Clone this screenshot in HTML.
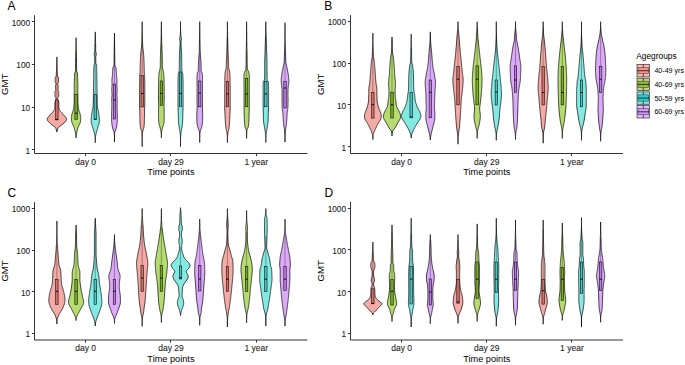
<!DOCTYPE html><html><head><meta charset="utf-8"><style>html,body{margin:0;padding:0;background:#fff;}svg{display:block;}</style></head><body>
<svg width="685" height="365" viewBox="0 0 685 365" font-family='"Liberation Sans", sans-serif'>
<rect width="685" height="365" fill="#fff"/>
<path d="M56.9,56.9 L56.9,57.9 L56.9,58.9 L56.9,59.9 L56.9,61.0 L56.9,62.0 L56.9,63.0 L57.0,64.0 L57.0,65.0 L57.0,66.0 L57.1,67.0 L57.1,68.1 L57.2,69.1 L57.2,70.1 L57.3,71.1 L57.3,72.1 L57.4,73.1 L57.4,74.2 L57.5,75.2 L57.7,76.2 L58.2,77.2 L58.5,78.2 L58.5,79.2 L58.5,80.2 L58.5,81.3 L58.5,82.3 L57.8,83.3 L57.9,84.3 L58.1,85.3 L58.2,86.3 L58.2,87.3 L58.2,88.4 L58.1,89.4 L58.1,90.4 L58.7,91.4 L58.7,92.4 L58.7,93.4 L58.7,94.4 L58.7,95.5 L58.6,96.5 L58.0,97.5 L57.7,98.5 L57.9,99.5 L58.3,100.5 L58.7,101.6 L58.9,102.6 L58.9,103.6 L58.9,104.6 L58.9,105.6 L58.9,106.6 L58.9,107.6 L59.0,108.7 L59.3,109.7 L60.0,110.7 L60.8,111.7 L61.7,112.7 L62.6,113.7 L63.5,114.7 L64.4,115.8 L65.3,116.8 L66.1,117.8 L66.6,118.8 L66.6,119.8 L66.0,120.8 L65.1,121.9 L64.1,122.9 L63.0,123.9 L61.7,124.9 L60.3,125.9 L58.9,126.9 L58.1,127.9 L57.7,129.0 L57.4,130.0 L57.1,131.0 L56.9,132.0 L56.9,132.0 L56.6,131.0 L56.3,130.0 L56.1,129.0 L55.7,127.9 L54.9,126.9 L53.4,125.9 L52.1,124.9 L50.8,123.9 L49.7,122.9 L48.7,121.9 L47.8,120.8 L47.2,119.8 L47.2,118.8 L47.7,117.8 L48.5,116.8 L49.4,115.8 L50.2,114.7 L51.1,113.7 L52.1,112.7 L53.0,111.7 L53.8,110.7 L54.5,109.7 L54.8,108.7 L54.8,107.6 L54.8,106.6 L54.8,105.6 L54.8,104.6 L54.8,103.6 L54.8,102.6 L55.1,101.6 L55.5,100.5 L55.9,99.5 L56.0,98.5 L55.7,97.5 L55.2,96.5 L55.0,95.5 L55.0,94.4 L55.0,93.4 L55.0,92.4 L55.0,91.4 L55.7,90.4 L55.7,89.4 L55.5,88.4 L55.5,87.3 L55.5,86.3 L55.6,85.3 L55.9,84.3 L56.0,83.3 L55.3,82.3 L55.2,81.3 L55.2,80.2 L55.2,79.2 L55.2,78.2 L55.5,77.2 L56.1,76.2 L56.2,75.2 L56.3,74.2 L56.4,73.1 L56.4,72.1 L56.5,71.1 L56.5,70.1 L56.6,69.1 L56.6,68.1 L56.7,67.0 L56.7,66.0 L56.8,65.0 L56.8,64.0 L56.9,63.0 L56.9,62.0 L56.9,61.0 L56.9,59.9 L56.9,58.9 L56.9,57.9 L56.9,56.9 Z" fill="#F5AAA6" stroke="#000" stroke-width="0.7"/>
<line x1="56.89" y1="74.00" x2="56.89" y2="100.00" stroke="#000" stroke-opacity="0.4" stroke-width="0.8"/>
<rect x="55.69" y="100.00" width="2.40" height="19.90" fill="#D2706A" stroke="#000" stroke-width="0.55"/>
<line x1="55.69" y1="119.30" x2="58.09" y2="119.30" stroke="#000" stroke-width="0.9"/>
<path d="M76.1,37.7 L76.1,38.7 L76.1,39.7 L76.1,40.7 L76.1,41.7 L76.1,42.8 L76.1,43.8 L76.2,44.8 L76.2,45.8 L76.2,46.8 L76.2,47.8 L76.3,48.8 L76.3,49.8 L76.3,50.9 L76.3,51.9 L76.4,52.9 L76.4,53.9 L76.4,54.9 L76.4,55.9 L76.5,56.9 L76.5,57.9 L76.5,59.0 L76.5,60.0 L76.5,61.0 L76.6,62.0 L76.6,63.0 L76.6,64.0 L76.6,65.0 L76.6,66.0 L76.6,67.1 L76.6,68.1 L76.6,69.1 L76.7,70.1 L76.7,71.1 L77.0,72.1 L77.4,73.1 L77.5,74.1 L77.6,75.1 L77.6,76.2 L77.6,77.2 L77.7,78.2 L77.7,79.2 L77.7,80.2 L77.8,81.2 L77.8,82.2 L77.9,83.2 L77.9,84.3 L77.9,85.3 L77.9,86.3 L77.9,87.3 L77.9,88.3 L77.9,89.3 L77.9,90.3 L77.9,91.3 L77.9,92.4 L77.9,93.4 L77.9,94.4 L77.9,95.4 L77.9,96.4 L77.9,97.4 L78.0,98.4 L78.0,99.4 L78.0,100.5 L78.0,101.5 L78.0,102.5 L78.1,103.5 L78.1,104.5 L78.2,105.5 L78.3,106.5 L78.4,107.5 L78.6,108.5 L78.8,109.6 L79.0,110.6 L79.3,111.6 L79.7,112.6 L80.0,113.6 L80.2,114.6 L80.4,115.6 L80.6,116.6 L80.7,117.7 L80.7,118.7 L80.7,119.7 L80.6,120.7 L80.4,121.7 L80.2,122.7 L79.8,123.7 L79.3,124.7 L78.8,125.8 L78.4,126.8 L78.0,127.8 L77.7,128.8 L77.4,129.8 L77.2,130.8 L76.9,131.8 L76.7,132.8 L76.4,133.9 L76.3,134.9 L76.1,135.9 L76.1,136.9 L76.1,137.9 L76.1,137.9 L76.1,136.9 L76.0,135.9 L75.9,134.9 L75.7,133.9 L75.5,132.8 L75.2,131.8 L75.0,130.8 L74.7,129.8 L74.5,128.8 L74.2,127.8 L73.8,126.8 L73.3,125.8 L72.9,124.7 L72.4,123.7 L72.0,122.7 L71.7,121.7 L71.6,120.7 L71.5,119.7 L71.4,118.7 L71.5,117.7 L71.6,116.6 L71.7,115.6 L71.9,114.6 L72.1,113.6 L72.4,112.6 L72.8,111.6 L73.1,110.6 L73.3,109.6 L73.5,108.5 L73.7,107.5 L73.9,106.5 L74.0,105.5 L74.0,104.5 L74.1,103.5 L74.1,102.5 L74.1,101.5 L74.2,100.5 L74.2,99.4 L74.2,98.4 L74.2,97.4 L74.2,96.4 L74.2,95.4 L74.2,94.4 L74.2,93.4 L74.2,92.4 L74.2,91.3 L74.2,90.3 L74.2,89.3 L74.2,88.3 L74.2,87.3 L74.2,86.3 L74.2,85.3 L74.2,84.3 L74.3,83.2 L74.3,82.2 L74.4,81.2 L74.4,80.2 L74.5,79.2 L74.5,78.2 L74.5,77.2 L74.5,76.2 L74.6,75.1 L74.6,74.1 L74.7,73.1 L75.1,72.1 L75.4,71.1 L75.5,70.1 L75.5,69.1 L75.5,68.1 L75.5,67.1 L75.6,66.0 L75.6,65.0 L75.6,64.0 L75.6,63.0 L75.6,62.0 L75.6,61.0 L75.6,60.0 L75.6,59.0 L75.7,57.9 L75.7,56.9 L75.7,55.9 L75.7,54.9 L75.8,53.9 L75.8,52.9 L75.8,51.9 L75.8,50.9 L75.9,49.8 L75.9,48.8 L75.9,47.8 L75.9,46.8 L76.0,45.8 L76.0,44.8 L76.0,43.8 L76.1,42.8 L76.1,41.7 L76.1,40.7 L76.1,39.7 L76.1,38.7 L76.1,37.7 Z" fill="#B6DC70" stroke="#000" stroke-width="0.7"/>
<line x1="76.07" y1="51.00" x2="76.07" y2="94.40" stroke="#000" stroke-opacity="0.4" stroke-width="0.8"/>
<rect x="74.87" y="94.40" width="2.40" height="25.00" fill="#7AAE28" stroke="#000" stroke-width="0.55"/>
<line x1="74.87" y1="113.20" x2="77.27" y2="113.20" stroke="#000" stroke-width="0.9"/>
<path d="M95.3,31.9 L95.3,32.9 L95.3,33.9 L95.3,34.9 L95.3,36.0 L95.4,37.0 L95.4,38.0 L95.4,39.0 L95.5,40.0 L95.5,41.0 L95.6,42.1 L95.6,43.1 L95.6,44.1 L95.6,45.1 L95.7,46.1 L95.7,47.1 L95.7,48.2 L95.7,49.2 L95.7,50.2 L95.8,51.2 L95.8,52.2 L96.3,53.2 L96.3,54.3 L96.2,55.3 L95.8,56.3 L95.8,57.3 L95.8,58.3 L95.8,59.3 L95.8,60.4 L95.9,61.4 L95.9,62.4 L95.9,63.4 L96.3,64.4 L96.5,65.4 L96.6,66.5 L96.6,67.5 L96.7,68.5 L96.7,69.5 L96.7,70.5 L96.8,71.5 L96.8,72.6 L96.8,73.6 L96.8,74.6 L96.8,75.6 L96.8,76.6 L96.9,77.6 L96.9,78.7 L96.9,79.7 L96.9,80.7 L96.9,81.7 L96.9,82.7 L97.0,83.7 L97.0,84.8 L97.0,85.8 L97.0,86.8 L97.0,87.8 L97.0,88.8 L97.0,89.8 L97.1,90.9 L97.1,91.9 L97.1,92.9 L97.1,93.9 L97.1,94.9 L97.1,95.9 L97.2,97.0 L97.2,98.0 L97.2,99.0 L97.2,100.0 L97.2,101.0 L97.2,102.0 L97.3,103.1 L97.3,104.1 L97.3,105.1 L97.4,106.1 L97.4,107.1 L97.6,108.1 L97.9,109.2 L98.1,110.2 L98.3,111.2 L98.5,112.2 L98.7,113.2 L98.8,114.2 L99.0,115.3 L99.1,116.3 L99.2,117.3 L99.3,118.3 L99.3,119.3 L99.3,120.3 L99.3,121.4 L99.3,122.4 L99.2,123.4 L98.9,124.4 L98.4,125.4 L98.1,126.4 L97.9,127.5 L97.6,128.5 L97.3,129.5 L97.0,130.5 L96.7,131.5 L96.4,132.5 L96.2,133.6 L95.9,134.6 L95.7,135.6 L95.5,136.6 L95.4,137.6 L95.3,138.6 L95.3,139.7 L95.3,140.7 L95.3,141.7 L95.3,142.7 L95.3,142.7 L95.3,141.7 L95.3,140.7 L95.3,139.7 L95.2,138.6 L95.1,137.6 L95.0,136.6 L94.9,135.6 L94.6,134.6 L94.4,133.6 L94.1,132.5 L93.9,131.5 L93.6,130.5 L93.3,129.5 L93.0,128.5 L92.7,127.5 L92.4,126.4 L92.1,125.4 L91.7,124.4 L91.3,123.4 L91.2,122.4 L91.2,121.4 L91.2,120.3 L91.2,119.3 L91.2,118.3 L91.3,117.3 L91.4,116.3 L91.6,115.3 L91.7,114.2 L91.9,113.2 L92.0,112.2 L92.2,111.2 L92.4,110.2 L92.6,109.2 L92.9,108.1 L93.1,107.1 L93.1,106.1 L93.2,105.1 L93.2,104.1 L93.3,103.1 L93.3,102.0 L93.3,101.0 L93.3,100.0 L93.3,99.0 L93.4,98.0 L93.4,97.0 L93.4,95.9 L93.4,94.9 L93.4,93.9 L93.4,92.9 L93.5,91.9 L93.5,90.9 L93.5,89.8 L93.5,88.8 L93.5,87.8 L93.5,86.8 L93.5,85.8 L93.6,84.8 L93.6,83.7 L93.6,82.7 L93.6,81.7 L93.6,80.7 L93.6,79.7 L93.6,78.7 L93.7,77.6 L93.7,76.6 L93.7,75.6 L93.7,74.6 L93.7,73.6 L93.7,72.6 L93.8,71.5 L93.8,70.5 L93.8,69.5 L93.8,68.5 L93.9,67.5 L93.9,66.5 L94.0,65.4 L94.2,64.4 L94.6,63.4 L94.6,62.4 L94.7,61.4 L94.7,60.4 L94.7,59.3 L94.7,58.3 L94.7,57.3 L94.7,56.3 L94.3,55.3 L94.2,54.3 L94.3,53.2 L94.7,52.2 L94.8,51.2 L94.8,50.2 L94.8,49.2 L94.8,48.2 L94.9,47.1 L94.9,46.1 L94.9,45.1 L94.9,44.1 L94.9,43.1 L95.0,42.1 L95.0,41.0 L95.0,40.0 L95.1,39.0 L95.1,38.0 L95.2,37.0 L95.2,36.0 L95.3,34.9 L95.3,33.9 L95.3,32.9 L95.3,31.9 Z" fill="#82EAE2" stroke="#000" stroke-width="0.7"/>
<line x1="95.26" y1="44.00" x2="95.26" y2="94.40" stroke="#000" stroke-opacity="0.4" stroke-width="0.8"/>
<rect x="94.06" y="94.40" width="2.40" height="25.20" fill="#4CC6C4" stroke="#000" stroke-width="0.55"/>
<line x1="94.06" y1="119.20" x2="96.46" y2="119.20" stroke="#000" stroke-width="0.9"/>
<path d="M114.5,33.0 L114.5,34.0 L114.5,35.0 L114.5,36.0 L114.5,37.0 L114.5,38.0 L114.5,39.1 L114.5,40.1 L114.5,41.1 L114.5,42.1 L114.5,43.1 L114.6,44.1 L114.6,45.1 L114.6,46.1 L114.6,47.1 L114.7,48.1 L114.7,49.1 L114.7,50.2 L114.7,51.2 L114.7,52.2 L114.7,53.2 L114.8,54.2 L114.8,55.2 L114.8,56.2 L114.8,57.2 L114.8,58.2 L114.8,59.2 L114.8,60.2 L114.8,61.3 L114.9,62.3 L114.9,63.3 L114.9,64.3 L115.0,65.3 L115.2,66.3 L116.0,67.3 L116.1,68.3 L116.2,69.3 L116.2,70.3 L116.3,71.4 L116.3,72.4 L116.4,73.4 L116.4,74.4 L116.5,75.4 L116.6,76.4 L116.8,77.4 L116.9,78.4 L116.9,79.4 L117.0,80.4 L117.0,81.4 L117.0,82.5 L116.9,83.5 L116.9,84.5 L116.9,85.5 L117.0,86.5 L117.1,87.5 L117.1,88.5 L117.2,89.5 L117.2,90.5 L117.1,91.5 L117.0,92.5 L117.0,93.6 L116.9,94.6 L116.9,95.6 L117.0,96.6 L117.1,97.6 L117.1,98.6 L117.2,99.6 L117.2,100.6 L117.2,101.6 L117.1,102.6 L117.1,103.6 L117.1,104.7 L117.1,105.7 L117.1,106.7 L117.1,107.7 L117.2,108.7 L117.2,109.7 L117.2,110.7 L117.3,111.7 L117.3,112.7 L117.3,113.7 L117.3,114.8 L117.3,115.8 L117.3,116.8 L117.3,117.8 L117.3,118.8 L117.3,119.8 L117.3,120.8 L117.2,121.8 L117.1,122.8 L117.0,123.8 L116.9,124.8 L116.7,125.9 L116.6,126.9 L116.3,127.9 L116.0,128.9 L115.7,129.9 L115.3,130.9 L114.8,131.9 L114.7,132.9 L114.6,133.9 L114.5,134.9 L114.5,135.9 L114.5,137.0 L114.5,138.0 L114.5,139.0 L114.5,140.0 L114.5,141.0 L114.5,142.0 L114.5,142.0 L114.5,141.0 L114.5,140.0 L114.5,139.0 L114.5,138.0 L114.5,137.0 L114.5,135.9 L114.4,134.9 L114.3,133.9 L114.2,132.9 L114.1,131.9 L113.6,130.9 L113.2,129.9 L112.9,128.9 L112.6,127.9 L112.3,126.9 L112.2,125.9 L112.0,124.8 L111.9,123.8 L111.8,122.8 L111.7,121.8 L111.6,120.8 L111.6,119.8 L111.6,118.8 L111.6,117.8 L111.6,116.8 L111.6,115.8 L111.6,114.8 L111.6,113.7 L111.6,112.7 L111.6,111.7 L111.7,110.7 L111.7,109.7 L111.7,108.7 L111.8,107.7 L111.8,106.7 L111.8,105.7 L111.8,104.7 L111.8,103.6 L111.8,102.6 L111.7,101.6 L111.7,100.6 L111.7,99.6 L111.8,98.6 L111.8,97.6 L111.9,96.6 L112.0,95.6 L112.0,94.6 L111.9,93.6 L111.9,92.5 L111.8,91.5 L111.7,90.5 L111.7,89.5 L111.8,88.5 L111.9,87.5 L111.9,86.5 L112.0,85.5 L112.0,84.5 L112.0,83.5 L111.9,82.5 L111.9,81.4 L111.9,80.4 L112.0,79.4 L112.0,78.4 L112.1,77.4 L112.3,76.4 L112.4,75.4 L112.5,74.4 L112.5,73.4 L112.6,72.4 L112.6,71.4 L112.7,70.3 L112.7,69.3 L112.8,68.3 L113.0,67.3 L113.7,66.3 L113.9,65.3 L114.0,64.3 L114.0,63.3 L114.0,62.3 L114.1,61.3 L114.1,60.2 L114.1,59.2 L114.1,58.2 L114.1,57.2 L114.1,56.2 L114.1,55.2 L114.1,54.2 L114.2,53.2 L114.2,52.2 L114.2,51.2 L114.2,50.2 L114.2,49.1 L114.2,48.1 L114.3,47.1 L114.3,46.1 L114.3,45.1 L114.3,44.1 L114.4,43.1 L114.4,42.1 L114.4,41.1 L114.4,40.1 L114.4,39.1 L114.5,38.0 L114.5,37.0 L114.5,36.0 L114.5,35.0 L114.5,34.0 L114.5,33.0 Z" fill="#DDAAFA" stroke="#000" stroke-width="0.7"/>
<line x1="114.45" y1="40.00" x2="114.45" y2="84.00" stroke="#000" stroke-opacity="0.4" stroke-width="0.8"/>
<rect x="113.25" y="84.00" width="2.40" height="35.00" fill="#BC78E4" stroke="#000" stroke-width="0.55"/>
<line x1="113.25" y1="100.00" x2="115.65" y2="100.00" stroke="#000" stroke-width="0.9"/>
<path d="M142.2,21.7 L142.2,22.7 L142.2,23.7 L142.2,24.7 L142.2,25.8 L142.2,26.8 L142.2,27.8 L142.2,28.8 L142.2,29.8 L142.3,30.8 L142.3,31.9 L142.3,32.9 L142.3,33.9 L142.4,34.9 L142.4,35.9 L142.4,36.9 L142.4,37.9 L142.5,39.0 L142.5,40.0 L142.5,41.0 L142.5,42.0 L142.6,43.0 L142.6,44.0 L142.7,45.1 L142.7,46.1 L142.8,47.1 L142.9,48.1 L143.0,49.1 L143.2,50.1 L143.3,51.1 L143.4,52.2 L143.5,53.2 L143.6,54.2 L143.7,55.2 L143.8,56.2 L143.8,57.2 L143.9,58.3 L143.9,59.3 L144.0,60.3 L144.0,61.3 L144.0,62.3 L144.1,63.3 L144.1,64.3 L144.1,65.4 L144.2,66.4 L144.2,67.4 L144.2,68.4 L144.2,69.4 L144.3,70.4 L144.3,71.5 L144.3,72.5 L144.4,73.5 L144.5,74.5 L144.6,75.5 L144.6,76.5 L144.7,77.5 L144.7,78.6 L144.7,79.6 L144.7,80.6 L144.7,81.6 L144.8,82.6 L144.8,83.6 L144.8,84.7 L144.8,85.7 L144.8,86.7 L144.8,87.7 L144.8,88.7 L144.8,89.7 L144.8,90.8 L144.8,91.8 L144.8,92.8 L144.8,93.8 L144.8,94.8 L144.8,95.8 L144.8,96.8 L144.8,97.9 L144.8,98.9 L144.8,99.9 L144.8,100.9 L144.8,101.9 L144.8,102.9 L144.8,104.0 L144.8,105.0 L144.7,106.0 L144.7,107.0 L144.7,108.0 L144.6,109.0 L144.6,110.0 L144.5,111.1 L144.5,112.1 L144.5,113.1 L144.5,114.1 L144.5,115.1 L144.5,116.1 L144.5,117.2 L144.4,118.2 L144.4,119.2 L144.4,120.2 L144.4,121.2 L144.4,122.2 L144.3,123.2 L144.2,124.3 L144.2,125.3 L144.1,126.3 L143.9,127.3 L143.7,128.3 L143.4,129.3 L143.1,130.4 L142.7,131.4 L142.5,132.4 L142.4,133.4 L142.3,134.4 L142.3,135.4 L142.2,136.4 L142.2,137.5 L142.2,138.5 L142.2,139.5 L142.2,140.5 L142.2,141.5 L142.2,142.5 L142.2,143.6 L142.2,144.6 L142.2,145.6 L142.2,146.6 L142.2,146.6 L142.2,145.6 L142.2,144.6 L142.2,143.6 L142.2,142.5 L142.2,141.5 L142.2,140.5 L142.2,139.5 L142.2,138.5 L142.1,137.5 L142.1,136.4 L142.0,135.4 L142.0,134.4 L141.9,133.4 L141.8,132.4 L141.7,131.4 L141.2,130.4 L140.9,129.3 L140.7,128.3 L140.4,127.3 L140.2,126.3 L140.2,125.3 L140.1,124.3 L140.0,123.2 L140.0,122.2 L139.9,121.2 L139.9,120.2 L139.9,119.2 L139.9,118.2 L139.9,117.2 L139.9,116.1 L139.9,115.1 L139.8,114.1 L139.8,113.1 L139.8,112.1 L139.8,111.1 L139.7,110.0 L139.7,109.0 L139.6,108.0 L139.6,107.0 L139.6,106.0 L139.6,105.0 L139.6,104.0 L139.5,102.9 L139.5,101.9 L139.5,100.9 L139.5,99.9 L139.5,98.9 L139.5,97.9 L139.5,96.8 L139.5,95.8 L139.5,94.8 L139.5,93.8 L139.5,92.8 L139.5,91.8 L139.5,90.8 L139.5,89.7 L139.5,88.7 L139.5,87.7 L139.5,86.7 L139.5,85.7 L139.6,84.7 L139.6,83.6 L139.6,82.6 L139.6,81.6 L139.6,80.6 L139.6,79.6 L139.6,78.6 L139.7,77.5 L139.7,76.5 L139.7,75.5 L139.8,74.5 L139.9,73.5 L140.0,72.5 L140.0,71.5 L140.1,70.4 L140.1,69.4 L140.1,68.4 L140.2,67.4 L140.2,66.4 L140.2,65.4 L140.2,64.3 L140.3,63.3 L140.3,62.3 L140.3,61.3 L140.4,60.3 L140.4,59.3 L140.5,58.3 L140.5,57.2 L140.6,56.2 L140.6,55.2 L140.7,54.2 L140.8,53.2 L140.9,52.2 L141.0,51.1 L141.2,50.1 L141.3,49.1 L141.4,48.1 L141.5,47.1 L141.6,46.1 L141.7,45.1 L141.7,44.0 L141.8,43.0 L141.8,42.0 L141.8,41.0 L141.8,40.0 L141.9,39.0 L141.9,37.9 L141.9,36.9 L141.9,35.9 L142.0,34.9 L142.0,33.9 L142.0,32.9 L142.1,31.9 L142.1,30.8 L142.1,29.8 L142.1,28.8 L142.2,27.8 L142.2,26.8 L142.2,25.8 L142.2,24.7 L142.2,23.7 L142.2,22.7 L142.2,21.7 Z" fill="#F5AAA6" stroke="#000" stroke-width="0.7"/>
<line x1="142.17" y1="43.70" x2="142.17" y2="75.50" stroke="#000" stroke-opacity="0.4" stroke-width="0.8"/>
<rect x="140.97" y="75.50" width="2.40" height="31.50" fill="#D2706A" stroke="#000" stroke-width="0.55"/>
<line x1="140.97" y1="93.50" x2="143.37" y2="93.50" stroke="#000" stroke-width="0.9"/>
<path d="M161.4,21.7 L161.4,22.7 L161.4,23.7 L161.4,24.8 L161.4,25.8 L161.4,26.8 L161.4,27.8 L161.4,28.8 L161.4,29.8 L161.4,30.9 L161.5,31.9 L161.5,32.9 L161.5,33.9 L161.6,34.9 L161.6,35.9 L161.6,37.0 L161.6,38.0 L161.7,39.0 L161.7,40.0 L161.7,41.0 L161.7,42.1 L161.8,43.1 L161.8,44.1 L161.8,45.1 L161.9,46.1 L161.9,47.1 L162.0,48.2 L162.0,49.2 L162.1,50.2 L162.1,51.2 L162.2,52.2 L162.2,53.2 L162.2,54.3 L162.3,55.3 L162.3,56.3 L162.3,57.3 L162.3,58.3 L162.4,59.3 L162.4,60.4 L162.4,61.4 L162.4,62.4 L162.4,63.4 L162.4,64.4 L162.4,65.5 L162.5,66.5 L162.5,67.5 L162.6,68.5 L162.9,69.5 L163.1,70.5 L163.4,71.6 L163.6,72.6 L163.7,73.6 L163.8,74.6 L163.9,75.6 L164.0,76.6 L164.0,77.7 L164.0,78.7 L164.1,79.7 L164.1,80.7 L164.1,81.7 L164.1,82.8 L164.1,83.8 L164.1,84.8 L164.2,85.8 L164.2,86.8 L164.2,87.8 L164.2,88.9 L164.2,89.9 L164.2,90.9 L164.2,91.9 L164.2,92.9 L164.2,93.9 L164.2,95.0 L164.2,96.0 L164.2,97.0 L164.2,98.0 L164.2,99.0 L164.2,100.1 L164.2,101.1 L164.1,102.1 L164.1,103.1 L164.0,104.1 L164.0,105.1 L164.0,106.2 L164.1,107.2 L164.1,108.2 L164.2,109.2 L164.2,110.2 L164.2,111.2 L164.2,112.3 L164.2,113.3 L164.2,114.3 L164.2,115.3 L164.2,116.3 L164.2,117.3 L164.2,118.4 L164.2,119.4 L164.1,120.4 L164.1,121.4 L164.0,122.4 L163.8,123.5 L163.5,124.5 L163.2,125.5 L162.9,126.5 L162.7,127.5 L162.4,128.5 L162.1,129.6 L161.9,130.6 L161.7,131.6 L161.6,132.6 L161.5,133.6 L161.4,134.6 L161.4,135.7 L161.4,136.7 L161.4,137.7 L161.4,137.7 L161.4,136.7 L161.4,135.7 L161.4,134.6 L161.2,133.6 L161.1,132.6 L161.0,131.6 L160.8,130.6 L160.6,129.6 L160.3,128.5 L160.0,127.5 L159.8,126.5 L159.5,125.5 L159.2,124.5 L158.9,123.5 L158.8,122.4 L158.7,121.4 L158.6,120.4 L158.5,119.4 L158.5,118.4 L158.5,117.3 L158.5,116.3 L158.5,115.3 L158.5,114.3 L158.5,113.3 L158.5,112.3 L158.5,111.2 L158.5,110.2 L158.5,109.2 L158.6,108.2 L158.6,107.2 L158.7,106.2 L158.7,105.1 L158.7,104.1 L158.6,103.1 L158.6,102.1 L158.5,101.1 L158.5,100.1 L158.5,99.0 L158.5,98.0 L158.5,97.0 L158.5,96.0 L158.5,95.0 L158.5,93.9 L158.5,92.9 L158.5,91.9 L158.5,90.9 L158.5,89.9 L158.5,88.9 L158.5,87.8 L158.5,86.8 L158.5,85.8 L158.6,84.8 L158.6,83.8 L158.6,82.8 L158.6,81.7 L158.6,80.7 L158.6,79.7 L158.7,78.7 L158.7,77.7 L158.7,76.6 L158.8,75.6 L158.9,74.6 L159.0,73.6 L159.1,72.6 L159.3,71.6 L159.6,70.5 L159.8,69.5 L160.1,68.5 L160.2,67.5 L160.2,66.5 L160.3,65.5 L160.3,64.4 L160.3,63.4 L160.3,62.4 L160.3,61.4 L160.3,60.4 L160.4,59.3 L160.4,58.3 L160.4,57.3 L160.4,56.3 L160.5,55.3 L160.5,54.3 L160.5,53.2 L160.6,52.2 L160.6,51.2 L160.6,50.2 L160.7,49.2 L160.7,48.2 L160.8,47.1 L160.8,46.1 L160.9,45.1 L160.9,44.1 L160.9,43.1 L161.0,42.1 L161.0,41.0 L161.0,40.0 L161.1,39.0 L161.1,38.0 L161.1,37.0 L161.1,35.9 L161.2,34.9 L161.2,33.9 L161.2,32.9 L161.2,31.9 L161.3,30.9 L161.3,29.8 L161.3,28.8 L161.3,27.8 L161.4,26.8 L161.4,25.8 L161.4,24.8 L161.4,23.7 L161.4,22.7 L161.4,21.7 Z" fill="#B6DC70" stroke="#000" stroke-width="0.7"/>
<line x1="161.36" y1="43.70" x2="161.36" y2="81.00" stroke="#000" stroke-opacity="0.4" stroke-width="0.8"/>
<rect x="160.16" y="81.00" width="2.40" height="24.50" fill="#7AAE28" stroke="#000" stroke-width="0.55"/>
<line x1="160.16" y1="93.40" x2="162.56" y2="93.40" stroke="#000" stroke-width="0.9"/>
<path d="M180.5,21.7 L180.5,22.7 L180.5,23.7 L180.5,24.7 L180.5,25.8 L180.5,26.8 L180.5,27.8 L180.5,28.8 L180.6,29.8 L180.6,30.8 L180.7,31.9 L180.7,32.9 L180.8,33.9 L180.8,34.9 L180.9,35.9 L181.0,36.9 L181.3,37.9 L181.4,39.0 L181.3,40.0 L181.1,41.0 L181.0,42.0 L181.0,43.0 L181.0,44.0 L181.1,45.1 L181.1,46.1 L181.2,47.1 L181.3,48.1 L181.3,49.1 L181.4,50.1 L181.5,51.1 L181.6,52.2 L181.6,53.2 L181.7,54.2 L181.7,55.2 L181.7,56.2 L181.7,57.2 L181.7,58.3 L181.7,59.3 L181.7,60.3 L181.8,61.3 L181.8,62.3 L181.8,63.3 L181.8,64.3 L181.8,65.4 L181.8,66.4 L181.8,67.4 L181.9,68.4 L181.9,69.4 L181.9,70.4 L182.0,71.5 L182.3,72.5 L182.7,73.5 L182.8,74.5 L182.9,75.5 L182.9,76.5 L183.0,77.5 L183.0,78.6 L183.0,79.6 L183.1,80.6 L183.1,81.6 L183.1,82.6 L183.1,83.6 L183.1,84.7 L183.1,85.7 L183.1,86.7 L183.1,87.7 L183.1,88.7 L183.1,89.7 L183.1,90.8 L183.1,91.8 L183.1,92.8 L183.1,93.8 L183.1,94.8 L183.1,95.8 L183.1,96.8 L183.1,97.9 L183.1,98.9 L183.1,99.9 L183.1,100.9 L183.1,101.9 L183.1,102.9 L183.1,104.0 L183.1,105.0 L183.1,106.0 L183.1,107.0 L183.0,108.0 L183.0,109.0 L183.0,110.0 L182.9,111.1 L182.9,112.1 L182.9,113.1 L182.8,114.1 L182.8,115.1 L182.8,116.1 L182.8,117.2 L182.8,118.2 L182.7,119.2 L182.7,120.2 L182.6,121.2 L182.6,122.2 L182.5,123.2 L182.4,124.3 L182.3,125.3 L182.1,126.3 L182.0,127.3 L181.8,128.3 L181.6,129.3 L181.4,130.4 L181.2,131.4 L181.0,132.4 L180.9,133.4 L180.8,134.4 L180.7,135.4 L180.7,136.4 L180.6,137.5 L180.6,138.5 L180.5,139.5 L180.5,140.5 L180.5,141.5 L180.5,142.5 L180.5,143.6 L180.5,144.6 L180.5,145.6 L180.5,146.6 L180.5,146.6 L180.5,145.6 L180.5,144.6 L180.5,143.6 L180.5,142.5 L180.5,141.5 L180.5,140.5 L180.5,139.5 L180.5,138.5 L180.5,137.5 L180.4,136.4 L180.4,135.4 L180.3,134.4 L180.2,133.4 L180.1,132.4 L179.9,131.4 L179.7,130.4 L179.4,129.3 L179.2,128.3 L179.1,127.3 L179.0,126.3 L178.8,125.3 L178.7,124.3 L178.6,123.2 L178.5,122.2 L178.5,121.2 L178.4,120.2 L178.4,119.2 L178.3,118.2 L178.3,117.2 L178.3,116.1 L178.3,115.1 L178.2,114.1 L178.2,113.1 L178.2,112.1 L178.2,111.1 L178.1,110.0 L178.1,109.0 L178.1,108.0 L178.0,107.0 L178.0,106.0 L178.0,105.0 L178.0,104.0 L178.0,102.9 L178.0,101.9 L178.0,100.9 L178.0,99.9 L178.0,98.9 L178.0,97.9 L178.0,96.8 L178.0,95.8 L178.0,94.8 L178.0,93.8 L178.0,92.8 L178.0,91.8 L178.0,90.8 L178.0,89.7 L178.0,88.7 L178.0,87.7 L178.0,86.7 L178.0,85.7 L178.0,84.7 L178.0,83.6 L178.0,82.6 L178.0,81.6 L178.0,80.6 L178.1,79.6 L178.1,78.6 L178.1,77.5 L178.2,76.5 L178.2,75.5 L178.3,74.5 L178.4,73.5 L178.8,72.5 L179.1,71.5 L179.1,70.4 L179.2,69.4 L179.2,68.4 L179.3,67.4 L179.3,66.4 L179.3,65.4 L179.3,64.3 L179.3,63.3 L179.3,62.3 L179.3,61.3 L179.3,60.3 L179.3,59.3 L179.4,58.3 L179.4,57.2 L179.4,56.2 L179.4,55.2 L179.4,54.2 L179.5,53.2 L179.5,52.2 L179.6,51.1 L179.7,50.1 L179.8,49.1 L179.8,48.1 L179.9,47.1 L179.9,46.1 L180.0,45.1 L180.0,44.0 L180.1,43.0 L180.1,42.0 L180.0,41.0 L179.8,40.0 L179.7,39.0 L179.8,37.9 L180.0,36.9 L180.2,35.9 L180.3,34.9 L180.3,33.9 L180.4,32.9 L180.4,31.9 L180.5,30.8 L180.5,29.8 L180.5,28.8 L180.5,27.8 L180.5,26.8 L180.5,25.8 L180.5,24.7 L180.5,23.7 L180.5,22.7 L180.5,21.7 Z" fill="#82EAE2" stroke="#000" stroke-width="0.7"/>
<line x1="180.54" y1="41.80" x2="180.54" y2="72.00" stroke="#000" stroke-opacity="0.4" stroke-width="0.8"/>
<rect x="179.34" y="72.00" width="2.40" height="34.50" fill="#4CC6C4" stroke="#000" stroke-width="0.55"/>
<line x1="179.34" y1="93.40" x2="181.74" y2="93.40" stroke="#000" stroke-width="0.9"/>
<path d="M199.7,21.7 L199.7,22.7 L199.7,23.7 L199.7,24.7 L199.7,25.8 L199.7,26.8 L199.7,27.8 L199.7,28.8 L199.8,29.8 L199.8,30.8 L199.8,31.9 L199.8,32.9 L199.8,33.9 L199.9,34.9 L199.9,35.9 L199.9,36.9 L199.9,37.9 L200.0,39.0 L200.0,40.0 L200.0,41.0 L200.0,42.0 L200.0,43.0 L200.1,44.0 L200.1,45.0 L200.1,46.1 L200.1,47.1 L200.1,48.1 L200.2,49.1 L200.2,50.1 L200.2,51.1 L200.3,52.2 L200.3,53.2 L200.4,54.2 L200.4,55.2 L200.5,56.2 L200.6,57.2 L200.7,58.2 L200.8,59.3 L200.9,60.3 L200.9,61.3 L201.0,62.3 L201.0,63.3 L201.1,64.3 L201.1,65.4 L201.1,66.4 L201.1,67.4 L201.2,68.4 L201.2,69.4 L201.2,70.4 L201.3,71.4 L201.9,72.5 L202.2,73.5 L202.3,74.5 L202.4,75.5 L202.5,76.5 L202.5,77.5 L202.5,78.5 L202.5,79.6 L202.5,80.6 L202.5,81.6 L202.5,82.6 L202.5,83.6 L202.5,84.6 L202.5,85.7 L202.5,86.7 L202.5,87.7 L202.5,88.7 L202.5,89.7 L202.5,90.7 L202.5,91.7 L202.5,92.8 L202.5,93.8 L202.5,94.8 L202.5,95.8 L202.5,96.8 L202.5,97.8 L202.5,98.8 L202.5,99.9 L202.5,100.9 L202.5,101.9 L202.4,102.9 L202.4,103.9 L202.4,104.9 L202.4,106.0 L202.4,107.0 L202.4,108.0 L202.4,109.0 L202.5,110.0 L202.5,111.0 L202.6,112.0 L202.6,113.1 L202.7,114.1 L202.7,115.1 L202.7,116.1 L202.7,117.1 L202.7,118.1 L202.6,119.2 L202.6,120.2 L202.6,121.2 L202.6,122.2 L202.5,123.2 L202.3,124.2 L202.1,125.2 L201.9,126.3 L201.6,127.3 L201.3,128.3 L200.9,129.3 L200.5,130.3 L200.2,131.3 L200.1,132.3 L200.0,133.4 L199.9,134.4 L199.8,135.4 L199.8,136.4 L199.7,137.4 L199.7,138.4 L199.7,139.5 L199.7,140.5 L199.7,141.5 L199.7,142.5 L199.7,142.5 L199.7,141.5 L199.7,140.5 L199.7,139.5 L199.7,138.4 L199.7,137.4 L199.7,136.4 L199.6,135.4 L199.6,134.4 L199.5,133.4 L199.4,132.3 L199.3,131.3 L199.0,130.3 L198.6,129.3 L198.2,128.3 L197.9,127.3 L197.6,126.3 L197.4,125.2 L197.1,124.2 L197.0,123.2 L196.9,122.2 L196.9,121.2 L196.8,120.2 L196.8,119.2 L196.8,118.1 L196.8,117.1 L196.8,116.1 L196.8,115.1 L196.8,114.1 L196.8,113.1 L196.9,112.0 L196.9,111.0 L197.0,110.0 L197.0,109.0 L197.1,108.0 L197.1,107.0 L197.1,106.0 L197.1,104.9 L197.0,103.9 L197.0,102.9 L197.0,101.9 L197.0,100.9 L197.0,99.9 L197.0,98.8 L197.0,97.8 L197.0,96.8 L197.0,95.8 L197.0,94.8 L197.0,93.8 L197.0,92.8 L197.0,91.7 L197.0,90.7 L197.0,89.7 L197.0,88.7 L197.0,87.7 L197.0,86.7 L197.0,85.7 L197.0,84.6 L197.0,83.6 L197.0,82.6 L197.0,81.6 L197.0,80.6 L197.0,79.6 L197.0,78.5 L197.0,77.5 L197.0,76.5 L197.1,75.5 L197.1,74.5 L197.2,73.5 L197.5,72.5 L198.2,71.4 L198.2,70.4 L198.3,69.4 L198.3,68.4 L198.3,67.4 L198.3,66.4 L198.4,65.4 L198.4,64.3 L198.5,63.3 L198.5,62.3 L198.6,61.3 L198.6,60.3 L198.7,59.3 L198.7,58.2 L198.8,57.2 L198.9,56.2 L199.0,55.2 L199.1,54.2 L199.2,53.2 L199.2,52.2 L199.2,51.1 L199.3,50.1 L199.3,49.1 L199.3,48.1 L199.3,47.1 L199.4,46.1 L199.4,45.0 L199.4,44.0 L199.4,43.0 L199.4,42.0 L199.5,41.0 L199.5,40.0 L199.5,39.0 L199.5,37.9 L199.6,36.9 L199.6,35.9 L199.6,34.9 L199.6,33.9 L199.6,32.9 L199.7,31.9 L199.7,30.8 L199.7,29.8 L199.7,28.8 L199.7,27.8 L199.7,26.8 L199.7,25.8 L199.7,24.7 L199.7,23.7 L199.7,22.7 L199.7,21.7 Z" fill="#DDAAFA" stroke="#000" stroke-width="0.7"/>
<line x1="199.73" y1="53.30" x2="199.73" y2="81.00" stroke="#000" stroke-opacity="0.4" stroke-width="0.8"/>
<rect x="198.53" y="81.00" width="2.40" height="25.80" fill="#BC78E4" stroke="#000" stroke-width="0.55"/>
<line x1="198.53" y1="93.00" x2="200.93" y2="93.00" stroke="#000" stroke-width="0.9"/>
<path d="M227.4,21.7 L227.4,22.7 L227.4,23.7 L227.4,24.7 L227.4,25.8 L227.4,26.8 L227.4,27.8 L227.5,28.8 L227.5,29.8 L227.5,30.8 L227.5,31.9 L227.6,32.9 L227.6,33.9 L227.6,34.9 L227.6,35.9 L227.7,36.9 L227.7,37.9 L227.7,39.0 L227.7,40.0 L227.8,41.0 L227.8,42.0 L227.8,43.0 L227.8,44.0 L227.9,45.0 L227.9,46.1 L227.9,47.1 L227.9,48.1 L228.0,49.1 L228.0,50.1 L228.0,51.1 L228.1,52.2 L228.1,53.2 L228.2,54.2 L228.2,55.2 L228.3,56.2 L228.3,57.2 L228.4,58.2 L228.4,59.3 L228.5,60.3 L228.5,61.3 L228.6,62.3 L228.6,63.3 L228.6,64.3 L228.6,65.4 L228.7,66.4 L228.7,67.4 L228.8,68.4 L229.1,69.4 L229.3,70.4 L229.6,71.4 L229.8,72.5 L229.8,73.5 L229.9,74.5 L230.0,75.5 L230.0,76.5 L230.0,77.5 L230.1,78.5 L230.1,79.6 L230.1,80.6 L230.1,81.6 L230.1,82.6 L230.1,83.6 L230.1,84.6 L230.2,85.7 L230.2,86.7 L230.2,87.7 L230.2,88.7 L230.2,89.7 L230.2,90.7 L230.2,91.7 L230.2,92.8 L230.2,93.8 L230.2,94.8 L230.2,95.8 L230.2,96.8 L230.2,97.8 L230.2,98.8 L230.2,99.9 L230.2,100.9 L230.2,101.9 L230.2,102.9 L230.2,103.9 L230.2,104.9 L230.2,106.0 L230.2,107.0 L230.2,108.0 L230.2,109.0 L230.1,110.0 L230.1,111.0 L230.0,112.0 L230.0,113.1 L229.9,114.1 L229.9,115.1 L229.9,116.1 L229.8,117.1 L229.8,118.1 L229.7,119.2 L229.7,120.2 L229.6,121.2 L229.6,122.2 L229.5,123.2 L229.4,124.2 L229.3,125.2 L229.2,126.3 L229.1,127.3 L229.0,128.3 L228.7,129.3 L228.5,130.3 L228.2,131.3 L228.0,132.3 L227.9,133.4 L227.8,134.4 L227.7,135.4 L227.6,136.4 L227.5,137.4 L227.4,138.4 L227.4,139.5 L227.4,140.5 L227.4,141.5 L227.4,142.5 L227.4,142.5 L227.4,141.5 L227.4,140.5 L227.4,139.5 L227.4,138.4 L227.4,137.4 L227.3,136.4 L227.2,135.4 L227.1,134.4 L227.0,133.4 L226.9,132.3 L226.7,131.3 L226.4,130.3 L226.2,129.3 L225.9,128.3 L225.8,127.3 L225.7,126.3 L225.6,125.2 L225.5,124.2 L225.4,123.2 L225.3,122.2 L225.3,121.2 L225.2,120.2 L225.2,119.2 L225.1,118.1 L225.1,117.1 L225.0,116.1 L225.0,115.1 L225.0,114.1 L224.9,113.1 L224.9,112.0 L224.8,111.0 L224.8,110.0 L224.7,109.0 L224.7,108.0 L224.7,107.0 L224.7,106.0 L224.7,104.9 L224.7,103.9 L224.7,102.9 L224.7,101.9 L224.7,100.9 L224.7,99.9 L224.7,98.8 L224.7,97.8 L224.7,96.8 L224.7,95.8 L224.7,94.8 L224.7,93.8 L224.7,92.8 L224.7,91.7 L224.7,90.7 L224.7,89.7 L224.7,88.7 L224.7,87.7 L224.7,86.7 L224.7,85.7 L224.7,84.6 L224.8,83.6 L224.8,82.6 L224.8,81.6 L224.8,80.6 L224.8,79.6 L224.8,78.5 L224.9,77.5 L224.9,76.5 L224.9,75.5 L225.0,74.5 L225.1,73.5 L225.1,72.5 L225.3,71.4 L225.6,70.4 L225.8,69.4 L226.1,68.4 L226.2,67.4 L226.2,66.4 L226.3,65.4 L226.3,64.3 L226.3,63.3 L226.3,62.3 L226.4,61.3 L226.4,60.3 L226.5,59.3 L226.5,58.2 L226.6,57.2 L226.6,56.2 L226.7,55.2 L226.7,54.2 L226.8,53.2 L226.8,52.2 L226.9,51.1 L226.9,50.1 L226.9,49.1 L227.0,48.1 L227.0,47.1 L227.0,46.1 L227.0,45.0 L227.1,44.0 L227.1,43.0 L227.1,42.0 L227.1,41.0 L227.2,40.0 L227.2,39.0 L227.2,37.9 L227.2,36.9 L227.3,35.9 L227.3,34.9 L227.3,33.9 L227.3,32.9 L227.4,31.9 L227.4,30.8 L227.4,29.8 L227.4,28.8 L227.4,27.8 L227.4,26.8 L227.4,25.8 L227.4,24.7 L227.4,23.7 L227.4,22.7 L227.4,21.7 Z" fill="#F5AAA6" stroke="#000" stroke-width="0.7"/>
<line x1="227.45" y1="38.00" x2="227.45" y2="81.40" stroke="#000" stroke-opacity="0.4" stroke-width="0.8"/>
<rect x="226.25" y="81.40" width="2.40" height="25.40" fill="#D2706A" stroke="#000" stroke-width="0.55"/>
<line x1="226.25" y1="93.90" x2="228.65" y2="93.90" stroke="#000" stroke-width="0.9"/>
<path d="M246.6,21.7 L246.6,22.7 L246.6,23.7 L246.6,24.7 L246.6,25.8 L246.6,26.8 L246.6,27.8 L246.6,28.8 L246.6,29.8 L246.6,30.8 L246.7,31.8 L246.7,32.9 L246.7,33.9 L246.7,34.9 L246.7,35.9 L246.7,36.9 L246.8,37.9 L246.8,39.0 L246.8,40.0 L246.8,41.0 L246.8,42.0 L246.9,43.0 L246.9,44.0 L246.9,45.0 L246.9,46.1 L246.9,47.1 L246.9,48.1 L247.0,49.1 L247.0,50.1 L247.0,51.1 L247.0,52.1 L247.0,53.2 L247.1,54.2 L247.1,55.2 L247.1,56.2 L247.1,57.2 L247.1,58.2 L247.2,59.2 L247.2,60.3 L247.2,61.3 L247.2,62.3 L247.2,63.3 L247.2,64.3 L247.3,65.3 L247.3,66.4 L247.3,67.4 L247.4,68.4 L247.5,69.4 L248.0,70.4 L248.5,71.4 L248.8,72.4 L249.1,73.5 L249.2,74.5 L249.3,75.5 L249.4,76.5 L249.4,77.5 L249.4,78.5 L249.4,79.5 L249.4,80.6 L249.3,81.6 L249.3,82.6 L249.3,83.6 L249.3,84.6 L249.3,85.6 L249.3,86.6 L249.3,87.7 L249.3,88.7 L249.3,89.7 L249.3,90.7 L249.3,91.7 L249.3,92.7 L249.3,93.7 L249.3,94.8 L249.3,95.8 L249.3,96.8 L249.3,97.8 L249.3,98.8 L249.3,99.8 L249.3,100.9 L249.3,101.9 L249.3,102.9 L249.3,103.9 L249.3,104.9 L249.3,105.9 L249.3,106.9 L249.2,108.0 L249.2,109.0 L249.2,110.0 L249.2,111.0 L249.1,112.0 L249.1,113.0 L249.1,114.0 L249.1,115.1 L249.1,116.1 L249.0,117.1 L249.0,118.1 L248.9,119.1 L248.9,120.1 L248.9,121.1 L248.8,122.2 L248.7,123.2 L248.6,124.2 L248.5,125.2 L248.4,126.2 L248.2,127.2 L247.6,128.3 L247.1,129.3 L247.0,130.3 L246.9,131.3 L246.8,132.3 L246.7,133.3 L246.6,134.3 L246.6,135.4 L246.6,136.4 L246.6,137.4 L246.6,138.4 L246.6,138.4 L246.6,137.4 L246.6,136.4 L246.6,135.4 L246.6,134.3 L246.6,133.3 L246.5,132.3 L246.4,131.3 L246.3,130.3 L246.1,129.3 L245.6,128.3 L245.1,127.2 L244.9,126.2 L244.8,125.2 L244.6,124.2 L244.6,123.2 L244.5,122.2 L244.4,121.1 L244.4,120.1 L244.3,119.1 L244.3,118.1 L244.3,117.1 L244.2,116.1 L244.2,115.1 L244.2,114.0 L244.2,113.0 L244.1,112.0 L244.1,111.0 L244.1,110.0 L244.1,109.0 L244.0,108.0 L244.0,106.9 L244.0,105.9 L244.0,104.9 L244.0,103.9 L244.0,102.9 L244.0,101.9 L244.0,100.9 L244.0,99.8 L244.0,98.8 L244.0,97.8 L244.0,96.8 L244.0,95.8 L244.0,94.8 L244.0,93.7 L244.0,92.7 L244.0,91.7 L244.0,90.7 L244.0,89.7 L244.0,88.7 L244.0,87.7 L244.0,86.6 L244.0,85.6 L244.0,84.6 L244.0,83.6 L243.9,82.6 L243.9,81.6 L243.9,80.6 L243.9,79.5 L243.9,78.5 L243.9,77.5 L243.9,76.5 L244.0,75.5 L244.0,74.5 L244.2,73.5 L244.5,72.4 L244.8,71.4 L245.3,70.4 L245.7,69.4 L245.9,68.4 L245.9,67.4 L246.0,66.4 L246.0,65.3 L246.0,64.3 L246.1,63.3 L246.1,62.3 L246.1,61.3 L246.1,60.3 L246.1,59.2 L246.1,58.2 L246.1,57.2 L246.2,56.2 L246.2,55.2 L246.2,54.2 L246.2,53.2 L246.2,52.1 L246.3,51.1 L246.3,50.1 L246.3,49.1 L246.3,48.1 L246.3,47.1 L246.4,46.1 L246.4,45.0 L246.4,44.0 L246.4,43.0 L246.4,42.0 L246.5,41.0 L246.5,40.0 L246.5,39.0 L246.5,37.9 L246.5,36.9 L246.6,35.9 L246.6,34.9 L246.6,33.9 L246.6,32.9 L246.6,31.8 L246.6,30.8 L246.6,29.8 L246.6,28.8 L246.6,27.8 L246.6,26.8 L246.6,25.8 L246.6,24.7 L246.6,23.7 L246.6,22.7 L246.6,21.7 Z" fill="#B6DC70" stroke="#000" stroke-width="0.7"/>
<line x1="246.64" y1="50.00" x2="246.64" y2="78.30" stroke="#000" stroke-opacity="0.4" stroke-width="0.8"/>
<rect x="245.44" y="78.30" width="2.40" height="28.50" fill="#7AAE28" stroke="#000" stroke-width="0.55"/>
<line x1="245.44" y1="93.90" x2="247.84" y2="93.90" stroke="#000" stroke-width="0.9"/>
<path d="M265.8,21.7 L265.8,22.7 L265.8,23.7 L265.8,24.7 L265.8,25.8 L265.8,26.8 L265.9,27.8 L265.9,28.8 L265.9,29.8 L266.0,30.8 L266.0,31.9 L266.0,32.9 L266.1,33.9 L266.1,34.9 L266.1,35.9 L266.2,36.9 L266.2,37.9 L266.2,39.0 L266.3,40.0 L266.3,41.0 L266.3,42.0 L266.3,43.0 L266.4,44.0 L266.4,45.0 L266.4,46.1 L266.5,47.1 L266.5,48.1 L266.5,49.1 L266.6,50.1 L266.6,51.1 L266.6,52.2 L266.7,53.2 L266.7,54.2 L266.8,55.2 L266.8,56.2 L266.9,57.2 L266.9,58.2 L267.0,59.3 L267.0,60.3 L267.0,61.3 L267.0,62.3 L267.0,63.3 L267.0,64.3 L267.0,65.4 L267.0,66.4 L267.0,67.4 L267.0,68.4 L267.1,69.4 L267.1,70.4 L267.1,71.4 L267.1,72.5 L267.1,73.5 L267.1,74.5 L267.1,75.5 L267.1,76.5 L267.1,77.5 L267.2,78.5 L267.2,79.6 L267.6,80.6 L268.3,81.6 L268.4,82.6 L268.5,83.6 L268.5,84.6 L268.5,85.7 L268.5,86.7 L268.6,87.7 L268.6,88.7 L268.6,89.7 L268.6,90.7 L268.6,91.7 L268.6,92.8 L268.6,93.8 L268.6,94.8 L268.6,95.8 L268.6,96.8 L268.6,97.8 L268.6,98.8 L268.6,99.9 L268.6,100.9 L268.6,101.9 L268.6,102.9 L268.6,103.9 L268.6,104.9 L268.6,106.0 L268.6,107.0 L268.6,108.0 L268.5,109.0 L268.5,110.0 L268.4,111.0 L268.4,112.0 L268.3,113.1 L268.3,114.1 L268.3,115.1 L268.3,116.1 L268.3,117.1 L268.2,118.1 L268.2,119.2 L268.2,120.2 L268.1,121.2 L268.0,122.2 L267.9,123.2 L267.7,124.2 L267.6,125.2 L267.4,126.3 L267.2,127.3 L267.1,128.3 L266.9,129.3 L266.7,130.3 L266.5,131.3 L266.3,132.3 L266.2,133.4 L266.1,134.4 L266.0,135.4 L266.0,136.4 L265.9,137.4 L265.8,138.4 L265.8,139.5 L265.8,140.5 L265.8,141.5 L265.8,142.5 L265.8,142.5 L265.8,141.5 L265.8,140.5 L265.8,139.5 L265.8,138.4 L265.8,137.4 L265.7,136.4 L265.6,135.4 L265.5,134.4 L265.4,133.4 L265.3,132.3 L265.2,131.3 L265.0,130.3 L264.8,129.3 L264.6,128.3 L264.4,127.3 L264.3,126.3 L264.1,125.2 L263.9,124.2 L263.8,123.2 L263.6,122.2 L263.5,121.2 L263.5,120.2 L263.4,119.2 L263.4,118.1 L263.4,117.1 L263.4,116.1 L263.3,115.1 L263.3,114.1 L263.3,113.1 L263.3,112.0 L263.2,111.0 L263.2,110.0 L263.1,109.0 L263.1,108.0 L263.1,107.0 L263.1,106.0 L263.1,104.9 L263.1,103.9 L263.1,102.9 L263.1,101.9 L263.1,100.9 L263.1,99.9 L263.1,98.8 L263.1,97.8 L263.1,96.8 L263.1,95.8 L263.1,94.8 L263.1,93.8 L263.1,92.8 L263.1,91.7 L263.1,90.7 L263.1,89.7 L263.1,88.7 L263.1,87.7 L263.1,86.7 L263.1,85.7 L263.2,84.6 L263.2,83.6 L263.2,82.6 L263.4,81.6 L264.0,80.6 L264.5,79.6 L264.5,78.5 L264.5,77.5 L264.5,76.5 L264.6,75.5 L264.6,74.5 L264.6,73.5 L264.6,72.5 L264.6,71.4 L264.6,70.4 L264.6,69.4 L264.6,68.4 L264.6,67.4 L264.6,66.4 L264.6,65.4 L264.6,64.3 L264.6,63.3 L264.6,62.3 L264.7,61.3 L264.7,60.3 L264.7,59.3 L264.7,58.2 L264.8,57.2 L264.8,56.2 L264.9,55.2 L264.9,54.2 L265.0,53.2 L265.0,52.2 L265.0,51.1 L265.1,50.1 L265.1,49.1 L265.1,48.1 L265.2,47.1 L265.2,46.1 L265.2,45.0 L265.3,44.0 L265.3,43.0 L265.3,42.0 L265.4,41.0 L265.4,40.0 L265.4,39.0 L265.5,37.9 L265.5,36.9 L265.5,35.9 L265.5,34.9 L265.6,33.9 L265.6,32.9 L265.6,31.9 L265.7,30.8 L265.7,29.8 L265.7,28.8 L265.8,27.8 L265.8,26.8 L265.8,25.8 L265.8,24.7 L265.8,23.7 L265.8,22.7 L265.8,21.7 Z" fill="#82EAE2" stroke="#000" stroke-width="0.7"/>
<line x1="265.83" y1="36.00" x2="265.83" y2="81.40" stroke="#000" stroke-opacity="0.4" stroke-width="0.8"/>
<rect x="264.63" y="81.40" width="2.40" height="25.40" fill="#4CC6C4" stroke="#000" stroke-width="0.55"/>
<line x1="264.63" y1="93.90" x2="267.03" y2="93.90" stroke="#000" stroke-width="0.9"/>
<path d="M285.0,22.7 L285.0,23.7 L285.0,24.7 L285.0,25.7 L285.0,26.7 L285.0,27.8 L285.0,28.8 L285.0,29.8 L285.0,30.8 L285.0,31.8 L285.0,32.8 L285.0,33.8 L285.0,34.8 L285.0,35.8 L285.1,36.9 L285.1,37.9 L285.1,38.9 L285.1,39.9 L285.2,40.9 L285.2,41.9 L285.2,42.9 L285.2,43.9 L285.3,44.9 L285.3,46.0 L285.3,47.0 L285.4,48.0 L285.4,49.0 L285.4,50.0 L285.5,51.0 L285.5,52.0 L285.6,53.0 L285.6,54.0 L285.6,55.1 L285.6,56.1 L285.7,57.1 L285.7,58.1 L285.7,59.1 L285.8,60.1 L285.8,61.1 L285.9,62.1 L286.0,63.1 L286.2,64.2 L286.5,65.2 L286.7,66.2 L286.9,67.2 L287.1,68.2 L287.3,69.2 L287.5,70.2 L287.7,71.2 L287.9,72.2 L288.1,73.3 L288.2,74.3 L288.4,75.3 L288.5,76.3 L288.6,77.3 L288.7,78.3 L288.8,79.3 L288.9,80.3 L288.9,81.3 L288.8,82.3 L288.7,83.4 L288.5,84.4 L288.4,85.4 L288.3,86.4 L288.2,87.4 L288.1,88.4 L288.1,89.4 L288.0,90.4 L288.0,91.4 L288.0,92.5 L288.0,93.5 L288.0,94.5 L288.0,95.5 L288.0,96.5 L288.0,97.5 L288.1,98.5 L288.1,99.5 L288.1,100.5 L288.1,101.6 L288.0,102.6 L288.0,103.6 L288.0,104.6 L288.0,105.6 L287.9,106.6 L287.9,107.6 L287.8,108.6 L287.7,109.6 L287.5,110.7 L287.3,111.7 L287.2,112.7 L287.1,113.7 L287.1,114.7 L287.0,115.7 L287.0,116.7 L286.9,117.7 L286.9,118.7 L286.8,119.8 L286.7,120.8 L286.6,121.8 L286.5,122.8 L286.4,123.8 L286.3,124.8 L286.2,125.8 L286.0,126.8 L285.9,127.8 L285.7,128.9 L285.6,129.9 L285.5,130.9 L285.4,131.9 L285.3,132.9 L285.2,133.9 L285.2,134.9 L285.1,135.9 L285.0,136.9 L285.0,138.0 L285.0,139.0 L285.0,140.0 L285.0,141.0 L285.0,142.0 L285.0,142.0 L285.0,141.0 L285.0,140.0 L285.0,139.0 L285.0,138.0 L285.0,136.9 L284.9,135.9 L284.9,134.9 L284.8,133.9 L284.7,132.9 L284.6,131.9 L284.5,130.9 L284.5,129.9 L284.3,128.9 L284.2,127.8 L284.0,126.8 L283.8,125.8 L283.7,124.8 L283.6,123.8 L283.5,122.8 L283.4,121.8 L283.3,120.8 L283.2,119.8 L283.2,118.7 L283.1,117.7 L283.1,116.7 L283.0,115.7 L283.0,114.7 L282.9,113.7 L282.8,112.7 L282.7,111.7 L282.6,110.7 L282.4,109.6 L282.2,108.6 L282.1,107.6 L282.1,106.6 L282.1,105.6 L282.0,104.6 L282.0,103.6 L282.0,102.6 L282.0,101.6 L282.0,100.5 L282.0,99.5 L282.0,98.5 L282.0,97.5 L282.0,96.5 L282.0,95.5 L282.0,94.5 L282.1,93.5 L282.1,92.5 L282.1,91.4 L282.0,90.4 L282.0,89.4 L281.9,88.4 L281.8,87.4 L281.7,86.4 L281.6,85.4 L281.5,84.4 L281.4,83.4 L281.2,82.3 L281.2,81.3 L281.2,80.3 L281.2,79.3 L281.3,78.3 L281.4,77.3 L281.5,76.3 L281.7,75.3 L281.8,74.3 L282.0,73.3 L282.1,72.2 L282.3,71.2 L282.5,70.2 L282.7,69.2 L282.9,68.2 L283.1,67.2 L283.3,66.2 L283.6,65.2 L283.8,64.2 L284.0,63.1 L284.2,62.1 L284.2,61.1 L284.3,60.1 L284.3,59.1 L284.3,58.1 L284.4,57.1 L284.4,56.1 L284.4,55.1 L284.4,54.0 L284.5,53.0 L284.5,52.0 L284.5,51.0 L284.6,50.0 L284.6,49.0 L284.7,48.0 L284.7,47.0 L284.7,46.0 L284.8,44.9 L284.8,43.9 L284.8,42.9 L284.8,41.9 L284.9,40.9 L284.9,39.9 L284.9,38.9 L284.9,37.9 L285.0,36.9 L285.0,35.8 L285.0,34.8 L285.0,33.8 L285.0,32.8 L285.0,31.8 L285.0,30.8 L285.0,29.8 L285.0,28.8 L285.0,27.8 L285.0,26.7 L285.0,25.7 L285.0,24.7 L285.0,23.7 L285.0,22.7 Z" fill="#DDAAFA" stroke="#000" stroke-width="0.7"/>
<line x1="285.01" y1="53.30" x2="285.01" y2="81.40" stroke="#000" stroke-opacity="0.4" stroke-width="0.8"/>
<rect x="283.81" y="81.40" width="2.40" height="26.60" fill="#BC78E4" stroke="#000" stroke-width="0.55"/>
<line x1="283.81" y1="88.00" x2="286.21" y2="88.00" stroke="#000" stroke-width="0.9"/>
<path d="M34.5,15.2 V153.5 H307.4" fill="none" stroke="#333333" stroke-width="1"/>
<line x1="31.9" y1="149.50" x2="34.5" y2="149.50" stroke="#333333" stroke-width="1"/>
<text transform="translate(30.10,153.60) scale(1,1.2)" font-size="8.3" fill="#1a1a1a" stroke="#1a1a1a" stroke-width="0.08" text-anchor="end">1</text>
<line x1="31.9" y1="107.50" x2="34.5" y2="107.50" stroke="#333333" stroke-width="1"/>
<text transform="translate(30.10,111.00) scale(1,1.2)" font-size="8.3" fill="#1a1a1a" stroke="#1a1a1a" stroke-width="0.08" text-anchor="end">10</text>
<line x1="31.9" y1="64.50" x2="34.5" y2="64.50" stroke="#333333" stroke-width="1"/>
<text transform="translate(30.10,68.40) scale(1,1.2)" font-size="8.3" fill="#1a1a1a" stroke="#1a1a1a" stroke-width="0.08" text-anchor="end">100</text>
<line x1="31.9" y1="21.50" x2="34.5" y2="21.50" stroke="#333333" stroke-width="1"/>
<text transform="translate(30.10,25.80) scale(1,1.2)" font-size="8.3" fill="#1a1a1a" stroke="#1a1a1a" stroke-width="0.08" text-anchor="end">1000</text>
<line x1="85.50" y1="153.5" x2="85.50" y2="156.1" stroke="#333333" stroke-width="1"/>
<text transform="translate(85.67,164.70) scale(1,1.1)" font-size="8.5" fill="#1a1a1a" stroke="#1a1a1a" stroke-width="0.08" text-anchor="middle">day 0</text>
<line x1="170.50" y1="153.5" x2="170.50" y2="156.1" stroke="#333333" stroke-width="1"/>
<text transform="translate(170.95,164.70) scale(1,1.1)" font-size="8.5" fill="#1a1a1a" stroke="#1a1a1a" stroke-width="0.08" text-anchor="middle">day 29</text>
<line x1="256.50" y1="153.5" x2="256.50" y2="156.1" stroke="#333333" stroke-width="1"/>
<text transform="translate(256.23,164.70) scale(1,1.1)" font-size="8.5" fill="#1a1a1a" stroke="#1a1a1a" stroke-width="0.08" text-anchor="middle">1 year</text>
<text x="170.95" y="175.00" font-size="9.2" fill="#000" text-anchor="middle">Time points</text>
<text transform="translate(7.90,84.35) rotate(-90)" font-size="9.6" fill="#000" text-anchor="middle">GMT</text>
<text x="7.6" y="10.0" font-size="12" fill="#000">A</text>
<path d="M372.9,33.2 L372.9,34.2 L372.9,35.2 L372.9,36.2 L372.9,37.2 L372.9,38.3 L372.9,39.3 L372.9,40.3 L372.9,41.3 L373.0,42.3 L373.0,43.3 L373.0,44.3 L373.1,45.3 L373.1,46.4 L373.1,47.4 L373.2,48.4 L373.2,49.4 L373.2,50.4 L373.3,51.4 L373.3,52.4 L373.3,53.4 L373.4,54.5 L373.5,55.5 L373.5,56.5 L373.6,57.5 L373.8,58.5 L374.0,59.5 L374.1,60.5 L374.3,61.5 L374.4,62.6 L374.5,63.6 L374.6,64.6 L374.7,65.6 L374.7,66.6 L374.8,67.6 L374.9,68.6 L375.0,69.6 L375.1,70.7 L375.1,71.7 L375.2,72.7 L375.3,73.7 L375.4,74.7 L375.4,75.7 L375.5,76.7 L375.6,77.7 L375.6,78.8 L375.7,79.8 L375.8,80.8 L375.9,81.8 L376.0,82.8 L376.1,83.8 L376.3,84.8 L376.5,85.8 L376.6,86.9 L376.8,87.9 L376.9,88.9 L376.9,89.9 L376.9,90.9 L376.9,91.9 L376.9,92.9 L376.9,93.9 L377.0,95.0 L377.0,96.0 L377.0,97.0 L377.0,98.0 L377.0,99.0 L377.1,100.0 L377.2,101.0 L377.3,102.0 L377.5,103.1 L377.7,104.1 L377.9,105.1 L378.2,106.1 L378.5,107.1 L378.8,108.1 L379.2,109.1 L379.6,110.1 L380.0,111.2 L380.4,112.2 L380.7,113.2 L381.0,114.2 L381.2,115.2 L381.3,116.2 L381.2,117.2 L381.0,118.2 L380.7,119.3 L380.2,120.3 L379.5,121.3 L378.8,122.3 L378.2,123.3 L377.7,124.3 L377.1,125.3 L376.7,126.3 L376.2,127.4 L375.7,128.4 L375.2,129.4 L374.7,130.4 L374.4,131.4 L374.0,132.4 L373.6,133.4 L373.2,134.4 L373.0,135.5 L372.9,136.5 L372.9,137.5 L372.9,138.5 L372.9,139.5 L372.9,139.5 L372.9,138.5 L372.9,137.5 L372.8,136.5 L372.7,135.5 L372.5,134.4 L372.2,133.4 L371.7,132.4 L371.4,131.4 L371.0,130.4 L370.5,129.4 L370.0,128.4 L369.5,127.4 L369.0,126.3 L368.6,125.3 L368.0,124.3 L367.5,123.3 L366.9,122.3 L366.2,121.3 L365.5,120.3 L365.0,119.3 L364.7,118.2 L364.5,117.2 L364.4,116.2 L364.5,115.2 L364.7,114.2 L365.0,113.2 L365.4,112.2 L365.7,111.2 L366.1,110.1 L366.6,109.1 L366.9,108.1 L367.2,107.1 L367.5,106.1 L367.8,105.1 L368.0,104.1 L368.2,103.1 L368.4,102.0 L368.5,101.0 L368.6,100.0 L368.7,99.0 L368.7,98.0 L368.7,97.0 L368.7,96.0 L368.8,95.0 L368.8,93.9 L368.8,92.9 L368.8,91.9 L368.8,90.9 L368.8,89.9 L368.8,88.9 L368.9,87.9 L369.1,86.9 L369.2,85.8 L369.4,84.8 L369.6,83.8 L369.7,82.8 L369.8,81.8 L369.9,80.8 L370.0,79.8 L370.1,78.8 L370.1,77.7 L370.2,76.7 L370.3,75.7 L370.3,74.7 L370.4,73.7 L370.5,72.7 L370.6,71.7 L370.6,70.7 L370.7,69.6 L370.8,68.6 L370.9,67.6 L371.0,66.6 L371.1,65.6 L371.1,64.6 L371.2,63.6 L371.3,62.6 L371.4,61.5 L371.6,60.5 L371.7,59.5 L371.9,58.5 L372.1,57.5 L372.2,56.5 L372.3,55.5 L372.3,54.5 L372.4,53.4 L372.4,52.4 L372.4,51.4 L372.5,50.4 L372.5,49.4 L372.5,48.4 L372.6,47.4 L372.6,46.4 L372.6,45.3 L372.7,44.3 L372.7,43.3 L372.7,42.3 L372.8,41.3 L372.8,40.3 L372.8,39.3 L372.9,38.3 L372.9,37.2 L372.9,36.2 L372.9,35.2 L372.9,34.2 L372.9,33.2 Z" fill="#F5AAA6" stroke="#000" stroke-width="0.7"/>
<line x1="372.85" y1="46.60" x2="372.85" y2="92.50" stroke="#000" stroke-opacity="0.4" stroke-width="0.8"/>
<rect x="371.65" y="92.50" width="2.40" height="25.60" fill="#D2706A" stroke="#000" stroke-width="0.55"/>
<line x1="371.65" y1="104.70" x2="374.05" y2="104.70" stroke="#000" stroke-width="0.9"/>
<path d="M392.0,37.0 L392.0,38.0 L392.0,39.0 L392.0,40.0 L392.0,41.0 L392.0,42.1 L392.0,43.1 L392.0,44.1 L392.1,45.1 L392.1,46.1 L392.2,47.1 L392.3,48.1 L392.3,49.1 L392.4,50.1 L392.5,51.1 L392.5,52.2 L392.7,53.2 L392.8,54.2 L393.0,55.2 L393.2,56.2 L393.4,57.2 L393.5,58.2 L393.6,59.2 L393.7,60.2 L393.8,61.2 L393.9,62.3 L394.0,63.3 L394.1,64.3 L394.1,65.3 L394.2,66.3 L394.3,67.3 L394.3,68.3 L394.4,69.3 L394.5,70.3 L394.5,71.3 L394.6,72.4 L394.6,73.4 L394.7,74.4 L394.7,75.4 L394.8,76.4 L394.9,77.4 L395.1,78.4 L395.2,79.4 L395.3,80.4 L395.4,81.4 L395.4,82.5 L395.5,83.5 L395.5,84.5 L395.4,85.5 L395.4,86.5 L395.3,87.5 L395.2,88.5 L395.1,89.5 L395.1,90.5 L395.1,91.6 L395.1,92.6 L395.1,93.6 L395.2,94.6 L395.3,95.6 L395.3,96.6 L395.4,97.6 L395.5,98.6 L395.7,99.6 L395.8,100.6 L396.0,101.7 L396.1,102.7 L396.2,103.7 L396.3,104.7 L396.4,105.7 L396.6,106.7 L397.1,107.7 L397.7,108.7 L398.2,109.7 L398.8,110.7 L399.3,111.8 L399.8,112.8 L400.1,113.8 L400.5,114.8 L400.7,115.8 L400.7,116.8 L400.5,117.8 L400.1,118.8 L399.7,119.8 L399.0,120.8 L398.4,121.9 L397.8,122.9 L397.2,123.9 L396.7,124.9 L396.2,125.9 L395.7,126.9 L395.0,127.9 L394.2,128.9 L393.4,129.9 L392.7,130.9 L392.3,132.0 L392.1,133.0 L392.0,134.0 L392.0,135.0 L392.0,136.0 L392.0,136.0 L392.0,135.0 L392.0,134.0 L391.9,133.0 L391.7,132.0 L391.3,130.9 L390.6,129.9 L389.8,128.9 L389.0,127.9 L388.4,126.9 L387.9,125.9 L387.4,124.9 L386.8,123.9 L386.2,122.9 L385.6,121.9 L385.0,120.8 L384.4,119.8 L383.9,118.8 L383.5,117.8 L383.3,116.8 L383.3,115.8 L383.5,114.8 L383.9,113.8 L384.3,112.8 L384.7,111.8 L385.3,110.7 L385.8,109.7 L386.4,108.7 L386.9,107.7 L387.4,106.7 L387.6,105.7 L387.7,104.7 L387.8,103.7 L387.9,102.7 L388.0,101.7 L388.2,100.6 L388.3,99.6 L388.5,98.6 L388.6,97.6 L388.7,96.6 L388.8,95.6 L388.8,94.6 L388.9,93.6 L388.9,92.6 L389.0,91.6 L388.9,90.5 L388.9,89.5 L388.8,88.5 L388.8,87.5 L388.7,86.5 L388.6,85.5 L388.6,84.5 L388.6,83.5 L388.6,82.5 L388.7,81.4 L388.7,80.4 L388.8,79.4 L388.9,78.4 L389.1,77.4 L389.2,76.4 L389.3,75.4 L389.4,74.4 L389.4,73.4 L389.5,72.4 L389.5,71.3 L389.6,70.3 L389.6,69.3 L389.7,68.3 L389.7,67.3 L389.8,66.3 L389.9,65.3 L390.0,64.3 L390.0,63.3 L390.1,62.3 L390.2,61.2 L390.3,60.2 L390.4,59.2 L390.5,58.2 L390.6,57.2 L390.8,56.2 L391.0,55.2 L391.2,54.2 L391.4,53.2 L391.5,52.2 L391.6,51.1 L391.6,50.1 L391.7,49.1 L391.8,48.1 L391.8,47.1 L391.9,46.1 L392.0,45.1 L392.0,44.1 L392.0,43.1 L392.0,42.1 L392.0,41.0 L392.0,40.0 L392.0,39.0 L392.0,38.0 L392.0,37.0 Z" fill="#B6DC70" stroke="#000" stroke-width="0.7"/>
<line x1="392.01" y1="40.00" x2="392.01" y2="92.50" stroke="#000" stroke-opacity="0.4" stroke-width="0.8"/>
<rect x="390.81" y="92.50" width="2.40" height="25.50" fill="#7AAE28" stroke="#000" stroke-width="0.55"/>
<line x1="390.81" y1="104.70" x2="393.21" y2="104.70" stroke="#000" stroke-width="0.9"/>
<path d="M411.2,34.2 L411.2,35.2 L411.2,36.2 L411.2,37.3 L411.2,38.3 L411.2,39.3 L411.2,40.3 L411.2,41.3 L411.3,42.3 L411.3,43.4 L411.3,44.4 L411.4,45.4 L411.4,46.4 L411.4,47.4 L411.4,48.4 L411.5,49.5 L411.5,50.5 L411.5,51.5 L411.5,52.5 L411.6,53.5 L411.6,54.6 L411.6,55.6 L411.6,56.6 L411.6,57.6 L411.7,58.6 L411.7,59.6 L411.8,60.7 L411.8,61.7 L411.9,62.7 L412.1,63.7 L412.5,64.7 L412.7,65.7 L412.8,66.8 L412.9,67.8 L413.1,68.8 L413.2,69.8 L413.3,70.8 L413.3,71.9 L413.4,72.9 L413.4,73.9 L413.5,74.9 L413.5,75.9 L413.5,76.9 L413.6,78.0 L413.6,79.0 L413.6,80.0 L413.6,81.0 L413.6,82.0 L413.6,83.0 L413.7,84.1 L413.7,85.1 L413.7,86.1 L413.7,87.1 L413.8,88.1 L413.8,89.2 L413.9,90.2 L414.0,91.2 L414.1,92.2 L414.3,93.2 L414.5,94.2 L414.7,95.3 L414.8,96.3 L414.9,97.3 L415.0,98.3 L415.1,99.3 L415.3,100.3 L415.5,101.4 L415.7,102.4 L416.0,103.4 L416.4,104.4 L416.7,105.4 L417.1,106.5 L417.5,107.5 L418.0,108.5 L418.6,109.5 L419.1,110.5 L419.6,111.5 L420.1,112.6 L420.4,113.6 L420.7,114.6 L420.9,115.6 L420.9,116.6 L420.6,117.6 L420.2,118.7 L419.7,119.7 L419.0,120.7 L418.3,121.7 L417.6,122.7 L417.0,123.8 L416.4,124.8 L415.7,125.8 L415.1,126.8 L414.6,127.8 L414.1,128.8 L413.6,129.9 L413.1,130.9 L412.6,131.9 L412.2,132.9 L411.9,133.9 L411.6,134.9 L411.3,136.0 L411.2,137.0 L411.2,138.0 L411.2,138.0 L411.2,137.0 L411.0,136.0 L410.8,134.9 L410.5,133.9 L410.2,132.9 L409.8,131.9 L409.3,130.9 L408.8,129.9 L408.3,128.8 L407.8,127.8 L407.2,126.8 L406.6,125.8 L406.0,124.8 L405.4,123.8 L404.7,122.7 L404.1,121.7 L403.3,120.7 L402.7,119.7 L402.2,118.7 L401.8,117.6 L401.5,116.6 L401.4,115.6 L401.6,114.6 L401.9,113.6 L402.3,112.6 L402.7,111.5 L403.3,110.5 L403.8,109.5 L404.3,108.5 L404.8,107.5 L405.3,106.5 L405.6,105.4 L406.0,104.4 L406.3,103.4 L406.6,102.4 L406.9,101.4 L407.1,100.3 L407.2,99.3 L407.3,98.3 L407.5,97.3 L407.6,96.3 L407.7,95.3 L407.8,94.2 L408.0,93.2 L408.2,92.2 L408.4,91.2 L408.5,90.2 L408.5,89.2 L408.6,88.1 L408.6,87.1 L408.6,86.1 L408.7,85.1 L408.7,84.1 L408.7,83.0 L408.7,82.0 L408.7,81.0 L408.8,80.0 L408.8,79.0 L408.8,78.0 L408.8,76.9 L408.8,75.9 L408.9,74.9 L408.9,73.9 L409.0,72.9 L409.0,71.9 L409.1,70.8 L409.2,69.8 L409.3,68.8 L409.4,67.8 L409.5,66.8 L409.7,65.7 L409.8,64.7 L410.2,63.7 L410.4,62.7 L410.5,61.7 L410.6,60.7 L410.6,59.6 L410.7,58.6 L410.7,57.6 L410.7,56.6 L410.8,55.6 L410.8,54.6 L410.8,53.5 L410.8,52.5 L410.8,51.5 L410.9,50.5 L410.9,49.5 L410.9,48.4 L410.9,47.4 L411.0,46.4 L411.0,45.4 L411.0,44.4 L411.1,43.4 L411.1,42.3 L411.1,41.3 L411.1,40.3 L411.2,39.3 L411.2,38.3 L411.2,37.3 L411.2,36.2 L411.2,35.2 L411.2,34.2 Z" fill="#82EAE2" stroke="#000" stroke-width="0.7"/>
<line x1="411.17" y1="47.60" x2="411.17" y2="92.50" stroke="#000" stroke-opacity="0.4" stroke-width="0.8"/>
<rect x="409.97" y="92.50" width="2.40" height="25.30" fill="#4CC6C4" stroke="#000" stroke-width="0.55"/>
<line x1="409.97" y1="117.00" x2="412.37" y2="117.00" stroke="#000" stroke-width="0.9"/>
<path d="M430.3,31.9 L430.3,32.9 L430.3,33.9 L430.3,34.9 L430.3,35.9 L430.4,37.0 L430.4,38.0 L430.5,39.0 L430.5,40.0 L430.6,41.0 L430.7,42.0 L430.7,43.0 L430.8,44.0 L430.9,45.0 L431.0,46.0 L431.1,47.1 L431.2,48.1 L431.3,49.1 L431.4,50.1 L431.5,51.1 L431.6,52.1 L431.7,53.1 L431.8,54.1 L431.8,55.1 L431.9,56.1 L432.0,57.2 L432.1,58.2 L432.1,59.2 L432.2,60.2 L432.3,61.2 L432.4,62.2 L432.5,63.2 L432.6,64.2 L432.7,65.2 L432.9,66.2 L433.0,67.3 L433.2,68.3 L433.4,69.3 L433.6,70.3 L433.8,71.3 L434.0,72.3 L434.2,73.3 L434.4,74.3 L434.6,75.3 L434.7,76.4 L434.9,77.4 L435.1,78.4 L435.3,79.4 L435.4,80.4 L435.5,81.4 L435.5,82.4 L435.5,83.4 L435.4,84.4 L435.4,85.4 L435.3,86.5 L435.3,87.5 L435.2,88.5 L435.1,89.5 L435.0,90.5 L435.0,91.5 L434.9,92.5 L434.9,93.5 L434.8,94.5 L434.8,95.5 L434.8,96.6 L434.7,97.6 L434.7,98.6 L434.7,99.6 L434.7,100.6 L434.7,101.6 L434.6,102.6 L434.5,103.6 L434.5,104.6 L434.4,105.7 L434.4,106.7 L434.4,107.7 L434.4,108.7 L434.5,109.7 L434.7,110.7 L434.8,111.7 L434.9,112.7 L434.9,113.7 L434.9,114.7 L434.9,115.8 L434.8,116.8 L434.8,117.8 L434.7,118.8 L434.7,119.8 L434.5,120.8 L434.3,121.8 L434.0,122.8 L433.7,123.8 L433.4,124.8 L433.2,125.9 L432.9,126.9 L432.7,127.9 L432.4,128.9 L432.2,129.9 L431.9,130.9 L431.7,131.9 L431.5,132.9 L431.2,133.9 L431.0,134.9 L430.8,136.0 L430.6,137.0 L430.4,138.0 L430.3,139.0 L430.3,140.0 L430.3,140.0 L430.3,139.0 L430.2,138.0 L430.1,137.0 L429.9,136.0 L429.7,134.9 L429.5,133.9 L429.2,132.9 L429.0,131.9 L428.7,130.9 L428.5,129.9 L428.2,128.9 L428.0,127.9 L427.7,126.9 L427.5,125.9 L427.2,124.8 L426.9,123.8 L426.6,122.8 L426.4,121.8 L426.1,120.8 L426.0,119.8 L425.9,118.8 L425.9,117.8 L425.8,116.8 L425.8,115.8 L425.8,114.7 L425.8,113.7 L425.8,112.7 L425.9,111.7 L426.0,110.7 L426.1,109.7 L426.2,108.7 L426.3,107.7 L426.3,106.7 L426.2,105.7 L426.2,104.6 L426.1,103.6 L426.1,102.6 L426.0,101.6 L426.0,100.6 L426.0,99.6 L425.9,98.6 L425.9,97.6 L425.9,96.6 L425.9,95.5 L425.9,94.5 L425.8,93.5 L425.7,92.5 L425.7,91.5 L425.6,90.5 L425.6,89.5 L425.5,88.5 L425.4,87.5 L425.3,86.5 L425.3,85.4 L425.2,84.4 L425.2,83.4 L425.2,82.4 L425.2,81.4 L425.3,80.4 L425.4,79.4 L425.6,78.4 L425.8,77.4 L425.9,76.4 L426.1,75.3 L426.3,74.3 L426.4,73.3 L426.6,72.3 L426.8,71.3 L427.1,70.3 L427.3,69.3 L427.4,68.3 L427.6,67.3 L427.8,66.2 L427.9,65.2 L428.0,64.2 L428.2,63.2 L428.3,62.2 L428.4,61.2 L428.4,60.2 L428.5,59.2 L428.6,58.2 L428.7,57.2 L428.8,56.1 L428.8,55.1 L428.9,54.1 L429.0,53.1 L429.1,52.1 L429.1,51.1 L429.2,50.1 L429.3,49.1 L429.4,48.1 L429.5,47.1 L429.7,46.0 L429.8,45.0 L429.9,44.0 L429.9,43.0 L430.0,42.0 L430.1,41.0 L430.1,40.0 L430.2,39.0 L430.3,38.0 L430.3,37.0 L430.3,35.9 L430.3,34.9 L430.3,33.9 L430.3,32.9 L430.3,31.9 Z" fill="#DDAAFA" stroke="#000" stroke-width="0.7"/>
<line x1="430.33" y1="35.00" x2="430.33" y2="80.00" stroke="#000" stroke-opacity="0.4" stroke-width="0.8"/>
<rect x="429.13" y="80.00" width="2.40" height="37.80" fill="#BC78E4" stroke="#000" stroke-width="0.55"/>
<line x1="429.13" y1="92.30" x2="431.53" y2="92.30" stroke="#000" stroke-width="0.9"/>
<path d="M458.0,21.7 L458.0,22.7 L458.0,23.7 L458.0,24.7 L458.0,25.7 L458.1,26.8 L458.2,27.8 L458.2,28.8 L458.3,29.8 L458.4,30.8 L458.5,31.8 L458.7,32.8 L458.8,33.8 L458.9,34.9 L459.0,35.9 L459.1,36.9 L459.2,37.9 L459.2,38.9 L459.3,39.9 L459.4,40.9 L459.5,41.9 L459.5,43.0 L459.6,44.0 L459.7,45.0 L459.7,46.0 L459.8,47.0 L459.9,48.0 L460.0,49.0 L460.1,50.0 L460.2,51.1 L460.3,52.1 L460.4,53.1 L460.5,54.1 L460.6,55.1 L460.7,56.1 L460.8,57.1 L460.9,58.1 L461.0,59.2 L461.1,60.2 L461.2,61.2 L461.3,62.2 L461.4,63.2 L461.5,64.2 L461.6,65.2 L461.7,66.2 L461.8,67.3 L461.9,68.3 L462.0,69.3 L462.1,70.3 L462.2,71.3 L462.3,72.3 L462.5,73.3 L462.6,74.3 L462.7,75.4 L462.9,76.4 L463.0,77.4 L463.1,78.4 L463.2,79.4 L463.2,80.4 L463.1,81.4 L463.1,82.4 L463.0,83.5 L462.9,84.5 L462.9,85.5 L462.8,86.5 L462.7,87.5 L462.6,88.5 L462.5,89.5 L462.4,90.5 L462.3,91.6 L462.1,92.6 L462.0,93.6 L461.9,94.6 L461.7,95.6 L461.6,96.6 L461.5,97.6 L461.4,98.6 L461.3,99.7 L461.2,100.7 L461.2,101.7 L461.1,102.7 L461.1,103.7 L461.0,104.7 L460.9,105.7 L460.9,106.7 L460.8,107.8 L460.8,108.8 L460.7,109.8 L460.6,110.8 L460.6,111.8 L460.5,112.8 L460.5,113.8 L460.4,114.8 L460.3,115.9 L460.3,116.9 L460.2,117.9 L460.1,118.9 L460.0,119.9 L460.0,120.9 L459.9,121.9 L459.8,122.9 L459.7,124.0 L459.7,125.0 L459.6,126.0 L459.5,127.0 L459.3,128.0 L459.2,129.0 L459.0,130.0 L458.9,131.0 L458.7,132.1 L458.6,133.1 L458.4,134.1 L458.3,135.1 L458.2,136.1 L458.2,137.1 L458.1,138.1 L458.0,139.1 L458.0,140.2 L458.0,141.2 L458.0,142.2 L458.0,143.2 L458.0,144.2 L458.0,144.2 L458.0,143.2 L458.0,142.2 L458.0,141.2 L458.0,140.2 L458.0,139.1 L457.9,138.1 L457.9,137.1 L457.8,136.1 L457.7,135.1 L457.6,134.1 L457.5,133.1 L457.3,132.1 L457.2,131.0 L457.0,130.0 L456.8,129.0 L456.7,128.0 L456.6,127.0 L456.5,126.0 L456.4,125.0 L456.3,124.0 L456.2,122.9 L456.1,121.9 L456.0,120.9 L456.0,119.9 L455.9,118.9 L455.8,117.9 L455.8,116.9 L455.7,115.9 L455.6,114.8 L455.6,113.8 L455.5,112.8 L455.4,111.8 L455.4,110.8 L455.3,109.8 L455.3,108.8 L455.2,107.8 L455.1,106.7 L455.1,105.7 L455.0,104.7 L455.0,103.7 L454.9,102.7 L454.8,101.7 L454.8,100.7 L454.7,99.7 L454.6,98.6 L454.5,97.6 L454.4,96.6 L454.3,95.6 L454.1,94.6 L454.0,93.6 L453.9,92.6 L453.8,91.6 L453.7,90.5 L453.6,89.5 L453.5,88.5 L453.4,87.5 L453.3,86.5 L453.2,85.5 L453.1,84.5 L453.0,83.5 L452.9,82.4 L452.9,81.4 L452.9,80.4 L452.9,79.4 L452.9,78.4 L453.0,77.4 L453.1,76.4 L453.3,75.4 L453.4,74.3 L453.6,73.3 L453.7,72.3 L453.8,71.3 L453.9,70.3 L454.0,69.3 L454.1,68.3 L454.2,67.3 L454.3,66.2 L454.4,65.2 L454.5,64.2 L454.6,63.2 L454.7,62.2 L454.8,61.2 L454.9,60.2 L455.0,59.2 L455.1,58.1 L455.3,57.1 L455.4,56.1 L455.5,55.1 L455.6,54.1 L455.7,53.1 L455.8,52.1 L455.9,51.1 L455.9,50.0 L456.0,49.0 L456.1,48.0 L456.2,47.0 L456.3,46.0 L456.4,45.0 L456.4,44.0 L456.5,43.0 L456.6,41.9 L456.6,40.9 L456.7,39.9 L456.8,38.9 L456.8,37.9 L456.9,36.9 L457.0,35.9 L457.1,34.9 L457.2,33.8 L457.3,32.8 L457.5,31.8 L457.6,30.8 L457.7,29.8 L457.8,28.8 L457.9,27.8 L457.9,26.8 L458.0,25.7 L458.0,24.7 L458.0,23.7 L458.0,22.7 L458.0,21.7 Z" fill="#F5AAA6" stroke="#000" stroke-width="0.7"/>
<line x1="458.01" y1="30.00" x2="458.01" y2="66.70" stroke="#000" stroke-opacity="0.4" stroke-width="0.8"/>
<rect x="456.81" y="66.70" width="2.40" height="38.20" fill="#D2706A" stroke="#000" stroke-width="0.55"/>
<line x1="456.81" y1="79.20" x2="459.21" y2="79.20" stroke="#000" stroke-width="0.9"/>
<path d="M477.2,21.7 L477.2,22.7 L477.2,23.7 L477.2,24.7 L477.2,25.8 L477.3,26.8 L477.3,27.8 L477.4,28.8 L477.4,29.8 L477.5,30.8 L477.6,31.8 L477.6,32.9 L477.7,33.9 L477.8,34.9 L477.8,35.9 L477.9,36.9 L478.0,37.9 L478.1,39.0 L478.2,40.0 L478.3,41.0 L478.4,42.0 L478.5,43.0 L478.6,44.0 L478.7,45.0 L478.8,46.1 L478.9,47.1 L479.0,48.1 L479.1,49.1 L479.2,50.1 L479.3,51.1 L479.4,52.1 L479.6,53.2 L479.7,54.2 L479.8,55.2 L479.9,56.2 L480.0,57.2 L480.1,58.2 L480.3,59.2 L480.4,60.3 L480.5,61.3 L480.6,62.3 L480.8,63.3 L480.9,64.3 L481.0,65.3 L481.1,66.4 L481.2,67.4 L481.3,68.4 L481.4,69.4 L481.5,70.4 L481.6,71.4 L481.7,72.4 L481.7,73.5 L481.8,74.5 L481.9,75.5 L481.9,76.5 L482.0,77.5 L482.0,78.5 L482.0,79.5 L482.0,80.6 L482.0,81.6 L482.0,82.6 L482.0,83.6 L481.9,84.6 L481.9,85.6 L481.8,86.6 L481.8,87.7 L481.7,88.7 L481.6,89.7 L481.6,90.7 L481.5,91.7 L481.4,92.7 L481.3,93.7 L481.3,94.8 L481.1,95.8 L481.0,96.8 L480.9,97.8 L480.8,98.8 L480.7,99.8 L480.6,100.9 L480.4,101.9 L480.3,102.9 L480.2,103.9 L480.1,104.9 L479.9,105.9 L479.8,106.9 L479.7,108.0 L479.7,109.0 L479.8,110.0 L479.8,111.0 L480.0,112.0 L480.1,113.0 L480.2,114.0 L480.3,115.1 L480.3,116.1 L480.3,117.1 L480.2,118.1 L480.1,119.1 L480.0,120.1 L479.8,121.1 L479.7,122.2 L479.5,123.2 L479.3,124.2 L479.1,125.2 L478.8,126.2 L478.5,127.2 L478.2,128.3 L478.0,129.3 L477.7,130.3 L477.5,131.3 L477.4,132.3 L477.3,133.3 L477.2,134.3 L477.2,135.4 L477.2,136.4 L477.2,137.4 L477.2,138.4 L477.2,138.4 L477.2,137.4 L477.2,136.4 L477.2,135.4 L477.2,134.3 L477.1,133.3 L477.0,132.3 L476.9,131.3 L476.6,130.3 L476.4,129.3 L476.1,128.3 L475.8,127.2 L475.6,126.2 L475.3,125.2 L475.1,124.2 L474.9,123.2 L474.7,122.2 L474.5,121.1 L474.3,120.1 L474.2,119.1 L474.1,118.1 L474.0,117.1 L474.0,116.1 L474.1,115.1 L474.2,114.0 L474.3,113.0 L474.4,112.0 L474.5,111.0 L474.6,110.0 L474.6,109.0 L474.6,108.0 L474.5,106.9 L474.4,105.9 L474.3,104.9 L474.1,103.9 L474.0,102.9 L473.9,101.9 L473.8,100.9 L473.7,99.8 L473.5,98.8 L473.4,97.8 L473.3,96.8 L473.2,95.8 L473.1,94.8 L473.0,93.7 L472.9,92.7 L472.8,91.7 L472.8,90.7 L472.7,89.7 L472.6,88.7 L472.6,87.7 L472.5,86.6 L472.5,85.6 L472.4,84.6 L472.4,83.6 L472.4,82.6 L472.3,81.6 L472.3,80.6 L472.3,79.5 L472.3,78.5 L472.4,77.5 L472.4,76.5 L472.5,75.5 L472.5,74.5 L472.6,73.5 L472.7,72.4 L472.8,71.4 L472.8,70.4 L472.9,69.4 L473.0,68.4 L473.1,67.4 L473.2,66.4 L473.3,65.3 L473.4,64.3 L473.6,63.3 L473.7,62.3 L473.8,61.3 L473.9,60.3 L474.1,59.2 L474.2,58.2 L474.3,57.2 L474.4,56.2 L474.5,55.2 L474.7,54.2 L474.8,53.2 L474.9,52.1 L475.0,51.1 L475.1,50.1 L475.2,49.1 L475.4,48.1 L475.5,47.1 L475.6,46.1 L475.7,45.0 L475.8,44.0 L475.9,43.0 L476.0,42.0 L476.1,41.0 L476.2,40.0 L476.3,39.0 L476.3,37.9 L476.4,36.9 L476.5,35.9 L476.6,34.9 L476.6,33.9 L476.7,32.9 L476.8,31.8 L476.8,30.8 L476.9,29.8 L477.0,28.8 L477.0,27.8 L477.1,26.8 L477.1,25.8 L477.2,24.7 L477.2,23.7 L477.2,22.7 L477.2,21.7 Z" fill="#B6DC70" stroke="#000" stroke-width="0.7"/>
<line x1="477.17" y1="28.00" x2="477.17" y2="65.80" stroke="#000" stroke-opacity="0.4" stroke-width="0.8"/>
<rect x="475.97" y="65.80" width="2.40" height="39.10" fill="#7AAE28" stroke="#000" stroke-width="0.55"/>
<line x1="475.97" y1="79.20" x2="478.37" y2="79.20" stroke="#000" stroke-width="0.9"/>
<path d="M496.3,21.7 L496.3,22.7 L496.3,23.7 L496.3,24.7 L496.3,25.8 L496.3,26.8 L496.3,27.8 L496.3,28.8 L496.3,29.8 L496.3,30.8 L496.3,31.8 L496.4,32.9 L496.4,33.9 L496.4,34.9 L496.5,35.9 L496.5,36.9 L496.5,37.9 L496.6,38.9 L496.6,39.9 L496.7,41.0 L496.7,42.0 L496.8,43.0 L496.8,44.0 L496.8,45.0 L496.9,46.0 L497.0,47.0 L497.0,48.1 L497.1,49.1 L497.2,50.1 L497.3,51.1 L497.4,52.1 L497.5,53.1 L497.6,54.1 L497.7,55.2 L497.8,56.2 L498.0,57.2 L498.1,58.2 L498.2,59.2 L498.3,60.2 L498.4,61.2 L498.5,62.2 L498.7,63.3 L498.8,64.3 L498.9,65.3 L499.0,66.3 L499.1,67.3 L499.2,68.3 L499.3,69.3 L499.5,70.4 L499.6,71.4 L499.7,72.4 L499.8,73.4 L499.9,74.4 L500.0,75.4 L500.1,76.4 L500.2,77.5 L500.3,78.5 L500.4,79.5 L500.5,80.5 L500.6,81.5 L500.7,82.5 L500.8,83.5 L500.9,84.5 L501.0,85.6 L501.1,86.6 L501.2,87.6 L501.2,88.6 L501.3,89.6 L501.3,90.6 L501.4,91.6 L501.4,92.7 L501.5,93.7 L501.5,94.7 L501.5,95.7 L501.4,96.7 L501.3,97.7 L501.2,98.7 L501.1,99.8 L501.0,100.8 L500.9,101.8 L500.8,102.8 L500.6,103.8 L500.5,104.8 L500.3,105.8 L500.2,106.8 L500.1,107.9 L500.0,108.9 L499.9,109.9 L499.8,110.9 L499.7,111.9 L499.6,112.9 L499.6,113.9 L499.5,115.0 L499.4,116.0 L499.3,117.0 L499.2,118.0 L499.1,119.0 L499.0,120.0 L498.8,121.0 L498.7,122.1 L498.5,123.1 L498.4,124.1 L498.2,125.1 L498.0,126.1 L497.8,127.1 L497.6,128.1 L497.4,129.1 L497.2,130.2 L496.9,131.2 L496.8,132.2 L496.6,133.2 L496.5,134.2 L496.4,135.2 L496.4,136.2 L496.3,137.3 L496.3,138.3 L496.3,139.3 L496.3,140.3 L496.3,140.3 L496.3,139.3 L496.3,138.3 L496.3,137.3 L496.3,136.2 L496.2,135.2 L496.1,134.2 L496.0,133.2 L495.9,132.2 L495.7,131.2 L495.5,130.2 L495.3,129.1 L495.0,128.1 L494.8,127.1 L494.6,126.1 L494.5,125.1 L494.3,124.1 L494.1,123.1 L494.0,122.1 L493.8,121.0 L493.7,120.0 L493.6,119.0 L493.4,118.0 L493.3,117.0 L493.3,116.0 L493.2,115.0 L493.1,113.9 L493.0,112.9 L493.0,111.9 L492.9,110.9 L492.8,109.9 L492.7,108.9 L492.6,107.9 L492.5,106.8 L492.3,105.8 L492.2,104.8 L492.0,103.8 L491.9,102.8 L491.8,101.8 L491.7,100.8 L491.5,99.8 L491.4,98.7 L491.3,97.7 L491.2,96.7 L491.2,95.7 L491.2,94.7 L491.2,93.7 L491.2,92.7 L491.3,91.6 L491.3,90.6 L491.4,89.6 L491.4,88.6 L491.5,87.6 L491.6,86.6 L491.7,85.6 L491.7,84.5 L491.8,83.5 L491.9,82.5 L492.0,81.5 L492.1,80.5 L492.2,79.5 L492.3,78.5 L492.4,77.5 L492.5,76.4 L492.7,75.4 L492.8,74.4 L492.9,73.4 L493.0,72.4 L493.1,71.4 L493.2,70.4 L493.3,69.3 L493.4,68.3 L493.5,67.3 L493.7,66.3 L493.8,65.3 L493.9,64.3 L494.0,63.3 L494.1,62.2 L494.2,61.2 L494.3,60.2 L494.5,59.2 L494.6,58.2 L494.7,57.2 L494.8,56.2 L494.9,55.2 L495.1,54.1 L495.2,53.1 L495.3,52.1 L495.4,51.1 L495.5,50.1 L495.6,49.1 L495.6,48.1 L495.7,47.0 L495.8,46.0 L495.8,45.0 L495.9,44.0 L495.9,43.0 L496.0,42.0 L496.0,41.0 L496.0,39.9 L496.1,38.9 L496.1,37.9 L496.2,36.9 L496.2,35.9 L496.2,34.9 L496.3,33.9 L496.3,32.9 L496.3,31.8 L496.3,30.8 L496.3,29.8 L496.3,28.8 L496.3,27.8 L496.3,26.8 L496.3,25.8 L496.3,24.7 L496.3,23.7 L496.3,22.7 L496.3,21.7 Z" fill="#82EAE2" stroke="#000" stroke-width="0.7"/>
<line x1="496.33" y1="35.00" x2="496.33" y2="80.00" stroke="#000" stroke-opacity="0.4" stroke-width="0.8"/>
<rect x="495.13" y="80.00" width="2.40" height="25.00" fill="#4CC6C4" stroke="#000" stroke-width="0.55"/>
<line x1="495.13" y1="92.00" x2="497.53" y2="92.00" stroke="#000" stroke-width="0.9"/>
<path d="M515.5,21.7 L515.5,22.7 L515.5,23.7 L515.5,24.7 L515.5,25.8 L515.6,26.8 L515.7,27.8 L515.7,28.8 L515.8,29.8 L515.9,30.8 L516.0,31.8 L516.1,32.9 L516.2,33.9 L516.3,34.9 L516.4,35.9 L516.5,36.9 L516.5,37.9 L516.6,38.9 L516.6,40.0 L516.8,41.0 L517.0,42.0 L517.2,43.0 L517.5,44.0 L517.7,45.0 L517.9,46.1 L518.1,47.1 L518.2,48.1 L518.4,49.1 L518.6,50.1 L518.7,51.1 L518.9,52.1 L519.0,53.2 L519.2,54.2 L519.3,55.2 L519.5,56.2 L519.6,57.2 L519.7,58.2 L519.9,59.2 L520.0,60.3 L520.2,61.3 L520.4,62.3 L520.5,63.3 L520.7,64.3 L520.8,65.3 L520.8,66.3 L520.8,67.4 L520.8,68.4 L520.8,69.4 L520.8,70.4 L520.8,71.4 L520.7,72.4 L520.7,73.4 L520.6,74.5 L520.6,75.5 L520.5,76.5 L520.5,77.5 L520.4,78.5 L520.4,79.5 L520.3,80.5 L520.2,81.6 L520.0,82.6 L519.9,83.6 L519.7,84.6 L519.5,85.6 L519.3,86.6 L519.1,87.7 L519.0,88.7 L518.8,89.7 L518.7,90.7 L518.6,91.7 L518.6,92.7 L518.5,93.7 L518.4,94.8 L518.3,95.8 L518.3,96.8 L518.2,97.8 L518.2,98.8 L518.1,99.8 L518.1,100.8 L518.0,101.9 L518.0,102.9 L518.0,103.9 L517.9,104.9 L517.9,105.9 L517.9,106.9 L517.9,107.9 L517.8,109.0 L517.8,110.0 L517.8,111.0 L517.7,112.0 L517.7,113.0 L517.7,114.0 L517.7,115.0 L517.6,116.1 L517.6,117.1 L517.5,118.1 L517.5,119.1 L517.5,120.1 L517.4,121.1 L517.3,122.2 L517.3,123.2 L517.2,124.2 L517.1,125.2 L517.0,126.2 L516.9,127.2 L516.8,128.2 L516.6,129.3 L516.3,130.3 L516.1,131.3 L515.9,132.3 L515.8,133.3 L515.7,134.3 L515.6,135.3 L515.5,136.4 L515.5,137.4 L515.5,138.4 L515.5,139.4 L515.5,139.4 L515.5,138.4 L515.5,137.4 L515.5,136.4 L515.4,135.3 L515.3,134.3 L515.2,133.3 L515.1,132.3 L514.9,131.3 L514.7,130.3 L514.4,129.3 L514.2,128.2 L514.1,127.2 L514.0,126.2 L513.9,125.2 L513.8,124.2 L513.7,123.2 L513.6,122.2 L513.6,121.1 L513.5,120.1 L513.5,119.1 L513.4,118.1 L513.4,117.1 L513.4,116.1 L513.3,115.0 L513.3,114.0 L513.3,113.0 L513.2,112.0 L513.2,111.0 L513.2,110.0 L513.1,109.0 L513.1,107.9 L513.1,106.9 L513.1,105.9 L513.0,104.9 L513.0,103.9 L513.0,102.9 L512.9,101.9 L512.9,100.8 L512.9,99.8 L512.8,98.8 L512.8,97.8 L512.7,96.8 L512.7,95.8 L512.6,94.8 L512.5,93.7 L512.4,92.7 L512.3,91.7 L512.2,90.7 L512.1,89.7 L512.0,88.7 L511.9,87.7 L511.7,86.6 L511.5,85.6 L511.3,84.6 L511.1,83.6 L510.9,82.6 L510.8,81.6 L510.7,80.5 L510.6,79.5 L510.5,78.5 L510.5,77.5 L510.4,76.5 L510.4,75.5 L510.3,74.5 L510.3,73.4 L510.3,72.4 L510.2,71.4 L510.2,70.4 L510.2,69.4 L510.2,68.4 L510.1,67.4 L510.1,66.3 L510.2,65.3 L510.3,64.3 L510.4,63.3 L510.6,62.3 L510.8,61.3 L510.9,60.3 L511.1,59.2 L511.2,58.2 L511.4,57.2 L511.5,56.2 L511.7,55.2 L511.8,54.2 L512.0,53.2 L512.1,52.1 L512.3,51.1 L512.4,50.1 L512.6,49.1 L512.7,48.1 L512.9,47.1 L513.1,46.1 L513.3,45.0 L513.5,44.0 L513.8,43.0 L514.0,42.0 L514.2,41.0 L514.3,40.0 L514.4,38.9 L514.5,37.9 L514.5,36.9 L514.6,35.9 L514.6,34.9 L514.7,33.9 L514.9,32.9 L515.0,31.8 L515.1,30.8 L515.2,29.8 L515.3,28.8 L515.3,27.8 L515.4,26.8 L515.5,25.8 L515.5,24.7 L515.5,23.7 L515.5,22.7 L515.5,21.7 Z" fill="#DDAAFA" stroke="#000" stroke-width="0.7"/>
<line x1="515.49" y1="30.00" x2="515.49" y2="65.80" stroke="#000" stroke-opacity="0.4" stroke-width="0.8"/>
<rect x="514.29" y="65.80" width="2.40" height="26.70" fill="#BC78E4" stroke="#000" stroke-width="0.55"/>
<line x1="514.29" y1="80.00" x2="516.69" y2="80.00" stroke="#000" stroke-width="0.9"/>
<path d="M543.2,21.7 L543.2,22.7 L543.2,23.7 L543.2,24.7 L543.2,25.8 L543.2,26.8 L543.2,27.8 L543.3,28.8 L543.3,29.8 L543.4,30.8 L543.5,31.8 L543.5,32.8 L543.6,33.8 L543.7,34.9 L543.8,35.9 L543.9,36.9 L544.0,37.9 L544.2,38.9 L544.3,39.9 L544.4,40.9 L544.5,42.0 L544.6,43.0 L544.7,44.0 L544.8,45.0 L544.9,46.0 L545.0,47.0 L545.1,48.0 L545.2,49.0 L545.3,50.0 L545.3,51.1 L545.4,52.1 L545.5,53.1 L545.6,54.1 L545.7,55.1 L545.7,56.1 L545.8,57.1 L545.9,58.1 L545.9,59.2 L546.0,60.2 L546.1,61.2 L546.2,62.2 L546.2,63.2 L546.3,64.2 L546.4,65.2 L546.5,66.2 L546.6,67.3 L546.7,68.3 L546.8,69.3 L546.9,70.3 L547.0,71.3 L547.1,72.3 L547.2,73.3 L547.3,74.3 L547.4,75.4 L547.5,76.4 L547.6,77.4 L547.7,78.4 L547.8,79.4 L547.8,80.4 L547.9,81.4 L548.0,82.5 L548.1,83.5 L548.1,84.5 L548.2,85.5 L548.2,86.5 L548.2,87.5 L548.2,88.5 L548.2,89.5 L548.1,90.5 L548.0,91.6 L548.0,92.6 L547.9,93.6 L547.8,94.6 L547.7,95.6 L547.6,96.6 L547.5,97.6 L547.4,98.7 L547.3,99.7 L547.2,100.7 L547.1,101.7 L547.0,102.7 L546.9,103.7 L546.9,104.7 L546.8,105.7 L546.7,106.8 L546.6,107.8 L546.5,108.8 L546.4,109.8 L546.3,110.8 L546.2,111.8 L546.1,112.8 L546.0,113.8 L545.9,114.8 L545.8,115.9 L545.7,116.9 L545.6,117.9 L545.5,118.9 L545.4,119.9 L545.3,120.9 L545.2,121.9 L545.1,123.0 L545.0,124.0 L544.9,125.0 L544.8,126.0 L544.6,127.0 L544.5,128.0 L544.3,129.0 L544.0,130.0 L543.8,131.0 L543.6,132.1 L543.5,133.1 L543.4,134.1 L543.3,135.1 L543.2,136.1 L543.2,137.1 L543.2,138.1 L543.2,139.1 L543.2,140.2 L543.2,141.2 L543.2,142.2 L543.2,143.2 L543.2,143.2 L543.2,142.2 L543.2,141.2 L543.2,140.2 L543.2,139.1 L543.2,138.1 L543.1,137.1 L543.1,136.1 L543.0,135.1 L543.0,134.1 L542.9,133.1 L542.7,132.1 L542.5,131.0 L542.3,130.0 L542.0,129.0 L541.8,128.0 L541.7,127.0 L541.6,126.0 L541.4,125.0 L541.3,124.0 L541.2,123.0 L541.2,121.9 L541.1,120.9 L541.0,119.9 L540.9,118.9 L540.8,117.9 L540.7,116.9 L540.6,115.9 L540.4,114.8 L540.3,113.8 L540.2,112.8 L540.1,111.8 L540.0,110.8 L539.9,109.8 L539.8,108.8 L539.7,107.8 L539.6,106.8 L539.6,105.7 L539.5,104.7 L539.4,103.7 L539.3,102.7 L539.2,101.7 L539.1,100.7 L539.1,99.7 L539.0,98.7 L538.9,97.6 L538.8,96.6 L538.7,95.6 L538.6,94.6 L538.5,93.6 L538.4,92.6 L538.3,91.6 L538.2,90.5 L538.2,89.5 L538.1,88.5 L538.1,87.5 L538.1,86.5 L538.2,85.5 L538.2,84.5 L538.3,83.5 L538.3,82.5 L538.4,81.4 L538.5,80.4 L538.6,79.4 L538.6,78.4 L538.7,77.4 L538.8,76.4 L538.9,75.4 L539.0,74.3 L539.1,73.3 L539.2,72.3 L539.4,71.3 L539.5,70.3 L539.6,69.3 L539.7,68.3 L539.8,67.3 L539.9,66.2 L539.9,65.2 L540.0,64.2 L540.1,63.2 L540.2,62.2 L540.2,61.2 L540.3,60.2 L540.4,59.2 L540.5,58.1 L540.5,57.1 L540.6,56.1 L540.7,55.1 L540.8,54.1 L540.8,53.1 L540.9,52.1 L541.0,51.1 L541.1,50.0 L541.2,49.0 L541.2,48.0 L541.3,47.0 L541.4,46.0 L541.5,45.0 L541.6,44.0 L541.7,43.0 L541.8,42.0 L541.9,40.9 L542.0,39.9 L542.2,38.9 L542.3,37.9 L542.4,36.9 L542.6,35.9 L542.7,34.9 L542.7,33.8 L542.8,32.8 L542.9,31.8 L542.9,30.8 L543.0,29.8 L543.1,28.8 L543.1,27.8 L543.2,26.8 L543.2,25.8 L543.2,24.7 L543.2,23.7 L543.2,22.7 L543.2,21.7 Z" fill="#F5AAA6" stroke="#000" stroke-width="0.7"/>
<line x1="543.17" y1="28.00" x2="543.17" y2="66.70" stroke="#000" stroke-opacity="0.4" stroke-width="0.8"/>
<rect x="541.97" y="66.70" width="2.40" height="38.20" fill="#D2706A" stroke="#000" stroke-width="0.55"/>
<line x1="541.97" y1="92.50" x2="544.37" y2="92.50" stroke="#000" stroke-width="0.9"/>
<path d="M562.3,21.7 L562.3,22.7 L562.3,23.7 L562.3,24.7 L562.3,25.8 L562.4,26.8 L562.4,27.8 L562.5,28.8 L562.5,29.8 L562.6,30.8 L562.7,31.8 L562.7,32.9 L562.8,33.9 L562.9,34.9 L563.0,35.9 L563.1,36.9 L563.2,37.9 L563.4,39.0 L563.5,40.0 L563.6,41.0 L563.7,42.0 L563.8,43.0 L563.9,44.0 L564.0,45.0 L564.2,46.1 L564.3,47.1 L564.4,48.1 L564.5,49.1 L564.6,50.1 L564.7,51.1 L564.9,52.1 L565.0,53.2 L565.1,54.2 L565.2,55.2 L565.3,56.2 L565.4,57.2 L565.5,58.2 L565.6,59.2 L565.7,60.3 L565.8,61.3 L565.9,62.3 L565.9,63.3 L566.0,64.3 L566.1,65.3 L566.2,66.4 L566.2,67.4 L566.3,68.4 L566.3,69.4 L566.4,70.4 L566.4,71.4 L566.5,72.4 L566.5,73.5 L566.6,74.5 L566.6,75.5 L566.6,76.5 L566.7,77.5 L566.7,78.5 L566.7,79.5 L566.7,80.6 L566.7,81.6 L566.7,82.6 L566.6,83.6 L566.6,84.6 L566.6,85.6 L566.6,86.6 L566.6,87.7 L566.5,88.7 L566.5,89.7 L566.5,90.7 L566.5,91.7 L566.4,92.7 L566.4,93.7 L566.4,94.8 L566.4,95.8 L566.3,96.8 L566.3,97.8 L566.3,98.8 L566.2,99.8 L566.2,100.9 L566.1,101.9 L566.1,102.9 L566.0,103.9 L566.0,104.9 L565.9,105.9 L565.9,106.9 L565.8,108.0 L565.7,109.0 L565.6,110.0 L565.5,111.0 L565.4,112.0 L565.3,113.0 L565.2,114.0 L565.1,115.1 L565.0,116.1 L564.9,117.1 L564.7,118.1 L564.6,119.1 L564.5,120.1 L564.3,121.1 L564.1,122.2 L564.0,123.2 L563.7,124.2 L563.5,125.2 L563.3,126.2 L563.1,127.2 L562.9,128.3 L562.8,129.3 L562.7,130.3 L562.6,131.3 L562.5,132.3 L562.5,133.3 L562.4,134.3 L562.3,135.4 L562.3,136.4 L562.3,137.4 L562.3,138.4 L562.3,138.4 L562.3,137.4 L562.3,136.4 L562.3,135.4 L562.3,134.3 L562.2,133.3 L562.1,132.3 L562.0,131.3 L561.9,130.3 L561.8,129.3 L561.7,128.3 L561.6,127.2 L561.4,126.2 L561.1,125.2 L560.9,124.2 L560.7,123.2 L560.5,122.2 L560.3,121.1 L560.2,120.1 L560.0,119.1 L559.9,118.1 L559.8,117.1 L559.7,116.1 L559.5,115.1 L559.4,114.0 L559.3,113.0 L559.2,112.0 L559.1,111.0 L559.0,110.0 L559.0,109.0 L558.9,108.0 L558.8,106.9 L558.7,105.9 L558.7,104.9 L558.6,103.9 L558.6,102.9 L558.5,101.9 L558.5,100.9 L558.4,99.8 L558.4,98.8 L558.4,97.8 L558.3,96.8 L558.3,95.8 L558.3,94.8 L558.2,93.7 L558.2,92.7 L558.2,91.7 L558.2,90.7 L558.1,89.7 L558.1,88.7 L558.1,87.7 L558.1,86.6 L558.0,85.6 L558.0,84.6 L558.0,83.6 L558.0,82.6 L558.0,81.6 L558.0,80.6 L558.0,79.5 L558.0,78.5 L558.0,77.5 L558.0,76.5 L558.1,75.5 L558.1,74.5 L558.1,73.5 L558.2,72.4 L558.2,71.4 L558.3,70.4 L558.3,69.4 L558.4,68.4 L558.4,67.4 L558.5,66.4 L558.6,65.3 L558.6,64.3 L558.7,63.3 L558.8,62.3 L558.9,61.3 L559.0,60.3 L559.1,59.2 L559.2,58.2 L559.3,57.2 L559.4,56.2 L559.5,55.2 L559.6,54.2 L559.7,53.2 L559.8,52.1 L559.9,51.1 L560.0,50.1 L560.1,49.1 L560.3,48.1 L560.4,47.1 L560.5,46.1 L560.6,45.0 L560.7,44.0 L560.8,43.0 L561.0,42.0 L561.1,41.0 L561.2,40.0 L561.3,39.0 L561.4,37.9 L561.5,36.9 L561.6,35.9 L561.7,34.9 L561.8,33.9 L561.9,32.9 L562.0,31.8 L562.1,30.8 L562.1,29.8 L562.2,28.8 L562.2,27.8 L562.3,26.8 L562.3,25.8 L562.3,24.7 L562.3,23.7 L562.3,22.7 L562.3,21.7 Z" fill="#B6DC70" stroke="#000" stroke-width="0.7"/>
<line x1="562.33" y1="30.00" x2="562.33" y2="66.70" stroke="#000" stroke-opacity="0.4" stroke-width="0.8"/>
<rect x="561.13" y="66.70" width="2.40" height="38.20" fill="#7AAE28" stroke="#000" stroke-width="0.55"/>
<line x1="561.13" y1="92.50" x2="563.53" y2="92.50" stroke="#000" stroke-width="0.9"/>
<path d="M581.5,21.7 L581.5,22.7 L581.5,23.7 L581.5,24.7 L581.5,25.8 L581.5,26.8 L581.5,27.8 L581.5,28.8 L581.5,29.8 L581.5,30.8 L581.5,31.8 L581.5,32.9 L581.5,33.9 L581.6,34.9 L581.6,35.9 L581.6,36.9 L581.7,37.9 L581.7,38.9 L581.8,39.9 L581.8,41.0 L581.9,42.0 L581.9,43.0 L582.0,44.0 L582.0,45.0 L582.1,46.0 L582.1,47.0 L582.2,48.1 L582.3,49.1 L582.5,50.1 L582.6,51.1 L582.7,52.1 L582.8,53.1 L582.9,54.1 L583.0,55.2 L583.1,56.2 L583.2,57.2 L583.3,58.2 L583.4,59.2 L583.4,60.2 L583.5,61.2 L583.6,62.2 L583.7,63.3 L583.8,64.3 L583.9,65.3 L584.0,66.3 L584.0,67.3 L584.1,68.3 L584.2,69.3 L584.3,70.4 L584.4,71.4 L584.4,72.4 L584.5,73.4 L584.6,74.4 L584.7,75.4 L584.9,76.4 L585.0,77.5 L585.2,78.5 L585.4,79.5 L585.6,80.5 L585.8,81.5 L585.9,82.5 L585.9,83.5 L586.0,84.5 L586.1,85.6 L586.1,86.6 L586.2,87.6 L586.2,88.6 L586.3,89.6 L586.3,90.6 L586.3,91.6 L586.3,92.7 L586.3,93.7 L586.3,94.7 L586.3,95.7 L586.3,96.7 L586.3,97.7 L586.3,98.7 L586.3,99.8 L586.3,100.8 L586.3,101.8 L586.3,102.8 L586.3,103.8 L586.3,104.8 L586.3,105.8 L586.2,106.8 L586.1,107.9 L586.0,108.9 L585.8,109.9 L585.6,110.9 L585.4,111.9 L585.3,112.9 L585.1,113.9 L585.0,115.0 L584.9,116.0 L584.7,117.0 L584.5,118.0 L584.4,119.0 L584.2,120.0 L584.0,121.0 L583.8,122.1 L583.6,123.1 L583.3,124.1 L583.1,125.1 L582.8,126.1 L582.5,127.1 L582.3,128.1 L582.1,129.1 L581.9,130.2 L581.8,131.2 L581.7,132.2 L581.6,133.2 L581.6,134.2 L581.5,135.2 L581.5,136.2 L581.5,137.3 L581.5,138.3 L581.5,139.3 L581.5,140.3 L581.5,140.3 L581.5,139.3 L581.5,138.3 L581.5,137.3 L581.5,136.2 L581.5,135.2 L581.4,134.2 L581.3,133.2 L581.3,132.2 L581.2,131.2 L581.0,130.2 L580.9,129.1 L580.7,128.1 L580.4,127.1 L580.2,126.1 L579.9,125.1 L579.6,124.1 L579.4,123.1 L579.1,122.1 L579.0,121.0 L578.8,120.0 L578.6,119.0 L578.4,118.0 L578.3,117.0 L578.1,116.0 L578.0,115.0 L577.8,113.9 L577.7,112.9 L577.5,111.9 L577.4,110.9 L577.2,109.9 L577.0,108.9 L576.9,107.9 L576.7,106.8 L576.7,105.8 L576.6,104.8 L576.6,103.8 L576.6,102.8 L576.6,101.8 L576.6,100.8 L576.6,99.8 L576.6,98.7 L576.6,97.7 L576.6,96.7 L576.6,95.7 L576.6,94.7 L576.6,93.7 L576.6,92.7 L576.7,91.6 L576.7,90.6 L576.7,89.6 L576.7,88.6 L576.8,87.6 L576.8,86.6 L576.9,85.6 L577.0,84.5 L577.0,83.5 L577.1,82.5 L577.2,81.5 L577.3,80.5 L577.5,79.5 L577.8,78.5 L578.0,77.5 L578.1,76.4 L578.2,75.4 L578.3,74.4 L578.4,73.4 L578.5,72.4 L578.6,71.4 L578.7,70.4 L578.8,69.3 L578.9,68.3 L578.9,67.3 L579.0,66.3 L579.1,65.3 L579.2,64.3 L579.3,63.3 L579.4,62.2 L579.4,61.2 L579.5,60.2 L579.6,59.2 L579.7,58.2 L579.8,57.2 L579.9,56.2 L580.0,55.2 L580.1,54.1 L580.2,53.1 L580.3,52.1 L580.4,51.1 L580.5,50.1 L580.6,49.1 L580.7,48.1 L580.8,47.0 L580.9,46.0 L581.0,45.0 L581.0,44.0 L581.1,43.0 L581.1,42.0 L581.2,41.0 L581.2,39.9 L581.2,38.9 L581.3,37.9 L581.3,36.9 L581.4,35.9 L581.4,34.9 L581.4,33.9 L581.5,32.9 L581.5,31.8 L581.5,30.8 L581.5,29.8 L581.5,28.8 L581.5,27.8 L581.5,26.8 L581.5,25.8 L581.5,24.7 L581.5,23.7 L581.5,22.7 L581.5,21.7 Z" fill="#82EAE2" stroke="#000" stroke-width="0.7"/>
<line x1="581.49" y1="35.00" x2="581.49" y2="80.00" stroke="#000" stroke-opacity="0.4" stroke-width="0.8"/>
<rect x="580.29" y="80.00" width="2.40" height="26.80" fill="#4CC6C4" stroke="#000" stroke-width="0.55"/>
<line x1="580.29" y1="92.50" x2="582.69" y2="92.50" stroke="#000" stroke-width="0.9"/>
<path d="M600.6,21.7 L600.6,22.7 L600.6,23.7 L600.6,24.7 L600.6,25.8 L600.7,26.8 L600.7,27.8 L600.8,28.8 L600.9,29.8 L601.0,30.8 L601.1,31.8 L601.2,32.8 L601.3,33.9 L601.5,34.9 L601.7,35.9 L601.9,36.9 L602.1,37.9 L602.3,38.9 L602.5,39.9 L602.7,41.0 L602.9,42.0 L603.2,43.0 L603.4,44.0 L603.6,45.0 L603.9,46.0 L604.1,47.0 L604.3,48.1 L604.4,49.1 L604.6,50.1 L604.7,51.1 L604.8,52.1 L604.9,53.1 L605.0,54.1 L605.1,55.1 L605.2,56.2 L605.3,57.2 L605.3,58.2 L605.4,59.2 L605.5,60.2 L605.5,61.2 L605.6,62.2 L605.6,63.3 L605.6,64.3 L605.7,65.3 L605.7,66.3 L605.7,67.3 L605.8,68.3 L605.8,69.3 L605.8,70.4 L605.8,71.4 L605.8,72.4 L605.7,73.4 L605.6,74.4 L605.6,75.4 L605.5,76.4 L605.4,77.4 L605.3,78.5 L605.2,79.5 L605.0,80.5 L604.9,81.5 L604.7,82.5 L604.5,83.5 L604.3,84.5 L604.1,85.6 L603.9,86.6 L603.7,87.6 L603.6,88.6 L603.5,89.6 L603.4,90.6 L603.3,91.6 L603.3,92.6 L603.2,93.7 L603.1,94.7 L603.1,95.7 L603.0,96.7 L603.0,97.7 L603.0,98.7 L603.0,99.7 L603.0,100.8 L603.1,101.8 L603.1,102.8 L603.1,103.8 L603.2,104.8 L603.2,105.8 L603.3,106.8 L603.3,107.9 L603.3,108.9 L603.3,109.9 L603.3,110.9 L603.2,111.9 L603.2,112.9 L603.1,113.9 L603.0,114.9 L603.0,116.0 L602.9,117.0 L602.8,118.0 L602.7,119.0 L602.7,120.0 L602.6,121.0 L602.5,122.0 L602.4,123.1 L602.3,124.1 L602.2,125.1 L602.0,126.1 L601.9,127.1 L601.8,128.1 L601.6,129.1 L601.3,130.2 L601.2,131.2 L601.0,132.2 L600.9,133.2 L600.9,134.2 L600.8,135.2 L600.7,136.2 L600.6,137.2 L600.6,138.3 L600.6,139.3 L600.6,140.3 L600.6,141.3 L600.6,141.3 L600.6,140.3 L600.6,139.3 L600.6,138.3 L600.6,137.2 L600.6,136.2 L600.5,135.2 L600.4,134.2 L600.4,133.2 L600.3,132.2 L600.1,131.2 L599.9,130.2 L599.7,129.1 L599.5,128.1 L599.4,127.1 L599.3,126.1 L599.1,125.1 L599.0,124.1 L598.9,123.1 L598.8,122.0 L598.7,121.0 L598.6,120.0 L598.5,119.0 L598.5,118.0 L598.4,117.0 L598.3,116.0 L598.3,114.9 L598.2,113.9 L598.1,112.9 L598.1,111.9 L598.0,110.9 L598.0,109.9 L598.0,108.9 L598.0,107.9 L598.0,106.8 L598.1,105.8 L598.1,104.8 L598.2,103.8 L598.2,102.8 L598.2,101.8 L598.3,100.8 L598.3,99.7 L598.3,98.7 L598.3,97.7 L598.3,96.7 L598.2,95.7 L598.2,94.7 L598.1,93.7 L598.0,92.6 L598.0,91.6 L597.9,90.6 L597.8,89.6 L597.7,88.6 L597.5,87.6 L597.4,86.6 L597.2,85.6 L597.0,84.5 L596.8,83.5 L596.6,82.5 L596.4,81.5 L596.3,80.5 L596.1,79.5 L596.0,78.5 L595.9,77.4 L595.8,76.4 L595.7,75.4 L595.7,74.4 L595.6,73.4 L595.5,72.4 L595.5,71.4 L595.5,70.4 L595.5,69.3 L595.5,68.3 L595.5,67.3 L595.6,66.3 L595.6,65.3 L595.7,64.3 L595.7,63.3 L595.7,62.2 L595.8,61.2 L595.8,60.2 L595.9,59.2 L596.0,58.2 L596.0,57.2 L596.1,56.2 L596.2,55.1 L596.3,54.1 L596.4,53.1 L596.5,52.1 L596.6,51.1 L596.7,50.1 L596.9,49.1 L597.0,48.1 L597.2,47.0 L597.4,46.0 L597.7,45.0 L597.9,44.0 L598.1,43.0 L598.4,42.0 L598.6,41.0 L598.8,39.9 L599.0,38.9 L599.2,37.9 L599.4,36.9 L599.6,35.9 L599.8,34.9 L600.0,33.9 L600.1,32.8 L600.2,31.8 L600.3,30.8 L600.4,29.8 L600.5,28.8 L600.6,27.8 L600.6,26.8 L600.6,25.8 L600.6,24.7 L600.6,23.7 L600.6,22.7 L600.6,21.7 Z" fill="#DDAAFA" stroke="#000" stroke-width="0.7"/>
<line x1="600.65" y1="28.00" x2="600.65" y2="66.70" stroke="#000" stroke-opacity="0.4" stroke-width="0.8"/>
<rect x="599.45" y="66.70" width="2.40" height="25.80" fill="#BC78E4" stroke="#000" stroke-width="0.55"/>
<line x1="599.45" y1="79.20" x2="601.85" y2="79.20" stroke="#000" stroke-width="0.9"/>
<path d="M350.5,15.1 V153.5 H623.0" fill="none" stroke="#333333" stroke-width="1"/>
<line x1="347.9" y1="146.50" x2="350.5" y2="146.50" stroke="#333333" stroke-width="1"/>
<text transform="translate(346.10,150.60) scale(1,1.2)" font-size="8.3" fill="#1a1a1a" stroke="#1a1a1a" stroke-width="0.08" text-anchor="end">1</text>
<line x1="347.9" y1="104.50" x2="350.5" y2="104.50" stroke="#333333" stroke-width="1"/>
<text transform="translate(346.10,108.87) scale(1,1.2)" font-size="8.3" fill="#1a1a1a" stroke="#1a1a1a" stroke-width="0.08" text-anchor="end">10</text>
<line x1="347.9" y1="63.50" x2="350.5" y2="63.50" stroke="#333333" stroke-width="1"/>
<text transform="translate(346.10,67.13) scale(1,1.2)" font-size="8.3" fill="#1a1a1a" stroke="#1a1a1a" stroke-width="0.08" text-anchor="end">100</text>
<line x1="347.9" y1="21.50" x2="350.5" y2="21.50" stroke="#333333" stroke-width="1"/>
<text transform="translate(346.10,25.40) scale(1,1.2)" font-size="8.3" fill="#1a1a1a" stroke="#1a1a1a" stroke-width="0.08" text-anchor="end">1000</text>
<line x1="401.50" y1="153.5" x2="401.50" y2="156.1" stroke="#333333" stroke-width="1"/>
<text transform="translate(401.59,164.70) scale(1,1.1)" font-size="8.5" fill="#1a1a1a" stroke="#1a1a1a" stroke-width="0.08" text-anchor="middle">day 0</text>
<line x1="486.50" y1="153.5" x2="486.50" y2="156.1" stroke="#333333" stroke-width="1"/>
<text transform="translate(486.75,164.70) scale(1,1.1)" font-size="8.5" fill="#1a1a1a" stroke="#1a1a1a" stroke-width="0.08" text-anchor="middle">day 29</text>
<line x1="571.50" y1="153.5" x2="571.50" y2="156.1" stroke="#333333" stroke-width="1"/>
<text transform="translate(571.91,164.70) scale(1,1.1)" font-size="8.5" fill="#1a1a1a" stroke="#1a1a1a" stroke-width="0.08" text-anchor="middle">1 year</text>
<text x="486.75" y="175.00" font-size="9.2" fill="#000" text-anchor="middle">Time points</text>
<text transform="translate(323.90,84.30) rotate(-90)" font-size="9.6" fill="#000" text-anchor="middle">GMT</text>
<text x="324.2" y="10.0" font-size="12" fill="#000">B</text>
<path d="M56.9,221.1 L56.9,222.1 L56.9,223.1 L56.9,224.2 L56.9,225.2 L56.9,226.2 L56.9,227.2 L56.9,228.2 L56.9,229.3 L56.9,230.3 L56.9,231.3 L56.9,232.3 L56.9,233.3 L57.0,234.3 L57.0,235.4 L57.0,236.4 L57.1,237.4 L57.1,238.4 L57.2,239.4 L57.2,240.5 L57.2,241.5 L57.3,242.5 L57.3,243.5 L57.4,244.5 L57.4,245.6 L57.5,246.6 L57.6,247.6 L57.6,248.6 L57.7,249.6 L57.8,250.6 L57.9,251.7 L58.0,252.7 L58.1,253.7 L58.2,254.7 L58.2,255.7 L58.3,256.8 L58.4,257.8 L58.5,258.8 L58.5,259.8 L58.6,260.8 L58.7,261.9 L58.8,262.9 L58.9,263.9 L59.0,264.9 L59.2,265.9 L59.6,266.9 L60.0,268.0 L60.3,269.0 L60.6,270.0 L60.8,271.0 L60.8,272.0 L60.9,273.1 L61.0,274.1 L61.0,275.1 L61.0,276.1 L61.1,277.1 L61.1,278.2 L61.2,279.2 L61.2,280.2 L61.3,281.2 L61.4,282.2 L61.5,283.2 L61.6,284.3 L61.8,285.3 L62.0,286.3 L62.4,287.3 L62.7,288.3 L63.1,289.4 L63.4,290.4 L63.6,291.4 L63.9,292.4 L64.1,293.4 L64.3,294.5 L64.5,295.5 L64.7,296.5 L64.8,297.5 L64.9,298.5 L64.9,299.5 L64.9,300.6 L64.9,301.6 L64.8,302.6 L64.4,303.6 L64.1,304.6 L63.8,305.7 L63.4,306.7 L63.0,307.7 L62.5,308.7 L61.9,309.7 L61.3,310.8 L60.6,311.8 L60.0,312.8 L59.4,313.8 L58.8,314.8 L58.4,315.8 L58.1,316.9 L57.6,317.9 L57.2,318.9 L57.0,319.9 L56.9,320.9 L56.9,322.0 L56.9,323.0 L56.9,324.0 L56.9,324.0 L56.9,323.0 L56.9,322.0 L56.9,320.9 L56.7,319.9 L56.6,318.9 L56.1,317.9 L55.7,316.9 L55.4,315.8 L55.0,314.8 L54.4,313.8 L53.8,312.8 L53.1,311.8 L52.5,310.8 L51.9,309.7 L51.3,308.7 L50.8,307.7 L50.3,306.7 L50.0,305.7 L49.6,304.6 L49.3,303.6 L49.0,302.6 L48.8,301.6 L48.8,300.6 L48.8,299.5 L48.9,298.5 L49.0,297.5 L49.1,296.5 L49.3,295.5 L49.4,294.5 L49.6,293.4 L49.9,292.4 L50.1,291.4 L50.4,290.4 L50.7,289.4 L51.0,288.3 L51.4,287.3 L51.7,286.3 L52.0,285.3 L52.1,284.3 L52.3,283.2 L52.4,282.2 L52.5,281.2 L52.5,280.2 L52.6,279.2 L52.7,278.2 L52.7,277.1 L52.7,276.1 L52.8,275.1 L52.8,274.1 L52.9,273.1 L52.9,272.0 L53.0,271.0 L53.1,270.0 L53.4,269.0 L53.8,268.0 L54.2,266.9 L54.5,265.9 L54.7,264.9 L54.9,263.9 L55.0,262.9 L55.1,261.9 L55.2,260.8 L55.2,259.8 L55.3,258.8 L55.4,257.8 L55.4,256.8 L55.5,255.7 L55.6,254.7 L55.7,253.7 L55.8,252.7 L55.9,251.7 L56.0,250.6 L56.1,249.6 L56.1,248.6 L56.2,247.6 L56.3,246.6 L56.4,245.6 L56.4,244.5 L56.5,243.5 L56.5,242.5 L56.5,241.5 L56.6,240.5 L56.6,239.4 L56.7,238.4 L56.7,237.4 L56.7,236.4 L56.8,235.4 L56.8,234.3 L56.8,233.3 L56.9,232.3 L56.9,231.3 L56.9,230.3 L56.9,229.3 L56.9,228.2 L56.9,227.2 L56.9,226.2 L56.9,225.2 L56.9,224.2 L56.9,223.1 L56.9,222.1 L56.9,221.1 Z" fill="#F5AAA6" stroke="#000" stroke-width="0.7"/>
<line x1="56.89" y1="244.00" x2="56.89" y2="279.40" stroke="#000" stroke-opacity="0.4" stroke-width="0.8"/>
<rect x="55.69" y="279.40" width="2.40" height="24.90" fill="#D2706A" stroke="#000" stroke-width="0.55"/>
<line x1="55.69" y1="291.30" x2="58.09" y2="291.30" stroke="#000" stroke-width="0.9"/>
<path d="M76.1,224.9 L76.1,225.9 L76.1,226.9 L76.1,228.0 L76.2,229.0 L76.3,230.0 L76.3,231.0 L76.4,232.0 L76.4,233.0 L76.4,234.1 L76.5,235.1 L76.5,236.1 L76.5,237.1 L76.5,238.1 L76.6,239.2 L76.6,240.2 L76.6,241.2 L76.6,242.2 L76.6,243.2 L76.7,244.2 L76.7,245.3 L76.7,246.3 L76.8,247.3 L76.9,248.3 L77.0,249.3 L77.2,250.4 L77.4,251.4 L77.5,252.4 L77.6,253.4 L77.6,254.4 L77.7,255.4 L77.7,256.5 L77.8,257.5 L77.8,258.5 L77.9,259.5 L77.9,260.5 L78.0,261.6 L78.0,262.6 L78.1,263.6 L78.2,264.6 L78.3,265.6 L78.5,266.6 L78.8,267.7 L79.1,268.7 L79.4,269.7 L79.7,270.7 L79.9,271.7 L79.9,272.8 L79.9,273.8 L79.9,274.8 L79.9,275.8 L79.9,276.8 L79.9,277.8 L79.9,278.9 L79.9,279.9 L79.9,280.9 L80.0,281.9 L80.1,282.9 L80.3,283.9 L80.4,285.0 L80.5,286.0 L80.7,287.0 L80.8,288.0 L81.0,289.0 L81.1,290.1 L81.3,291.1 L81.5,292.1 L81.7,293.1 L82.0,294.1 L82.2,295.1 L82.4,296.2 L82.6,297.2 L82.9,298.2 L83.3,299.2 L83.5,300.2 L83.6,301.3 L83.6,302.3 L83.5,303.3 L83.3,304.3 L82.8,305.3 L82.2,306.3 L81.5,307.4 L80.9,308.4 L80.4,309.4 L80.0,310.4 L79.4,311.4 L78.9,312.5 L78.3,313.5 L77.7,314.5 L77.3,315.5 L76.9,316.5 L76.4,317.5 L76.2,318.6 L76.1,319.6 L76.1,320.6 L76.1,320.6 L76.1,319.6 L76.0,318.6 L75.7,317.5 L75.2,316.5 L74.8,315.5 L74.4,314.5 L73.9,313.5 L73.3,312.5 L72.7,311.4 L72.2,310.4 L71.7,309.4 L71.3,308.4 L70.6,307.4 L69.9,306.3 L69.4,305.3 L68.9,304.3 L68.6,303.3 L68.6,302.3 L68.5,301.3 L68.6,300.2 L68.9,299.2 L69.3,298.2 L69.5,297.2 L69.8,296.2 L70.0,295.1 L70.2,294.1 L70.4,293.1 L70.6,292.1 L70.8,291.1 L71.0,290.1 L71.2,289.0 L71.3,288.0 L71.5,287.0 L71.6,286.0 L71.7,285.0 L71.9,283.9 L72.0,282.9 L72.1,281.9 L72.2,280.9 L72.2,279.9 L72.2,278.9 L72.2,277.8 L72.2,276.8 L72.2,275.8 L72.2,274.8 L72.2,273.8 L72.2,272.8 L72.3,271.7 L72.5,270.7 L72.7,269.7 L73.0,268.7 L73.3,267.7 L73.6,266.6 L73.8,265.6 L74.0,264.6 L74.0,263.6 L74.1,262.6 L74.2,261.6 L74.2,260.5 L74.3,259.5 L74.3,258.5 L74.4,257.5 L74.4,256.5 L74.5,255.4 L74.5,254.4 L74.6,253.4 L74.7,252.4 L74.8,251.4 L74.9,250.4 L75.1,249.3 L75.3,248.3 L75.4,247.3 L75.4,246.3 L75.4,245.3 L75.5,244.2 L75.5,243.2 L75.5,242.2 L75.5,241.2 L75.6,240.2 L75.6,239.2 L75.6,238.1 L75.6,237.1 L75.6,236.1 L75.7,235.1 L75.7,234.1 L75.7,233.0 L75.8,232.0 L75.8,231.0 L75.9,230.0 L76.0,229.0 L76.0,228.0 L76.1,226.9 L76.1,225.9 L76.1,224.9 Z" fill="#B6DC70" stroke="#000" stroke-width="0.7"/>
<line x1="76.07" y1="233.50" x2="76.07" y2="279.40" stroke="#000" stroke-opacity="0.4" stroke-width="0.8"/>
<rect x="74.87" y="279.40" width="2.40" height="24.90" fill="#7AAE28" stroke="#000" stroke-width="0.55"/>
<line x1="74.87" y1="291.30" x2="77.27" y2="291.30" stroke="#000" stroke-width="0.9"/>
<path d="M95.3,218.2 L95.3,219.2 L95.3,220.2 L95.3,221.3 L95.4,222.3 L95.5,223.3 L95.6,224.3 L95.6,225.3 L95.7,226.3 L95.7,227.4 L95.8,228.4 L95.9,229.4 L95.9,230.4 L96.0,231.4 L96.1,232.4 L96.1,233.5 L96.1,234.5 L96.1,235.5 L96.1,236.5 L96.1,237.5 L96.1,238.5 L96.1,239.6 L96.1,240.6 L96.1,241.6 L96.1,242.6 L96.1,243.6 L96.1,244.6 L96.1,245.7 L96.1,246.7 L96.1,247.7 L96.1,248.7 L96.1,249.7 L96.1,250.7 L96.1,251.8 L96.1,252.8 L96.1,253.8 L96.1,254.8 L96.2,255.8 L96.2,256.8 L96.3,257.9 L96.4,258.9 L96.5,259.9 L96.5,260.9 L96.6,261.9 L96.7,262.9 L96.7,264.0 L96.8,265.0 L96.9,266.0 L97.0,267.0 L97.1,268.0 L97.3,269.0 L97.5,270.1 L97.8,271.1 L98.1,272.1 L98.3,273.1 L98.5,274.1 L98.7,275.2 L98.8,276.2 L98.9,277.2 L99.0,278.2 L99.1,279.2 L99.2,280.2 L99.3,281.3 L99.4,282.3 L99.5,283.3 L99.6,284.3 L99.8,285.3 L100.0,286.3 L100.1,287.4 L100.3,288.4 L100.5,289.4 L100.6,290.4 L100.8,291.4 L100.9,292.4 L101.1,293.5 L101.2,294.5 L101.4,295.5 L101.5,296.5 L101.6,297.5 L101.7,298.5 L101.8,299.6 L101.9,300.6 L101.9,301.6 L101.9,302.6 L101.8,303.6 L101.7,304.6 L101.4,305.7 L101.2,306.7 L100.8,307.7 L100.5,308.7 L100.1,309.7 L99.8,310.7 L99.4,311.8 L99.0,312.8 L98.6,313.8 L98.2,314.8 L97.9,315.8 L97.5,316.8 L97.1,317.9 L96.7,318.9 L96.3,319.9 L96.0,320.9 L95.8,321.9 L95.6,322.9 L95.4,324.0 L95.3,325.0 L95.3,326.0 L95.3,326.0 L95.3,325.0 L95.1,324.0 L94.9,322.9 L94.7,321.9 L94.5,320.9 L94.2,319.9 L93.9,318.9 L93.5,317.9 L93.1,316.8 L92.7,315.8 L92.3,314.8 L91.9,313.8 L91.5,312.8 L91.2,311.8 L90.8,310.7 L90.4,309.7 L90.1,308.7 L89.7,307.7 L89.4,306.7 L89.1,305.7 L88.9,304.6 L88.8,303.6 L88.7,302.6 L88.6,301.6 L88.6,300.6 L88.7,299.6 L88.8,298.5 L88.9,297.5 L89.0,296.5 L89.2,295.5 L89.3,294.5 L89.4,293.5 L89.6,292.4 L89.7,291.4 L89.9,290.4 L90.1,289.4 L90.2,288.4 L90.4,287.4 L90.6,286.3 L90.7,285.3 L90.9,284.3 L91.0,283.3 L91.1,282.3 L91.2,281.3 L91.3,280.2 L91.4,279.2 L91.5,278.2 L91.6,277.2 L91.7,276.2 L91.8,275.2 L92.0,274.1 L92.2,273.1 L92.5,272.1 L92.7,271.1 L93.0,270.1 L93.2,269.0 L93.4,268.0 L93.5,267.0 L93.6,266.0 L93.7,265.0 L93.8,264.0 L93.8,262.9 L93.9,261.9 L94.0,260.9 L94.1,259.9 L94.1,258.9 L94.2,257.9 L94.3,256.8 L94.3,255.8 L94.4,254.8 L94.4,253.8 L94.4,252.8 L94.4,251.8 L94.4,250.7 L94.4,249.7 L94.4,248.7 L94.4,247.7 L94.4,246.7 L94.4,245.7 L94.4,244.6 L94.4,243.6 L94.4,242.6 L94.4,241.6 L94.4,240.6 L94.4,239.6 L94.4,238.5 L94.4,237.5 L94.4,236.5 L94.4,235.5 L94.4,234.5 L94.4,233.5 L94.5,232.4 L94.5,231.4 L94.6,230.4 L94.6,229.4 L94.7,228.4 L94.8,227.4 L94.8,226.3 L94.9,225.3 L95.0,224.3 L95.0,223.3 L95.1,222.3 L95.2,221.3 L95.3,220.2 L95.3,219.2 L95.3,218.2 Z" fill="#82EAE2" stroke="#000" stroke-width="0.7"/>
<line x1="95.26" y1="220.00" x2="95.26" y2="279.40" stroke="#000" stroke-opacity="0.4" stroke-width="0.8"/>
<rect x="94.06" y="279.40" width="2.40" height="24.90" fill="#4CC6C4" stroke="#000" stroke-width="0.55"/>
<line x1="94.06" y1="291.30" x2="96.46" y2="291.30" stroke="#000" stroke-width="0.9"/>
<path d="M114.5,234.5 L114.5,235.5 L114.5,236.5 L114.5,237.6 L114.5,238.6 L114.6,239.6 L114.6,240.6 L114.7,241.7 L114.8,242.7 L114.9,243.7 L115.0,244.7 L115.1,245.7 L115.2,246.8 L115.3,247.8 L115.4,248.8 L115.6,249.8 L115.7,250.8 L115.8,251.9 L116.0,252.9 L116.1,253.9 L116.2,254.9 L116.4,256.0 L116.5,257.0 L116.6,258.0 L116.8,259.0 L116.9,260.0 L117.0,261.1 L117.2,262.1 L117.3,263.1 L117.4,264.1 L117.5,265.2 L117.6,266.2 L117.7,267.2 L117.8,268.2 L118.1,269.2 L118.4,270.3 L118.7,271.3 L119.1,272.3 L119.5,273.3 L119.8,274.4 L120.0,275.4 L120.1,276.4 L120.1,277.4 L120.0,278.4 L119.8,279.5 L119.7,280.5 L119.5,281.5 L119.4,282.5 L119.3,283.5 L119.3,284.6 L119.3,285.6 L119.3,286.6 L119.3,287.6 L119.3,288.7 L119.5,289.7 L119.6,290.7 L119.8,291.7 L119.9,292.7 L120.1,293.8 L120.2,294.8 L120.3,295.8 L120.3,296.8 L120.4,297.9 L120.4,298.9 L120.4,299.9 L120.4,300.9 L120.4,301.9 L120.3,303.0 L120.2,304.0 L119.9,305.0 L119.6,306.0 L119.2,307.1 L118.9,308.1 L118.5,309.1 L118.1,310.1 L117.8,311.1 L117.4,312.2 L117.0,313.2 L116.6,314.2 L116.1,315.2 L115.7,316.2 L115.3,317.3 L115.0,318.3 L114.7,319.3 L114.5,320.3 L114.5,321.4 L114.5,322.4 L114.5,323.4 L114.5,323.4 L114.5,322.4 L114.5,321.4 L114.4,320.3 L114.2,319.3 L113.9,318.3 L113.6,317.3 L113.2,316.2 L112.8,315.2 L112.3,314.2 L111.9,313.2 L111.5,312.2 L111.2,311.1 L110.8,310.1 L110.4,309.1 L110.0,308.1 L109.7,307.1 L109.3,306.0 L109.0,305.0 L108.7,304.0 L108.6,303.0 L108.5,301.9 L108.5,300.9 L108.5,299.9 L108.5,298.9 L108.5,297.9 L108.6,296.8 L108.6,295.8 L108.7,294.8 L108.8,293.8 L109.0,292.7 L109.1,291.7 L109.3,290.7 L109.4,289.7 L109.6,288.7 L109.6,287.6 L109.6,286.6 L109.6,285.6 L109.6,284.6 L109.6,283.5 L109.5,282.5 L109.4,281.5 L109.2,280.5 L109.1,279.5 L108.9,278.4 L108.8,277.4 L108.8,276.4 L108.9,275.4 L109.1,274.4 L109.4,273.3 L109.8,272.3 L110.2,271.3 L110.5,270.3 L110.8,269.2 L111.1,268.2 L111.2,267.2 L111.3,266.2 L111.4,265.2 L111.5,264.1 L111.6,263.1 L111.7,262.1 L111.9,261.1 L112.0,260.0 L112.1,259.0 L112.3,258.0 L112.4,257.0 L112.5,256.0 L112.7,254.9 L112.8,253.9 L112.9,252.9 L113.1,251.9 L113.2,250.8 L113.3,249.8 L113.5,248.8 L113.6,247.8 L113.7,246.8 L113.8,245.7 L113.9,244.7 L114.0,243.7 L114.1,242.7 L114.2,241.7 L114.3,240.6 L114.3,239.6 L114.4,238.6 L114.5,237.6 L114.5,236.5 L114.5,235.5 L114.5,234.5 Z" fill="#DDAAFA" stroke="#000" stroke-width="0.7"/>
<line x1="114.45" y1="236.00" x2="114.45" y2="279.40" stroke="#000" stroke-opacity="0.4" stroke-width="0.8"/>
<rect x="113.25" y="279.40" width="2.40" height="24.90" fill="#BC78E4" stroke="#000" stroke-width="0.55"/>
<line x1="113.25" y1="291.30" x2="115.65" y2="291.30" stroke="#000" stroke-width="0.9"/>
<path d="M142.2,208.6 L142.2,209.6 L142.2,210.6 L142.2,211.6 L142.2,212.7 L142.2,213.7 L142.3,214.7 L142.3,215.7 L142.4,216.7 L142.4,217.7 L142.5,218.7 L142.6,219.8 L142.6,220.8 L142.7,221.8 L142.8,222.8 L142.9,223.8 L143.0,224.8 L143.1,225.8 L143.1,226.9 L143.2,227.9 L143.2,228.9 L143.3,229.9 L143.3,230.9 L143.4,231.9 L143.4,233.0 L143.5,234.0 L143.6,235.0 L143.6,236.0 L143.7,237.0 L143.8,238.0 L143.9,239.0 L144.0,240.1 L144.1,241.1 L144.2,242.1 L144.3,243.1 L144.5,244.1 L144.6,245.1 L144.8,246.1 L145.0,247.2 L145.2,248.2 L145.4,249.2 L145.7,250.2 L145.9,251.2 L146.1,252.2 L146.3,253.2 L146.5,254.3 L146.7,255.3 L146.9,256.3 L147.1,257.3 L147.3,258.3 L147.4,259.3 L147.6,260.3 L147.7,261.4 L147.8,262.4 L147.8,263.4 L147.8,264.4 L147.8,265.4 L147.7,266.4 L147.6,267.4 L147.5,268.5 L147.4,269.5 L147.3,270.5 L147.2,271.5 L147.1,272.5 L147.0,273.5 L146.9,274.6 L146.8,275.6 L146.8,276.6 L146.7,277.6 L146.6,278.6 L146.5,279.6 L146.5,280.6 L146.4,281.7 L146.3,282.7 L146.3,283.7 L146.2,284.7 L146.1,285.7 L146.1,286.7 L146.0,287.7 L146.0,288.8 L145.9,289.8 L145.8,290.8 L145.8,291.8 L145.7,292.8 L145.6,293.8 L145.6,294.8 L145.5,295.9 L145.4,296.9 L145.4,297.9 L145.3,298.9 L145.2,299.9 L145.1,300.9 L145.0,301.9 L144.9,303.0 L144.7,304.0 L144.5,305.0 L144.4,306.0 L144.2,307.0 L144.1,308.0 L144.0,309.1 L143.9,310.1 L143.8,311.1 L143.6,312.1 L143.5,313.1 L143.3,314.1 L143.0,315.1 L142.8,316.2 L142.6,317.2 L142.5,318.2 L142.4,319.2 L142.3,320.2 L142.2,321.2 L142.2,322.2 L142.2,323.3 L142.2,324.3 L142.2,325.3 L142.2,326.3 L142.2,326.3 L142.2,325.3 L142.2,324.3 L142.2,323.3 L142.2,322.2 L142.1,321.2 L142.0,320.2 L142.0,319.2 L141.9,318.2 L141.7,317.2 L141.5,316.2 L141.3,315.1 L141.1,314.1 L140.9,313.1 L140.7,312.1 L140.6,311.1 L140.5,310.1 L140.4,309.1 L140.2,308.0 L140.1,307.0 L140.0,306.0 L139.8,305.0 L139.6,304.0 L139.4,303.0 L139.3,301.9 L139.2,300.9 L139.1,299.9 L139.0,298.9 L139.0,297.9 L138.9,296.9 L138.8,295.9 L138.8,294.8 L138.7,293.8 L138.6,292.8 L138.6,291.8 L138.5,290.8 L138.4,289.8 L138.4,288.8 L138.3,287.7 L138.3,286.7 L138.2,285.7 L138.1,284.7 L138.1,283.7 L138.0,282.7 L137.9,281.7 L137.9,280.6 L137.8,279.6 L137.7,278.6 L137.6,277.6 L137.6,276.6 L137.5,275.6 L137.4,274.6 L137.3,273.5 L137.3,272.5 L137.2,271.5 L137.0,270.5 L136.9,269.5 L136.8,268.5 L136.7,267.4 L136.6,266.4 L136.6,265.4 L136.5,264.4 L136.5,263.4 L136.6,262.4 L136.6,261.4 L136.8,260.3 L136.9,259.3 L137.1,258.3 L137.3,257.3 L137.4,256.3 L137.6,255.3 L137.8,254.3 L138.0,253.2 L138.2,252.2 L138.4,251.2 L138.7,250.2 L138.9,249.2 L139.1,248.2 L139.4,247.2 L139.6,246.1 L139.7,245.1 L139.9,244.1 L140.0,243.1 L140.1,242.1 L140.2,241.1 L140.4,240.1 L140.5,239.0 L140.5,238.0 L140.6,237.0 L140.7,236.0 L140.8,235.0 L140.9,234.0 L140.9,233.0 L141.0,231.9 L141.0,230.9 L141.1,229.9 L141.1,228.9 L141.2,227.9 L141.2,226.9 L141.3,225.8 L141.3,224.8 L141.4,223.8 L141.5,222.8 L141.6,221.8 L141.7,220.8 L141.8,219.8 L141.8,218.7 L141.9,217.7 L142.0,216.7 L142.0,215.7 L142.1,214.7 L142.1,213.7 L142.2,212.7 L142.2,211.6 L142.2,210.6 L142.2,209.6 L142.2,208.6 Z" fill="#F5AAA6" stroke="#000" stroke-width="0.7"/>
<line x1="142.17" y1="225.00" x2="142.17" y2="265.70" stroke="#000" stroke-opacity="0.4" stroke-width="0.8"/>
<rect x="140.97" y="265.70" width="2.40" height="25.80" fill="#D2706A" stroke="#000" stroke-width="0.55"/>
<line x1="140.97" y1="278.10" x2="143.37" y2="278.10" stroke="#000" stroke-width="0.9"/>
<path d="M161.4,208.6 L161.4,209.6 L161.4,210.6 L161.4,211.7 L161.4,212.7 L161.4,213.7 L161.4,214.7 L161.4,215.7 L161.4,216.7 L161.4,217.8 L161.5,218.8 L161.5,219.8 L161.6,220.8 L161.6,221.8 L161.7,222.8 L161.8,223.9 L161.8,224.9 L161.9,225.9 L162.0,226.9 L162.1,227.9 L162.3,228.9 L162.4,230.0 L162.5,231.0 L162.6,232.0 L162.8,233.0 L162.9,234.0 L163.0,235.0 L163.2,236.1 L163.3,237.1 L163.5,238.1 L163.6,239.1 L163.8,240.1 L163.9,241.1 L164.1,242.2 L164.3,243.2 L164.4,244.2 L164.6,245.2 L164.8,246.2 L165.0,247.2 L165.2,248.3 L165.3,249.3 L165.5,250.3 L165.7,251.3 L165.9,252.3 L166.1,253.3 L166.2,254.4 L166.4,255.4 L166.6,256.4 L166.8,257.4 L167.0,258.4 L167.1,259.4 L167.3,260.5 L167.4,261.5 L167.5,262.5 L167.5,263.5 L167.5,264.5 L167.5,265.6 L167.4,266.6 L167.3,267.6 L167.2,268.6 L167.1,269.6 L167.0,270.6 L166.9,271.7 L166.8,272.7 L166.7,273.7 L166.5,274.7 L166.4,275.7 L166.3,276.7 L166.1,277.8 L165.9,278.8 L165.8,279.8 L165.6,280.8 L165.5,281.8 L165.4,282.8 L165.3,283.9 L165.2,284.9 L165.2,285.9 L165.1,286.9 L165.0,287.9 L164.9,288.9 L164.9,290.0 L164.8,291.0 L164.7,292.0 L164.7,293.0 L164.6,294.0 L164.5,295.0 L164.5,296.1 L164.4,297.1 L164.3,298.1 L164.2,299.1 L164.2,300.1 L164.1,301.1 L164.0,302.2 L163.9,303.2 L163.8,304.2 L163.6,305.2 L163.5,306.2 L163.4,307.2 L163.2,308.3 L163.0,309.3 L162.9,310.3 L162.6,311.3 L162.4,312.3 L162.1,313.3 L161.8,314.4 L161.7,315.4 L161.5,316.4 L161.5,317.4 L161.4,318.4 L161.4,319.4 L161.4,320.5 L161.4,321.5 L161.4,322.5 L161.4,322.5 L161.4,321.5 L161.4,320.5 L161.4,319.4 L161.3,318.4 L161.3,317.4 L161.2,316.4 L161.1,315.4 L160.9,314.4 L160.7,313.3 L160.4,312.3 L160.1,311.3 L159.9,310.3 L159.7,309.3 L159.5,308.3 L159.3,307.2 L159.2,306.2 L159.1,305.2 L158.9,304.2 L158.8,303.2 L158.7,302.2 L158.6,301.1 L158.5,300.1 L158.5,299.1 L158.4,298.1 L158.3,297.1 L158.3,296.1 L158.2,295.0 L158.1,294.0 L158.0,293.0 L158.0,292.0 L157.9,291.0 L157.8,290.0 L157.8,288.9 L157.7,287.9 L157.6,286.9 L157.6,285.9 L157.5,284.9 L157.4,283.9 L157.3,282.8 L157.2,281.8 L157.1,280.8 L156.9,279.8 L156.8,278.8 L156.6,277.8 L156.5,276.7 L156.3,275.7 L156.2,274.7 L156.0,273.7 L155.9,272.7 L155.8,271.7 L155.7,270.6 L155.6,269.6 L155.5,268.6 L155.4,267.6 L155.3,266.6 L155.3,265.6 L155.2,264.5 L155.2,263.5 L155.2,262.5 L155.3,261.5 L155.4,260.5 L155.6,259.4 L155.8,258.4 L155.9,257.4 L156.1,256.4 L156.3,255.4 L156.5,254.4 L156.6,253.3 L156.8,252.3 L157.0,251.3 L157.2,250.3 L157.4,249.3 L157.6,248.3 L157.7,247.2 L157.9,246.2 L158.1,245.2 L158.3,244.2 L158.4,243.2 L158.6,242.2 L158.8,241.1 L158.9,240.1 L159.1,239.1 L159.2,238.1 L159.4,237.1 L159.5,236.1 L159.7,235.0 L159.8,234.0 L160.0,233.0 L160.1,232.0 L160.2,231.0 L160.3,230.0 L160.5,228.9 L160.6,227.9 L160.7,226.9 L160.8,225.9 L160.9,224.9 L161.0,223.9 L161.0,222.8 L161.1,221.8 L161.1,220.8 L161.2,219.8 L161.2,218.8 L161.3,217.8 L161.3,216.7 L161.4,215.7 L161.4,214.7 L161.4,213.7 L161.4,212.7 L161.4,211.7 L161.4,210.6 L161.4,209.6 L161.4,208.6 Z" fill="#B6DC70" stroke="#000" stroke-width="0.7"/>
<line x1="161.36" y1="228.00" x2="161.36" y2="265.70" stroke="#000" stroke-opacity="0.4" stroke-width="0.8"/>
<rect x="160.16" y="265.70" width="2.40" height="25.80" fill="#7AAE28" stroke="#000" stroke-width="0.55"/>
<line x1="160.16" y1="278.10" x2="162.56" y2="278.10" stroke="#000" stroke-width="0.9"/>
<path d="M180.5,207.7 L180.5,208.7 L180.7,209.7 L180.8,210.8 L180.9,211.8 L181.0,212.8 L181.0,213.8 L181.1,214.8 L181.1,215.8 L181.2,216.9 L181.2,217.9 L181.3,218.9 L181.3,219.9 L181.3,220.9 L181.3,222.0 L181.3,223.0 L181.4,224.0 L181.7,225.0 L182.2,226.0 L182.2,227.0 L182.2,228.1 L182.2,229.1 L182.2,230.1 L181.9,231.1 L181.7,232.1 L181.6,233.1 L181.5,234.2 L181.5,235.2 L181.6,236.2 L181.7,237.2 L181.9,238.2 L182.2,239.3 L182.2,240.3 L182.2,241.3 L182.2,242.3 L182.2,243.3 L181.8,244.3 L181.7,245.4 L181.7,246.4 L181.7,247.4 L181.7,248.4 L181.7,249.4 L181.9,250.5 L182.2,251.5 L182.4,252.5 L182.7,253.5 L183.1,254.5 L183.4,255.5 L183.7,256.6 L184.2,257.6 L184.8,258.6 L185.6,259.6 L186.5,260.6 L187.6,261.6 L188.7,262.7 L189.3,263.7 L189.8,264.7 L190.0,265.7 L189.6,266.7 L189.0,267.8 L188.3,268.8 L187.3,269.8 L186.4,270.8 L186.2,271.8 L186.7,272.8 L187.3,273.9 L187.8,274.9 L188.2,275.9 L188.2,276.9 L187.9,277.9 L187.4,279.0 L186.9,280.0 L186.1,281.0 L185.4,282.0 L184.6,283.0 L183.9,284.0 L183.4,285.1 L183.0,286.1 L182.7,287.1 L182.5,288.1 L182.4,289.1 L182.4,290.2 L182.3,291.2 L182.3,292.2 L182.2,293.2 L182.1,294.2 L182.0,295.2 L182.0,296.3 L182.3,297.3 L182.7,298.3 L183.1,299.3 L183.4,300.3 L183.5,301.3 L183.7,302.4 L183.7,303.4 L183.6,304.4 L183.4,305.4 L183.1,306.4 L182.6,307.5 L182.2,308.5 L181.9,309.5 L181.5,310.5 L181.3,311.5 L181.1,312.5 L180.8,313.6 L180.6,314.6 L180.5,315.6 L180.5,315.6 L180.5,314.6 L180.2,313.6 L180.0,312.5 L179.8,311.5 L179.6,310.5 L179.2,309.5 L178.9,308.5 L178.5,307.5 L178.0,306.4 L177.7,305.4 L177.5,304.4 L177.4,303.4 L177.4,302.4 L177.5,301.3 L177.7,300.3 L178.0,299.3 L178.4,298.3 L178.8,297.3 L179.1,296.3 L179.1,295.2 L179.0,294.2 L178.9,293.2 L178.8,292.2 L178.7,291.2 L178.7,290.2 L178.7,289.1 L178.6,288.1 L178.4,287.1 L178.1,286.1 L177.6,285.1 L177.2,284.0 L176.5,283.0 L175.7,282.0 L175.0,281.0 L174.2,280.0 L173.7,279.0 L173.2,277.9 L172.9,276.9 L172.8,275.9 L173.3,274.9 L173.8,273.9 L174.4,272.8 L174.9,271.8 L174.7,270.8 L173.8,269.8 L172.8,268.8 L172.1,267.8 L171.5,266.7 L171.1,265.7 L171.3,264.7 L171.8,263.7 L172.4,262.7 L173.4,261.6 L174.6,260.6 L175.5,259.6 L176.3,258.6 L176.9,257.6 L177.4,256.6 L177.7,255.5 L178.0,254.5 L178.3,253.5 L178.7,252.5 L178.9,251.5 L179.2,250.5 L179.4,249.4 L179.4,248.4 L179.4,247.4 L179.4,246.4 L179.4,245.4 L179.3,244.3 L178.9,243.3 L178.9,242.3 L178.9,241.3 L178.9,240.3 L178.9,239.3 L179.2,238.2 L179.4,237.2 L179.5,236.2 L179.6,235.2 L179.6,234.2 L179.5,233.1 L179.4,232.1 L179.2,231.1 L178.9,230.1 L178.9,229.1 L178.9,228.1 L178.9,227.0 L178.9,226.0 L179.3,225.0 L179.7,224.0 L179.7,223.0 L179.8,222.0 L179.8,220.9 L179.8,219.9 L179.8,218.9 L179.9,217.9 L179.9,216.9 L179.9,215.8 L180.0,214.8 L180.1,213.8 L180.1,212.8 L180.2,211.8 L180.3,210.8 L180.4,209.7 L180.5,208.7 L180.5,207.7 Z" fill="#82EAE2" stroke="#000" stroke-width="0.7"/>
<line x1="180.54" y1="247.00" x2="180.54" y2="266.00" stroke="#000" stroke-opacity="0.4" stroke-width="0.8"/>
<rect x="179.34" y="266.00" width="2.40" height="13.00" fill="#4CC6C4" stroke="#000" stroke-width="0.55"/>
<line x1="179.34" y1="277.50" x2="181.74" y2="277.50" stroke="#000" stroke-width="0.9"/>
<path d="M199.7,219.2 L199.7,220.2 L199.7,221.2 L199.7,222.2 L199.7,223.2 L199.8,224.3 L199.8,225.3 L199.9,226.3 L199.9,227.3 L200.0,228.3 L200.1,229.3 L200.1,230.3 L200.2,231.3 L200.3,232.3 L200.3,233.3 L200.4,234.4 L200.5,235.4 L200.6,236.4 L200.8,237.4 L200.9,238.4 L201.0,239.4 L201.1,240.4 L201.3,241.4 L201.4,242.4 L201.5,243.5 L201.6,244.5 L201.8,245.5 L201.9,246.5 L202.0,247.5 L202.1,248.5 L202.2,249.5 L202.4,250.5 L202.5,251.5 L202.6,252.5 L202.8,253.6 L202.9,254.6 L203.1,255.6 L203.3,256.6 L203.5,257.6 L203.7,258.6 L203.9,259.6 L204.2,260.6 L204.4,261.6 L204.5,262.7 L204.6,263.7 L204.6,264.7 L204.7,265.7 L204.7,266.7 L204.7,267.7 L204.7,268.7 L204.8,269.7 L204.8,270.7 L204.8,271.7 L204.8,272.8 L204.8,273.8 L204.8,274.8 L204.7,275.8 L204.6,276.8 L204.5,277.8 L204.5,278.8 L204.4,279.8 L204.3,280.8 L204.2,281.8 L204.1,282.9 L204.0,283.9 L203.9,284.9 L203.9,285.9 L203.8,286.9 L203.7,287.9 L203.7,288.9 L203.6,289.9 L203.5,290.9 L203.4,292.0 L203.3,293.0 L203.3,294.0 L203.2,295.0 L203.1,296.0 L203.0,297.0 L203.0,298.0 L202.9,299.0 L202.8,300.0 L202.7,301.0 L202.6,302.1 L202.4,303.1 L202.3,304.1 L202.1,305.1 L201.9,306.1 L201.8,307.1 L201.6,308.1 L201.5,309.1 L201.4,310.1 L201.3,311.2 L201.2,312.2 L201.0,313.2 L200.8,314.2 L200.5,315.2 L200.2,316.2 L200.0,317.2 L199.9,318.2 L199.9,319.2 L199.8,320.2 L199.7,321.3 L199.7,322.3 L199.7,323.3 L199.7,324.3 L199.7,325.3 L199.7,325.3 L199.7,324.3 L199.7,323.3 L199.7,322.3 L199.7,321.3 L199.7,320.2 L199.6,319.2 L199.5,318.2 L199.4,317.2 L199.2,316.2 L199.0,315.2 L198.7,314.2 L198.4,313.2 L198.3,312.2 L198.1,311.2 L198.0,310.1 L197.9,309.1 L197.8,308.1 L197.7,307.1 L197.5,306.1 L197.4,305.1 L197.2,304.1 L197.0,303.1 L196.9,302.1 L196.8,301.0 L196.7,300.0 L196.6,299.0 L196.5,298.0 L196.4,297.0 L196.3,296.0 L196.3,295.0 L196.2,294.0 L196.1,293.0 L196.0,292.0 L196.0,290.9 L195.9,289.9 L195.8,288.9 L195.7,287.9 L195.7,286.9 L195.6,285.9 L195.5,284.9 L195.5,283.9 L195.4,282.9 L195.3,281.8 L195.2,280.8 L195.1,279.8 L195.0,278.8 L194.9,277.8 L194.8,276.8 L194.8,275.8 L194.7,274.8 L194.7,273.8 L194.7,272.8 L194.7,271.7 L194.7,270.7 L194.7,269.7 L194.7,268.7 L194.8,267.7 L194.8,266.7 L194.8,265.7 L194.8,264.7 L194.9,263.7 L195.0,262.7 L195.1,261.6 L195.3,260.6 L195.5,259.6 L195.8,258.6 L196.0,257.6 L196.2,256.6 L196.4,255.6 L196.5,254.6 L196.7,253.6 L196.8,252.5 L197.0,251.5 L197.1,250.5 L197.2,249.5 L197.3,248.5 L197.5,247.5 L197.6,246.5 L197.7,245.5 L197.8,244.5 L197.9,243.5 L198.1,242.4 L198.2,241.4 L198.3,240.4 L198.5,239.4 L198.6,238.4 L198.7,237.4 L198.8,236.4 L198.9,235.4 L199.0,234.4 L199.1,233.3 L199.2,232.3 L199.3,231.3 L199.3,230.3 L199.4,229.3 L199.5,228.3 L199.5,227.3 L199.6,226.3 L199.7,225.3 L199.7,224.3 L199.7,223.2 L199.7,222.2 L199.7,221.2 L199.7,220.2 L199.7,219.2 Z" fill="#DDAAFA" stroke="#000" stroke-width="0.7"/>
<line x1="199.73" y1="232.00" x2="199.73" y2="265.70" stroke="#000" stroke-opacity="0.4" stroke-width="0.8"/>
<rect x="198.53" y="265.70" width="2.40" height="25.30" fill="#BC78E4" stroke="#000" stroke-width="0.55"/>
<line x1="198.53" y1="279.00" x2="200.93" y2="279.00" stroke="#000" stroke-width="0.9"/>
<path d="M227.4,208.6 L227.4,209.6 L227.4,210.6 L227.4,211.6 L227.4,212.6 L227.5,213.7 L227.6,214.7 L227.6,215.7 L227.7,216.7 L227.7,217.7 L227.8,218.7 L227.9,219.7 L228.0,220.7 L228.1,221.8 L228.1,222.8 L228.2,223.8 L228.3,224.8 L228.3,225.8 L228.3,226.8 L228.1,227.8 L228.0,228.8 L227.9,229.9 L227.9,230.9 L227.9,231.9 L227.9,232.9 L227.9,233.9 L227.9,234.9 L227.9,235.9 L228.0,236.9 L228.0,237.9 L228.0,239.0 L228.0,240.0 L228.1,241.0 L228.1,242.0 L228.2,243.0 L228.2,244.0 L228.4,245.0 L228.7,246.0 L229.0,247.1 L229.3,248.1 L229.6,249.1 L229.9,250.1 L230.1,251.1 L230.4,252.1 L230.7,253.1 L230.9,254.1 L231.2,255.2 L231.5,256.2 L231.8,257.2 L232.1,258.2 L232.4,259.2 L232.7,260.2 L232.8,261.2 L232.9,262.2 L232.9,263.2 L233.0,264.3 L233.0,265.3 L233.0,266.3 L233.1,267.3 L233.1,268.3 L233.1,269.3 L233.1,270.3 L233.1,271.3 L233.0,272.4 L233.0,273.4 L232.9,274.4 L232.9,275.4 L232.8,276.4 L232.7,277.4 L232.7,278.4 L232.6,279.4 L232.5,280.4 L232.4,281.5 L232.3,282.5 L232.2,283.5 L232.1,284.5 L232.0,285.5 L231.9,286.5 L231.8,287.5 L231.7,288.5 L231.6,289.6 L231.5,290.6 L231.4,291.6 L231.3,292.6 L231.2,293.6 L231.0,294.6 L230.9,295.6 L230.8,296.6 L230.7,297.7 L230.6,298.7 L230.4,299.7 L230.3,300.7 L230.2,301.7 L230.0,302.7 L229.9,303.7 L229.8,304.7 L229.6,305.7 L229.5,306.8 L229.3,307.8 L229.1,308.8 L228.9,309.8 L228.7,310.8 L228.5,311.8 L228.3,312.8 L228.2,313.8 L228.0,314.9 L227.9,315.9 L227.8,316.9 L227.7,317.9 L227.6,318.9 L227.6,319.9 L227.5,320.9 L227.4,321.9 L227.4,323.0 L227.4,324.0 L227.4,325.0 L227.4,326.0 L227.4,327.0 L227.4,327.0 L227.4,326.0 L227.4,325.0 L227.4,324.0 L227.4,323.0 L227.4,321.9 L227.4,320.9 L227.3,319.9 L227.3,318.9 L227.2,317.9 L227.1,316.9 L227.0,315.9 L226.9,314.9 L226.7,313.8 L226.6,312.8 L226.4,311.8 L226.2,310.8 L226.0,309.8 L225.8,308.8 L225.6,307.8 L225.4,306.8 L225.3,305.7 L225.1,304.7 L225.0,303.7 L224.9,302.7 L224.7,301.7 L224.6,300.7 L224.5,299.7 L224.3,298.7 L224.2,297.7 L224.1,296.6 L224.0,295.6 L223.9,294.6 L223.7,293.6 L223.6,292.6 L223.5,291.6 L223.4,290.6 L223.3,289.6 L223.2,288.5 L223.1,287.5 L223.0,286.5 L222.9,285.5 L222.8,284.5 L222.7,283.5 L222.6,282.5 L222.5,281.5 L222.4,280.4 L222.3,279.4 L222.2,278.4 L222.2,277.4 L222.1,276.4 L222.0,275.4 L222.0,274.4 L221.9,273.4 L221.9,272.4 L221.8,271.3 L221.8,270.3 L221.8,269.3 L221.8,268.3 L221.8,267.3 L221.9,266.3 L221.9,265.3 L221.9,264.3 L222.0,263.2 L222.0,262.2 L222.1,261.2 L222.2,260.2 L222.5,259.2 L222.8,258.2 L223.1,257.2 L223.4,256.2 L223.7,255.2 L224.0,254.1 L224.2,253.1 L224.5,252.1 L224.8,251.1 L225.0,250.1 L225.3,249.1 L225.6,248.1 L225.9,247.1 L226.2,246.0 L226.5,245.0 L226.7,244.0 L226.7,243.0 L226.8,242.0 L226.8,241.0 L226.9,240.0 L226.9,239.0 L226.9,237.9 L226.9,236.9 L227.0,235.9 L227.0,234.9 L227.0,233.9 L227.0,232.9 L227.0,231.9 L227.0,230.9 L227.0,229.9 L226.9,228.8 L226.8,227.8 L226.6,226.8 L226.6,225.8 L226.6,224.8 L226.7,223.8 L226.7,222.8 L226.8,221.8 L226.9,220.7 L227.0,219.7 L227.1,218.7 L227.2,217.7 L227.2,216.7 L227.3,215.7 L227.3,214.7 L227.4,213.7 L227.4,212.6 L227.4,211.6 L227.4,210.6 L227.4,209.6 L227.4,208.6 Z" fill="#F5AAA6" stroke="#000" stroke-width="0.7"/>
<line x1="227.45" y1="217.00" x2="227.45" y2="266.60" stroke="#000" stroke-opacity="0.4" stroke-width="0.8"/>
<rect x="226.25" y="266.60" width="2.40" height="25.00" fill="#D2706A" stroke="#000" stroke-width="0.55"/>
<line x1="226.25" y1="279.20" x2="228.65" y2="279.20" stroke="#000" stroke-width="0.9"/>
<path d="M246.6,210.5 L246.6,211.5 L246.6,212.5 L246.6,213.5 L246.6,214.5 L246.6,215.6 L246.6,216.6 L246.7,217.6 L246.7,218.6 L246.8,219.6 L246.8,220.6 L246.9,221.6 L247.0,222.6 L247.1,223.6 L247.2,224.7 L247.4,225.7 L247.5,226.7 L247.5,227.7 L247.5,228.7 L247.4,229.7 L247.4,230.7 L247.4,231.7 L247.4,232.7 L247.4,233.7 L247.4,234.8 L247.4,235.8 L247.4,236.8 L247.4,237.8 L247.4,238.8 L247.5,239.8 L247.5,240.8 L247.5,241.8 L247.6,242.8 L247.7,243.9 L247.8,244.9 L247.9,245.9 L248.0,246.9 L248.2,247.9 L248.3,248.9 L248.5,249.9 L248.7,250.9 L248.9,251.9 L249.2,253.0 L249.5,254.0 L249.8,255.0 L250.1,256.0 L250.4,257.0 L250.6,258.0 L250.8,259.0 L251.1,260.0 L251.3,261.0 L251.5,262.1 L251.7,263.1 L251.9,264.1 L252.0,265.1 L252.1,266.1 L252.2,267.1 L252.2,268.1 L252.3,269.1 L252.3,270.1 L252.3,271.1 L252.2,272.2 L252.1,273.2 L252.0,274.2 L251.9,275.2 L251.8,276.2 L251.7,277.2 L251.6,278.2 L251.5,279.2 L251.4,280.2 L251.3,281.3 L251.2,282.3 L251.1,283.3 L251.0,284.3 L250.8,285.3 L250.7,286.3 L250.6,287.3 L250.5,288.3 L250.4,289.3 L250.3,290.4 L250.2,291.4 L250.1,292.4 L250.1,293.4 L250.0,294.4 L249.9,295.4 L249.8,296.4 L249.7,297.4 L249.6,298.4 L249.5,299.5 L249.3,300.5 L249.2,301.5 L249.1,302.5 L249.0,303.5 L248.8,304.5 L248.7,305.5 L248.5,306.5 L248.3,307.5 L248.2,308.5 L247.9,309.6 L247.7,310.6 L247.5,311.6 L247.3,312.6 L247.0,313.6 L246.9,314.6 L246.8,315.6 L246.7,316.6 L246.7,317.6 L246.6,318.7 L246.6,319.7 L246.6,320.7 L246.6,321.7 L246.6,322.7 L246.6,322.7 L246.6,321.7 L246.6,320.7 L246.6,319.7 L246.6,318.7 L246.6,317.6 L246.6,316.6 L246.5,315.6 L246.4,314.6 L246.3,313.6 L246.0,312.6 L245.8,311.6 L245.6,310.6 L245.3,309.6 L245.1,308.5 L244.9,307.5 L244.8,306.5 L244.6,305.5 L244.5,304.5 L244.3,303.5 L244.2,302.5 L244.1,301.5 L243.9,300.5 L243.8,299.5 L243.7,298.4 L243.6,297.4 L243.5,296.4 L243.4,295.4 L243.3,294.4 L243.2,293.4 L243.1,292.4 L243.0,291.4 L242.9,290.4 L242.8,289.3 L242.8,288.3 L242.6,287.3 L242.5,286.3 L242.4,285.3 L242.3,284.3 L242.2,283.3 L242.1,282.3 L242.0,281.3 L241.9,280.2 L241.8,279.2 L241.7,278.2 L241.6,277.2 L241.5,276.2 L241.4,275.2 L241.3,274.2 L241.2,273.2 L241.1,272.2 L241.0,271.1 L241.0,270.1 L241.0,269.1 L241.0,268.1 L241.1,267.1 L241.2,266.1 L241.3,265.1 L241.4,264.1 L241.6,263.1 L241.8,262.1 L242.0,261.0 L242.2,260.0 L242.4,259.0 L242.7,258.0 L242.9,257.0 L243.2,256.0 L243.5,255.0 L243.8,254.0 L244.1,253.0 L244.3,251.9 L244.6,250.9 L244.8,249.9 L244.9,248.9 L245.1,247.9 L245.2,246.9 L245.4,245.9 L245.5,244.9 L245.6,243.9 L245.7,242.8 L245.8,241.8 L245.8,240.8 L245.8,239.8 L245.8,238.8 L245.8,237.8 L245.9,236.8 L245.9,235.8 L245.9,234.8 L245.9,233.7 L245.9,232.7 L245.9,231.7 L245.9,230.7 L245.8,229.7 L245.8,228.7 L245.8,227.7 L245.8,226.7 L245.9,225.7 L246.1,224.7 L246.2,223.6 L246.3,222.6 L246.4,221.6 L246.4,220.6 L246.5,219.6 L246.6,218.6 L246.6,217.6 L246.6,216.6 L246.6,215.6 L246.6,214.5 L246.6,213.5 L246.6,212.5 L246.6,211.5 L246.6,210.5 Z" fill="#B6DC70" stroke="#000" stroke-width="0.7"/>
<line x1="246.64" y1="232.00" x2="246.64" y2="266.60" stroke="#000" stroke-opacity="0.4" stroke-width="0.8"/>
<rect x="245.44" y="266.60" width="2.40" height="25.00" fill="#7AAE28" stroke="#000" stroke-width="0.55"/>
<line x1="245.44" y1="279.20" x2="247.84" y2="279.20" stroke="#000" stroke-width="0.9"/>
<path d="M265.8,208.6 L265.8,209.6 L265.8,210.6 L265.8,211.6 L265.9,212.6 L266.0,213.7 L266.1,214.7 L266.3,215.7 L266.7,216.7 L266.9,217.7 L267.0,218.7 L267.0,219.7 L267.1,220.7 L267.1,221.8 L267.1,222.8 L267.1,223.8 L267.1,224.8 L267.2,225.8 L267.2,226.8 L267.2,227.8 L267.2,228.8 L267.2,229.9 L267.2,230.9 L267.1,231.9 L267.1,232.9 L267.1,233.9 L267.0,234.9 L267.0,235.9 L267.0,236.9 L266.9,237.9 L266.9,239.0 L266.9,240.0 L266.8,241.0 L266.8,242.0 L266.8,243.0 L266.7,244.0 L266.7,245.0 L266.7,246.0 L266.7,247.1 L266.7,248.1 L266.8,249.1 L267.2,250.1 L267.5,251.1 L267.8,252.1 L268.1,253.1 L268.3,254.1 L268.6,255.2 L268.9,256.2 L269.2,257.2 L269.4,258.2 L269.6,259.2 L269.8,260.2 L270.0,261.2 L270.1,262.2 L270.2,263.3 L270.4,264.3 L270.5,265.3 L270.7,266.3 L271.1,267.3 L271.4,268.3 L271.6,269.3 L271.7,270.3 L271.8,271.3 L271.8,272.4 L271.9,273.4 L271.9,274.4 L271.9,275.4 L272.0,276.4 L272.0,277.4 L272.0,278.4 L272.0,279.4 L271.9,280.5 L271.9,281.5 L271.8,282.5 L271.6,283.5 L271.5,284.5 L271.3,285.5 L271.2,286.5 L271.0,287.5 L270.9,288.6 L270.8,289.6 L270.6,290.6 L270.5,291.6 L270.4,292.6 L270.2,293.6 L270.1,294.6 L270.0,295.6 L269.8,296.6 L269.7,297.7 L269.5,298.7 L269.4,299.7 L269.2,300.7 L269.0,301.7 L268.9,302.7 L268.7,303.7 L268.5,304.7 L268.4,305.8 L268.2,306.8 L268.0,307.8 L267.9,308.8 L267.7,309.8 L267.4,310.8 L267.0,311.8 L266.7,312.8 L266.5,313.9 L266.3,314.9 L266.1,315.9 L266.0,316.9 L266.0,317.9 L265.9,318.9 L265.9,319.9 L265.8,320.9 L265.8,322.0 L265.8,323.0 L265.8,324.0 L265.8,325.0 L265.8,326.0 L265.8,326.0 L265.8,325.0 L265.8,324.0 L265.8,323.0 L265.8,322.0 L265.8,320.9 L265.8,319.9 L265.7,318.9 L265.7,317.9 L265.6,316.9 L265.5,315.9 L265.4,314.9 L265.2,313.9 L264.9,312.8 L264.6,311.8 L264.3,310.8 L264.0,309.8 L263.8,308.8 L263.6,307.8 L263.5,306.8 L263.3,305.8 L263.1,304.7 L263.0,303.7 L262.8,302.7 L262.6,301.7 L262.5,300.7 L262.3,299.7 L262.1,298.7 L262.0,297.7 L261.8,296.6 L261.7,295.6 L261.5,294.6 L261.4,293.6 L261.3,292.6 L261.1,291.6 L261.0,290.6 L260.9,289.6 L260.8,288.6 L260.6,287.5 L260.5,286.5 L260.3,285.5 L260.2,284.5 L260.0,283.5 L259.9,282.5 L259.8,281.5 L259.7,280.5 L259.7,279.4 L259.7,278.4 L259.7,277.4 L259.7,276.4 L259.7,275.4 L259.7,274.4 L259.8,273.4 L259.8,272.4 L259.9,271.3 L259.9,270.3 L260.0,269.3 L260.2,268.3 L260.6,267.3 L260.9,266.3 L261.1,265.3 L261.3,264.3 L261.4,263.3 L261.5,262.2 L261.7,261.2 L261.8,260.2 L262.0,259.2 L262.2,258.2 L262.5,257.2 L262.7,256.2 L263.0,255.2 L263.3,254.1 L263.6,253.1 L263.9,252.1 L264.2,251.1 L264.5,250.1 L264.8,249.1 L265.0,248.1 L265.0,247.1 L265.0,246.0 L264.9,245.0 L264.9,244.0 L264.9,243.0 L264.9,242.0 L264.8,241.0 L264.8,240.0 L264.8,239.0 L264.7,237.9 L264.7,236.9 L264.7,235.9 L264.6,234.9 L264.6,233.9 L264.5,232.9 L264.5,231.9 L264.5,230.9 L264.5,229.9 L264.5,228.8 L264.5,227.8 L264.5,226.8 L264.5,225.8 L264.5,224.8 L264.5,223.8 L264.5,222.8 L264.6,221.8 L264.6,220.7 L264.6,219.7 L264.6,218.7 L264.7,217.7 L265.0,216.7 L265.3,215.7 L265.5,214.7 L265.6,213.7 L265.8,212.6 L265.8,211.6 L265.8,210.6 L265.8,209.6 L265.8,208.6 Z" fill="#82EAE2" stroke="#000" stroke-width="0.7"/>
<line x1="265.83" y1="236.00" x2="265.83" y2="266.60" stroke="#000" stroke-opacity="0.4" stroke-width="0.8"/>
<rect x="264.63" y="266.60" width="2.40" height="25.00" fill="#4CC6C4" stroke="#000" stroke-width="0.55"/>
<line x1="264.63" y1="279.20" x2="267.03" y2="279.20" stroke="#000" stroke-width="0.9"/>
<path d="M285.0,219.2 L285.0,220.2 L285.0,221.2 L285.0,222.3 L285.0,223.3 L285.0,224.3 L285.0,225.3 L285.1,226.3 L285.1,227.3 L285.2,228.4 L285.2,229.4 L285.3,230.4 L285.4,231.4 L285.5,232.4 L285.5,233.4 L285.7,234.5 L285.9,235.5 L286.0,236.5 L286.2,237.5 L286.4,238.5 L286.6,239.5 L286.7,240.6 L286.9,241.6 L287.1,242.6 L287.3,243.6 L287.4,244.6 L287.6,245.6 L287.8,246.7 L288.0,247.7 L288.2,248.7 L288.3,249.7 L288.5,250.7 L288.8,251.7 L289.0,252.8 L289.2,253.8 L289.4,254.8 L289.6,255.8 L289.8,256.8 L289.9,257.9 L290.0,258.9 L290.1,259.9 L290.2,260.9 L290.3,261.9 L290.3,262.9 L290.3,264.0 L290.4,265.0 L290.3,266.0 L290.2,267.0 L290.0,268.0 L289.9,269.0 L289.9,270.1 L289.9,271.1 L289.9,272.1 L289.9,273.1 L289.9,274.1 L289.9,275.1 L289.9,276.2 L289.9,277.2 L289.9,278.2 L289.9,279.2 L289.8,280.2 L289.8,281.2 L289.7,282.3 L289.7,283.3 L289.6,284.3 L289.5,285.3 L289.4,286.3 L289.3,287.3 L289.2,288.4 L289.1,289.4 L289.0,290.4 L289.0,291.4 L288.9,292.4 L288.8,293.5 L288.7,294.5 L288.6,295.5 L288.5,296.5 L288.4,297.5 L288.3,298.5 L288.2,299.6 L288.1,300.6 L288.0,301.6 L287.9,302.6 L287.7,303.6 L287.6,304.6 L287.5,305.7 L287.3,306.7 L287.2,307.7 L287.1,308.7 L286.9,309.7 L286.8,310.7 L286.7,311.8 L286.5,312.8 L286.4,313.8 L286.2,314.8 L286.0,315.8 L285.8,316.8 L285.5,317.9 L285.3,318.9 L285.2,319.9 L285.1,320.9 L285.0,321.9 L285.0,322.9 L285.0,324.0 L285.0,325.0 L285.0,326.0 L285.0,326.0 L285.0,325.0 L285.0,324.0 L285.0,322.9 L285.0,321.9 L284.9,320.9 L284.8,319.9 L284.7,318.9 L284.5,317.9 L284.2,316.8 L284.0,315.8 L283.8,314.8 L283.7,313.8 L283.5,312.8 L283.4,311.8 L283.2,310.7 L283.1,309.7 L283.0,308.7 L282.8,307.7 L282.7,306.7 L282.6,305.7 L282.4,304.6 L282.3,303.6 L282.2,302.6 L282.0,301.6 L281.9,300.6 L281.8,299.6 L281.7,298.5 L281.6,297.5 L281.5,296.5 L281.4,295.5 L281.3,294.5 L281.2,293.5 L281.2,292.4 L281.1,291.4 L281.0,290.4 L280.9,289.4 L280.8,288.4 L280.7,287.3 L280.7,286.3 L280.6,285.3 L280.5,284.3 L280.4,283.3 L280.3,282.3 L280.2,281.2 L280.2,280.2 L280.2,279.2 L280.2,278.2 L280.2,277.2 L280.2,276.2 L280.2,275.1 L280.2,274.1 L280.2,273.1 L280.2,272.1 L280.2,271.1 L280.2,270.1 L280.1,269.0 L280.0,268.0 L279.9,267.0 L279.7,266.0 L279.7,265.0 L279.7,264.0 L279.7,262.9 L279.8,261.9 L279.9,260.9 L279.9,259.9 L280.0,258.9 L280.1,257.9 L280.2,256.8 L280.4,255.8 L280.6,254.8 L280.8,253.8 L281.0,252.8 L281.3,251.7 L281.5,250.7 L281.7,249.7 L281.9,248.7 L282.1,247.7 L282.2,246.7 L282.4,245.6 L282.6,244.6 L282.8,243.6 L282.9,242.6 L283.1,241.6 L283.3,240.6 L283.5,239.5 L283.6,238.5 L283.8,237.5 L284.0,236.5 L284.2,235.5 L284.3,234.5 L284.5,233.4 L284.6,232.4 L284.7,231.4 L284.7,230.4 L284.8,229.4 L284.9,228.4 L284.9,227.3 L285.0,226.3 L285.0,225.3 L285.0,224.3 L285.0,223.3 L285.0,222.3 L285.0,221.2 L285.0,220.2 L285.0,219.2 Z" fill="#DDAAFA" stroke="#000" stroke-width="0.7"/>
<line x1="285.01" y1="235.00" x2="285.01" y2="266.60" stroke="#000" stroke-opacity="0.4" stroke-width="0.8"/>
<rect x="283.81" y="266.60" width="2.40" height="24.10" fill="#BC78E4" stroke="#000" stroke-width="0.55"/>
<line x1="283.81" y1="279.20" x2="286.21" y2="279.20" stroke="#000" stroke-width="0.9"/>
<path d="M34.5,201.9 V340.0 H307.4" fill="none" stroke="#333333" stroke-width="1"/>
<line x1="31.9" y1="333.50" x2="34.5" y2="333.50" stroke="#333333" stroke-width="1"/>
<text transform="translate(30.10,337.30) scale(1,1.2)" font-size="8.3" fill="#1a1a1a" stroke="#1a1a1a" stroke-width="0.08" text-anchor="end">1</text>
<line x1="31.9" y1="291.50" x2="34.5" y2="291.50" stroke="#333333" stroke-width="1"/>
<text transform="translate(30.10,295.67) scale(1,1.2)" font-size="8.3" fill="#1a1a1a" stroke="#1a1a1a" stroke-width="0.08" text-anchor="end">10</text>
<line x1="31.9" y1="250.50" x2="34.5" y2="250.50" stroke="#333333" stroke-width="1"/>
<text transform="translate(30.10,254.03) scale(1,1.2)" font-size="8.3" fill="#1a1a1a" stroke="#1a1a1a" stroke-width="0.08" text-anchor="end">100</text>
<line x1="31.9" y1="208.50" x2="34.5" y2="208.50" stroke="#333333" stroke-width="1"/>
<text transform="translate(30.10,212.40) scale(1,1.2)" font-size="8.3" fill="#1a1a1a" stroke="#1a1a1a" stroke-width="0.08" text-anchor="end">1000</text>
<line x1="85.50" y1="340.0" x2="85.50" y2="342.6" stroke="#333333" stroke-width="1"/>
<text transform="translate(85.67,351.20) scale(1,1.1)" font-size="8.5" fill="#1a1a1a" stroke="#1a1a1a" stroke-width="0.08" text-anchor="middle">day 0</text>
<line x1="170.50" y1="340.0" x2="170.50" y2="342.6" stroke="#333333" stroke-width="1"/>
<text transform="translate(170.95,351.20) scale(1,1.1)" font-size="8.5" fill="#1a1a1a" stroke="#1a1a1a" stroke-width="0.08" text-anchor="middle">day 29</text>
<line x1="256.50" y1="340.0" x2="256.50" y2="342.6" stroke="#333333" stroke-width="1"/>
<text transform="translate(256.23,351.20) scale(1,1.1)" font-size="8.5" fill="#1a1a1a" stroke="#1a1a1a" stroke-width="0.08" text-anchor="middle">1 year</text>
<text x="170.95" y="361.50" font-size="9.2" fill="#000" text-anchor="middle">Time points</text>
<text transform="translate(7.90,270.95) rotate(-90)" font-size="9.6" fill="#000" text-anchor="middle">GMT</text>
<text x="7.4" y="196.9" font-size="12" fill="#000">C</text>
<path d="M372.9,242.1 L372.9,243.1 L372.9,244.2 L372.9,245.2 L372.9,246.2 L373.0,247.2 L373.0,248.3 L373.1,249.3 L373.1,250.3 L373.2,251.3 L373.2,252.4 L373.3,253.4 L373.3,254.4 L373.4,255.4 L373.4,256.5 L373.5,257.5 L373.5,258.5 L373.6,259.6 L373.7,260.6 L373.9,261.6 L374.6,262.6 L374.8,263.7 L374.9,264.7 L375.0,265.7 L374.9,266.7 L374.7,267.8 L374.4,268.8 L374.0,269.8 L373.6,270.8 L373.6,271.9 L373.6,272.9 L373.6,273.9 L373.6,275.0 L373.6,276.0 L373.9,277.0 L374.3,278.0 L374.4,279.1 L374.5,280.1 L374.5,281.1 L374.0,282.1 L373.7,283.2 L373.7,284.2 L373.7,285.2 L374.0,286.3 L374.5,287.3 L374.7,288.3 L374.8,289.3 L374.8,290.4 L374.8,291.4 L374.9,292.4 L374.9,293.4 L374.9,294.5 L375.1,295.5 L375.3,296.5 L375.7,297.5 L376.4,298.6 L377.3,299.6 L378.5,300.6 L379.9,301.7 L381.2,302.7 L382.0,303.7 L381.5,304.7 L380.5,305.8 L379.4,306.8 L378.4,307.8 L377.4,308.8 L376.5,309.9 L375.6,310.9 L374.6,311.9 L373.5,312.9 L372.9,314.0 L372.9,315.0 L372.9,315.0 L372.8,314.0 L372.2,312.9 L371.1,311.9 L370.1,310.9 L369.2,309.9 L368.3,308.8 L367.3,307.8 L366.3,306.8 L365.2,305.8 L364.2,304.7 L363.7,303.7 L364.5,302.7 L365.8,301.7 L367.2,300.6 L368.4,299.6 L369.3,298.6 L370.0,297.5 L370.4,296.5 L370.6,295.5 L370.8,294.5 L370.8,293.4 L370.9,292.4 L370.9,291.4 L370.9,290.4 L370.9,289.3 L371.0,288.3 L371.2,287.3 L371.7,286.3 L372.0,285.2 L372.0,284.2 L372.0,283.2 L371.7,282.1 L371.2,281.1 L371.2,280.1 L371.3,279.1 L371.4,278.0 L371.8,277.0 L372.1,276.0 L372.1,275.0 L372.1,273.9 L372.1,272.9 L372.1,271.9 L372.1,270.8 L371.7,269.8 L371.3,268.8 L371.0,267.8 L370.8,266.7 L370.7,265.7 L370.8,264.7 L370.9,263.7 L371.1,262.6 L371.8,261.6 L372.0,260.6 L372.1,259.6 L372.2,258.5 L372.2,257.5 L372.3,256.5 L372.3,255.4 L372.4,254.4 L372.4,253.4 L372.5,252.4 L372.5,251.3 L372.6,250.3 L372.6,249.3 L372.7,248.3 L372.7,247.2 L372.8,246.2 L372.8,245.2 L372.9,244.2 L372.9,243.1 L372.9,242.1 Z" fill="#F5AAA6" stroke="#000" stroke-width="0.7"/>
<line x1="372.85" y1="252.00" x2="372.85" y2="288.80" stroke="#000" stroke-opacity="0.4" stroke-width="0.8"/>
<rect x="371.65" y="288.80" width="2.40" height="15.00" fill="#D2706A" stroke="#000" stroke-width="0.55"/>
<line x1="371.65" y1="303.30" x2="374.05" y2="303.30" stroke="#000" stroke-width="0.9"/>
<path d="M392.0,224.9 L392.0,225.9 L392.0,226.9 L392.0,228.0 L392.0,229.0 L392.0,230.0 L392.1,231.0 L392.1,232.0 L392.1,233.0 L392.2,234.1 L392.2,235.1 L392.2,236.1 L392.3,237.1 L392.3,238.1 L392.3,239.1 L392.4,240.2 L392.4,241.2 L392.4,242.2 L392.5,243.2 L392.5,244.2 L392.5,245.2 L392.5,246.3 L392.6,247.3 L392.6,248.3 L392.6,249.3 L392.6,250.3 L392.7,251.3 L392.7,252.4 L392.8,253.4 L392.8,254.4 L392.9,255.4 L392.9,256.4 L392.9,257.4 L392.9,258.5 L392.9,259.5 L392.9,260.5 L392.9,261.5 L393.0,262.5 L393.1,263.5 L393.6,264.6 L393.7,265.6 L393.7,266.6 L393.8,267.6 L393.8,268.6 L393.8,269.6 L393.8,270.7 L393.9,271.7 L394.3,272.7 L394.6,273.7 L394.7,274.7 L394.7,275.7 L394.7,276.8 L394.8,277.8 L394.8,278.8 L394.7,279.8 L394.7,280.8 L394.6,281.8 L394.6,282.9 L394.5,283.9 L394.5,284.9 L394.5,285.9 L394.5,286.9 L394.5,287.9 L394.5,289.0 L394.6,290.0 L394.6,291.0 L394.7,292.0 L394.9,293.0 L395.0,294.0 L395.2,295.1 L395.4,296.1 L395.6,297.1 L395.8,298.1 L396.0,299.1 L396.2,300.1 L396.4,301.2 L396.6,302.2 L396.7,303.2 L396.6,304.2 L396.4,305.2 L395.9,306.2 L395.4,307.3 L394.8,308.3 L394.4,309.3 L394.1,310.3 L393.8,311.3 L393.6,312.3 L393.3,313.4 L393.0,314.4 L392.5,315.4 L392.2,316.4 L392.1,317.4 L392.0,318.4 L392.0,319.5 L392.0,320.5 L392.0,321.5 L392.0,321.5 L392.0,320.5 L392.0,319.5 L392.0,318.4 L391.9,317.4 L391.8,316.4 L391.5,315.4 L391.0,314.4 L390.7,313.4 L390.4,312.3 L390.2,311.3 L389.9,310.3 L389.6,309.3 L389.2,308.3 L388.7,307.3 L388.1,306.2 L387.7,305.2 L387.4,304.2 L387.4,303.2 L387.5,302.2 L387.6,301.2 L387.8,300.1 L388.0,299.1 L388.3,298.1 L388.5,297.1 L388.7,296.1 L388.8,295.1 L389.0,294.0 L389.1,293.0 L389.3,292.0 L389.4,291.0 L389.5,290.0 L389.5,289.0 L389.5,287.9 L389.5,286.9 L389.6,285.9 L389.6,284.9 L389.5,283.9 L389.5,282.9 L389.4,281.8 L389.3,280.8 L389.3,279.8 L389.3,278.8 L389.3,277.8 L389.3,276.8 L389.3,275.7 L389.3,274.7 L389.4,273.7 L389.8,272.7 L390.1,271.7 L390.2,270.7 L390.2,269.6 L390.3,268.6 L390.3,267.6 L390.3,266.6 L390.3,265.6 L390.5,264.6 L390.9,263.5 L391.1,262.5 L391.1,261.5 L391.1,260.5 L391.1,259.5 L391.1,258.5 L391.1,257.4 L391.1,256.4 L391.2,255.4 L391.2,254.4 L391.2,253.4 L391.3,252.4 L391.3,251.3 L391.4,250.3 L391.4,249.3 L391.4,248.3 L391.5,247.3 L391.5,246.3 L391.5,245.2 L391.6,244.2 L391.6,243.2 L391.6,242.2 L391.6,241.2 L391.7,240.2 L391.7,239.1 L391.7,238.1 L391.8,237.1 L391.8,236.1 L391.8,235.1 L391.8,234.1 L391.9,233.0 L391.9,232.0 L392.0,231.0 L392.0,230.0 L392.0,229.0 L392.0,228.0 L392.0,226.9 L392.0,225.9 L392.0,224.9 Z" fill="#B6DC70" stroke="#000" stroke-width="0.7"/>
<line x1="392.01" y1="232.00" x2="392.01" y2="279.70" stroke="#000" stroke-opacity="0.4" stroke-width="0.8"/>
<rect x="390.81" y="279.70" width="2.40" height="25.30" fill="#7AAE28" stroke="#000" stroke-width="0.55"/>
<line x1="390.81" y1="291.30" x2="393.21" y2="291.30" stroke="#000" stroke-width="0.9"/>
<path d="M411.2,218.2 L411.2,219.2 L411.2,220.2 L411.2,221.3 L411.2,222.3 L411.2,223.3 L411.2,224.3 L411.3,225.3 L411.3,226.3 L411.3,227.4 L411.4,228.4 L411.4,229.4 L411.4,230.4 L411.5,231.4 L411.5,232.4 L411.5,233.5 L411.6,234.5 L411.6,235.5 L411.6,236.5 L411.6,237.5 L411.6,238.5 L411.6,239.6 L411.7,240.6 L411.7,241.6 L411.7,242.6 L411.7,243.6 L411.8,244.6 L411.8,245.7 L411.9,246.7 L411.9,247.7 L412.1,248.7 L412.4,249.7 L412.5,250.7 L412.5,251.8 L412.5,252.8 L412.6,253.8 L412.6,254.8 L412.6,255.8 L412.6,256.8 L412.6,257.9 L412.6,258.9 L412.7,259.9 L412.7,260.9 L412.8,261.9 L412.9,262.9 L413.1,264.0 L413.2,265.0 L413.3,266.0 L413.4,267.0 L413.4,268.0 L413.5,269.0 L413.5,270.1 L413.6,271.1 L413.6,272.1 L413.6,273.1 L413.6,274.1 L413.6,275.1 L413.6,276.2 L413.6,277.2 L413.6,278.2 L413.6,279.2 L413.6,280.2 L413.6,281.2 L413.6,282.3 L413.6,283.3 L413.6,284.3 L413.6,285.3 L413.6,286.3 L413.6,287.3 L413.6,288.4 L413.6,289.4 L413.6,290.4 L413.6,291.4 L413.6,292.4 L413.7,293.4 L413.7,294.5 L413.7,295.5 L413.7,296.5 L413.8,297.5 L413.8,298.5 L413.9,299.5 L413.9,300.6 L413.9,301.6 L413.9,302.6 L413.9,303.6 L413.9,304.6 L413.7,305.6 L413.5,306.7 L413.3,307.7 L413.0,308.7 L412.8,309.7 L412.6,310.7 L412.4,311.7 L412.3,312.8 L412.2,313.8 L412.0,314.8 L411.9,315.8 L411.6,316.8 L411.4,317.8 L411.3,318.9 L411.2,319.9 L411.2,320.9 L411.2,321.9 L411.2,322.9 L411.2,323.9 L411.2,325.0 L411.2,326.0 L411.2,327.0 L411.2,327.0 L411.2,326.0 L411.2,325.0 L411.2,323.9 L411.2,322.9 L411.2,321.9 L411.2,320.9 L411.1,319.9 L411.0,318.9 L411.0,317.8 L410.8,316.8 L410.5,315.8 L410.3,314.8 L410.2,313.8 L410.0,312.8 L409.9,311.7 L409.8,310.7 L409.6,309.7 L409.3,308.7 L409.1,307.7 L408.8,306.7 L408.6,305.6 L408.5,304.6 L408.4,303.6 L408.4,302.6 L408.4,301.6 L408.5,300.6 L408.5,299.5 L408.5,298.5 L408.6,297.5 L408.6,296.5 L408.6,295.5 L408.7,294.5 L408.7,293.4 L408.7,292.4 L408.7,291.4 L408.7,290.4 L408.7,289.4 L408.7,288.4 L408.7,287.3 L408.7,286.3 L408.7,285.3 L408.7,284.3 L408.7,283.3 L408.7,282.3 L408.7,281.2 L408.7,280.2 L408.7,279.2 L408.7,278.2 L408.7,277.2 L408.7,276.2 L408.7,275.1 L408.7,274.1 L408.7,273.1 L408.8,272.1 L408.8,271.1 L408.8,270.1 L408.9,269.0 L408.9,268.0 L409.0,267.0 L409.0,266.0 L409.1,265.0 L409.3,264.0 L409.4,262.9 L409.6,261.9 L409.6,260.9 L409.7,259.9 L409.7,258.9 L409.7,257.9 L409.7,256.8 L409.8,255.8 L409.8,254.8 L409.8,253.8 L409.8,252.8 L409.8,251.8 L409.9,250.7 L409.9,249.7 L410.2,248.7 L410.4,247.7 L410.5,246.7 L410.5,245.7 L410.6,244.6 L410.6,243.6 L410.6,242.6 L410.7,241.6 L410.7,240.6 L410.7,239.6 L410.7,238.5 L410.7,237.5 L410.8,236.5 L410.8,235.5 L410.8,234.5 L410.8,233.5 L410.9,232.4 L410.9,231.4 L410.9,230.4 L411.0,229.4 L411.0,228.4 L411.0,227.4 L411.0,226.3 L411.1,225.3 L411.1,224.3 L411.1,223.3 L411.2,222.3 L411.2,221.3 L411.2,220.2 L411.2,219.2 L411.2,218.2 Z" fill="#82EAE2" stroke="#000" stroke-width="0.7"/>
<line x1="411.17" y1="233.50" x2="411.17" y2="266.60" stroke="#000" stroke-opacity="0.4" stroke-width="0.8"/>
<rect x="409.97" y="266.60" width="2.40" height="37.40" fill="#4CC6C4" stroke="#000" stroke-width="0.55"/>
<line x1="409.97" y1="279.00" x2="412.37" y2="279.00" stroke="#000" stroke-width="0.9"/>
<path d="M430.3,234.5 L430.3,235.5 L430.4,236.5 L430.5,237.5 L430.5,238.6 L430.6,239.6 L430.7,240.6 L430.8,241.6 L430.8,242.6 L430.9,243.6 L430.9,244.6 L431.0,245.6 L431.0,246.7 L431.0,247.7 L431.1,248.7 L431.1,249.7 L431.1,250.7 L431.1,251.7 L431.1,252.7 L431.1,253.7 L431.2,254.8 L431.2,255.8 L431.3,256.8 L431.3,257.8 L431.4,258.8 L431.5,259.8 L431.6,260.8 L431.7,261.8 L431.8,262.9 L431.9,263.9 L432.1,264.9 L432.3,265.9 L432.4,266.9 L432.6,267.9 L432.8,268.9 L433.1,269.9 L433.3,270.9 L433.5,272.0 L433.7,273.0 L434.0,274.0 L434.2,275.0 L434.2,276.0 L434.2,277.0 L434.2,278.0 L434.2,279.1 L434.2,280.1 L434.0,281.1 L433.8,282.1 L433.5,283.1 L433.3,284.1 L433.2,285.1 L433.1,286.1 L433.0,287.1 L433.0,288.2 L432.9,289.2 L432.8,290.2 L432.8,291.2 L432.8,292.2 L432.8,293.2 L432.8,294.2 L432.8,295.2 L432.8,296.3 L432.8,297.3 L432.8,298.3 L432.9,299.3 L432.9,300.3 L433.0,301.3 L433.2,302.3 L433.3,303.4 L433.3,304.4 L433.2,305.4 L433.0,306.4 L432.8,307.4 L432.6,308.4 L432.4,309.4 L432.2,310.4 L432.0,311.5 L431.8,312.5 L431.6,313.5 L431.4,314.5 L431.1,315.5 L430.8,316.5 L430.6,317.5 L430.5,318.5 L430.4,319.6 L430.3,320.6 L430.3,321.6 L430.3,322.6 L430.3,323.6 L430.3,323.6 L430.3,322.6 L430.3,321.6 L430.3,320.6 L430.3,319.6 L430.2,318.5 L430.1,317.5 L429.8,316.5 L429.6,315.5 L429.3,314.5 L429.1,313.5 L428.9,312.5 L428.7,311.5 L428.5,310.4 L428.3,309.4 L428.0,308.4 L427.8,307.4 L427.6,306.4 L427.5,305.4 L427.4,304.4 L427.4,303.4 L427.5,302.3 L427.7,301.3 L427.8,300.3 L427.8,299.3 L427.8,298.3 L427.8,297.3 L427.9,296.3 L427.9,295.2 L427.9,294.2 L427.9,293.2 L427.9,292.2 L427.9,291.2 L427.8,290.2 L427.8,289.2 L427.7,288.2 L427.6,287.1 L427.6,286.1 L427.5,285.1 L427.4,284.1 L427.1,283.1 L426.9,282.1 L426.6,281.1 L426.5,280.1 L426.5,279.1 L426.5,278.0 L426.5,277.0 L426.5,276.0 L426.5,275.0 L426.7,274.0 L426.9,273.0 L427.2,272.0 L427.4,270.9 L427.6,269.9 L427.8,268.9 L428.0,267.9 L428.2,266.9 L428.4,265.9 L428.6,264.9 L428.7,263.9 L428.9,262.9 L429.0,261.8 L429.1,260.8 L429.2,259.8 L429.3,258.8 L429.3,257.8 L429.4,256.8 L429.5,255.8 L429.5,254.8 L429.5,253.7 L429.5,252.7 L429.6,251.7 L429.6,250.7 L429.6,249.7 L429.6,248.7 L429.6,247.7 L429.7,246.7 L429.7,245.6 L429.7,244.6 L429.8,243.6 L429.8,242.6 L429.9,241.6 L430.0,240.6 L430.0,239.6 L430.1,238.6 L430.2,237.5 L430.3,236.5 L430.3,235.5 L430.3,234.5 Z" fill="#DDAAFA" stroke="#000" stroke-width="0.7"/>
<line x1="430.33" y1="240.00" x2="430.33" y2="279.00" stroke="#000" stroke-opacity="0.4" stroke-width="0.8"/>
<rect x="429.13" y="279.00" width="2.40" height="26.00" fill="#BC78E4" stroke="#000" stroke-width="0.55"/>
<line x1="429.13" y1="292.00" x2="431.53" y2="292.00" stroke="#000" stroke-width="0.9"/>
<path d="M458.0,234.5 L458.0,235.5 L458.0,236.5 L458.0,237.6 L458.0,238.6 L458.0,239.6 L458.0,240.6 L458.0,241.6 L458.0,242.7 L458.1,243.7 L458.1,244.7 L458.2,245.7 L458.2,246.7 L458.3,247.8 L458.4,248.8 L458.5,249.8 L458.7,250.8 L458.9,251.9 L458.8,252.9 L458.8,253.9 L458.7,254.9 L458.7,255.9 L458.7,257.0 L458.8,258.0 L459.0,259.0 L459.2,260.0 L459.3,261.0 L459.4,262.1 L459.6,263.1 L459.7,264.1 L459.8,265.1 L459.8,266.1 L459.9,267.2 L459.8,268.2 L459.8,269.2 L459.7,270.2 L459.7,271.2 L459.7,272.3 L459.7,273.3 L459.7,274.3 L459.7,275.3 L459.7,276.3 L459.7,277.4 L459.7,278.4 L459.7,279.4 L459.7,280.4 L459.7,281.5 L459.7,282.5 L459.8,283.5 L459.9,284.5 L460.0,285.5 L460.1,286.6 L460.3,287.6 L460.5,288.6 L460.7,289.6 L460.8,290.6 L461.1,291.7 L461.4,292.7 L461.7,293.7 L462.0,294.7 L462.2,295.7 L462.4,296.8 L462.5,297.8 L462.6,298.8 L462.7,299.8 L462.8,300.8 L462.9,301.9 L462.8,302.9 L462.7,303.9 L462.5,304.9 L462.2,305.9 L462.0,307.0 L461.7,308.0 L461.3,309.0 L460.9,310.0 L460.5,311.1 L460.0,312.1 L459.6,313.1 L459.2,314.1 L458.8,315.1 L458.5,316.2 L458.3,317.2 L458.2,318.2 L458.1,319.2 L458.0,320.2 L458.0,321.3 L458.0,322.3 L458.0,323.3 L458.0,323.3 L458.0,322.3 L458.0,321.3 L458.0,320.2 L457.9,319.2 L457.8,318.2 L457.7,317.2 L457.5,316.2 L457.2,315.1 L456.8,314.1 L456.4,313.1 L456.0,312.1 L455.5,311.1 L455.1,310.0 L454.7,309.0 L454.4,308.0 L454.1,307.0 L453.8,305.9 L453.5,304.9 L453.3,303.9 L453.2,302.9 L453.2,301.9 L453.2,300.8 L453.3,299.8 L453.4,298.8 L453.5,297.8 L453.6,296.8 L453.8,295.7 L454.0,294.7 L454.3,293.7 L454.7,292.7 L455.0,291.7 L455.2,290.6 L455.4,289.6 L455.5,288.6 L455.7,287.6 L455.9,286.6 L456.0,285.5 L456.2,284.5 L456.3,283.5 L456.3,282.5 L456.4,281.5 L456.4,280.4 L456.4,279.4 L456.4,278.4 L456.4,277.4 L456.4,276.3 L456.4,275.3 L456.4,274.3 L456.4,273.3 L456.4,272.3 L456.4,271.2 L456.3,270.2 L456.3,269.2 L456.2,268.2 L456.2,267.2 L456.2,266.1 L456.2,265.1 L456.3,264.1 L456.5,263.1 L456.6,262.1 L456.7,261.0 L456.8,260.0 L457.0,259.0 L457.2,258.0 L457.3,257.0 L457.4,255.9 L457.3,254.9 L457.3,253.9 L457.2,252.9 L457.2,251.9 L457.4,250.8 L457.6,249.8 L457.6,248.8 L457.7,247.8 L457.8,246.7 L457.8,245.7 L457.9,244.7 L457.9,243.7 L458.0,242.7 L458.0,241.6 L458.0,240.6 L458.0,239.6 L458.0,238.6 L458.0,237.6 L458.0,236.5 L458.0,235.5 L458.0,234.5 Z" fill="#F5AAA6" stroke="#000" stroke-width="0.7"/>
<line x1="458.01" y1="240.00" x2="458.01" y2="279.20" stroke="#000" stroke-opacity="0.4" stroke-width="0.8"/>
<rect x="456.81" y="279.20" width="2.40" height="24.00" fill="#D2706A" stroke="#000" stroke-width="0.55"/>
<line x1="456.81" y1="302.00" x2="459.21" y2="302.00" stroke="#000" stroke-width="0.9"/>
<path d="M477.2,223.9 L477.2,224.9 L477.2,225.9 L477.2,226.9 L477.2,228.0 L477.2,229.0 L477.2,230.0 L477.2,231.0 L477.2,232.0 L477.2,233.0 L477.2,234.1 L477.2,235.1 L477.2,236.1 L477.3,237.1 L477.3,238.1 L477.3,239.1 L477.4,240.2 L477.4,241.2 L477.5,242.2 L477.5,243.2 L477.6,244.2 L477.6,245.2 L477.7,246.2 L477.8,247.3 L477.9,248.3 L478.0,249.3 L478.3,250.3 L478.5,251.3 L478.6,252.3 L478.6,253.4 L478.7,254.4 L478.7,255.4 L478.8,256.4 L478.8,257.4 L478.9,258.4 L478.9,259.4 L479.0,260.5 L479.0,261.5 L479.1,262.5 L479.2,263.5 L479.4,264.5 L479.5,265.5 L479.5,266.6 L479.5,267.6 L479.5,268.6 L479.5,269.6 L479.5,270.6 L479.5,271.6 L479.5,272.6 L479.5,273.7 L479.5,274.7 L479.5,275.7 L479.5,276.7 L479.5,277.7 L479.5,278.7 L479.5,279.8 L479.5,280.8 L479.5,281.8 L479.5,282.8 L479.4,283.8 L479.4,284.8 L479.3,285.9 L479.2,286.9 L479.1,287.9 L479.1,288.9 L479.0,289.9 L479.0,290.9 L479.1,291.9 L479.2,293.0 L479.3,294.0 L479.5,295.0 L479.7,296.0 L479.8,297.0 L480.0,298.0 L480.1,299.1 L480.2,300.1 L480.4,301.1 L480.5,302.1 L480.5,303.1 L480.5,304.1 L480.3,305.1 L480.0,306.2 L479.7,307.2 L479.5,308.2 L479.2,309.2 L478.9,310.2 L478.5,311.2 L478.2,312.3 L477.9,313.3 L477.7,314.3 L477.5,315.3 L477.3,316.3 L477.2,317.3 L477.2,318.4 L477.2,319.4 L477.2,320.4 L477.2,321.4 L477.2,321.4 L477.2,320.4 L477.2,319.4 L477.2,318.4 L477.1,317.3 L477.0,316.3 L476.9,315.3 L476.7,314.3 L476.4,313.3 L476.1,312.3 L475.8,311.2 L475.5,310.2 L475.2,309.2 L474.9,308.2 L474.6,307.2 L474.3,306.2 L474.1,305.1 L473.9,304.1 L473.8,303.1 L473.9,302.1 L474.0,301.1 L474.1,300.1 L474.2,299.1 L474.4,298.0 L474.5,297.0 L474.7,296.0 L474.9,295.0 L475.0,294.0 L475.2,293.0 L475.3,291.9 L475.3,290.9 L475.3,289.9 L475.3,288.9 L475.2,287.9 L475.1,286.9 L475.1,285.9 L475.0,284.8 L474.9,283.8 L474.9,282.8 L474.8,281.8 L474.8,280.8 L474.8,279.8 L474.8,278.7 L474.8,277.7 L474.8,276.7 L474.8,275.7 L474.8,274.7 L474.8,273.7 L474.8,272.6 L474.8,271.6 L474.8,270.6 L474.8,269.6 L474.8,268.6 L474.8,267.6 L474.8,266.6 L474.9,265.5 L475.0,264.5 L475.1,263.5 L475.2,262.5 L475.3,261.5 L475.4,260.5 L475.4,259.4 L475.5,258.4 L475.5,257.4 L475.5,256.4 L475.6,255.4 L475.6,254.4 L475.7,253.4 L475.8,252.3 L475.9,251.3 L476.1,250.3 L476.3,249.3 L476.5,248.3 L476.6,247.3 L476.6,246.2 L476.7,245.2 L476.7,244.2 L476.8,243.2 L476.9,242.2 L476.9,241.2 L477.0,240.2 L477.0,239.1 L477.0,238.1 L477.1,237.1 L477.1,236.1 L477.1,235.1 L477.2,234.1 L477.2,233.0 L477.2,232.0 L477.2,231.0 L477.2,230.0 L477.2,229.0 L477.2,228.0 L477.2,226.9 L477.2,225.9 L477.2,224.9 L477.2,223.9 Z" fill="#B6DC70" stroke="#000" stroke-width="0.7"/>
<line x1="477.17" y1="235.00" x2="477.17" y2="262.00" stroke="#000" stroke-opacity="0.4" stroke-width="0.8"/>
<rect x="475.97" y="262.00" width="2.40" height="36.40" fill="#7AAE28" stroke="#000" stroke-width="0.55"/>
<line x1="475.97" y1="279.20" x2="478.37" y2="279.20" stroke="#000" stroke-width="0.9"/>
<path d="M496.3,218.2 L496.3,219.2 L496.3,220.2 L496.3,221.2 L496.3,222.2 L496.3,223.2 L496.3,224.3 L496.3,225.3 L496.3,226.3 L496.3,227.3 L496.4,228.3 L496.4,229.3 L496.4,230.3 L496.5,231.3 L496.5,232.3 L496.6,233.3 L496.6,234.3 L496.7,235.4 L496.7,236.4 L496.8,237.4 L496.8,238.4 L496.9,239.4 L497.0,240.4 L497.0,241.4 L497.1,242.4 L497.3,243.4 L497.4,244.4 L497.6,245.5 L497.7,246.5 L497.8,247.5 L497.9,248.5 L497.9,249.5 L498.0,250.5 L498.0,251.5 L498.0,252.5 L498.1,253.5 L498.1,254.5 L498.2,255.5 L498.2,256.6 L498.3,257.6 L498.4,258.6 L498.4,259.6 L498.5,260.6 L498.6,261.6 L498.6,262.6 L498.7,263.6 L498.7,264.6 L498.8,265.6 L498.8,266.6 L498.8,267.7 L498.8,268.7 L498.8,269.7 L498.8,270.7 L498.8,271.7 L498.8,272.7 L498.8,273.7 L498.7,274.7 L498.7,275.7 L498.7,276.7 L498.7,277.8 L498.7,278.8 L498.7,279.8 L498.7,280.8 L498.7,281.8 L498.7,282.8 L498.6,283.8 L498.6,284.8 L498.6,285.8 L498.5,286.8 L498.5,287.8 L498.5,288.9 L498.5,289.9 L498.5,290.9 L498.5,291.9 L498.5,292.9 L498.5,293.9 L498.6,294.9 L498.6,295.9 L498.6,296.9 L498.6,297.9 L498.7,298.9 L498.7,300.0 L498.7,301.0 L498.6,302.0 L498.6,303.0 L498.5,304.0 L498.4,305.0 L498.4,306.0 L498.3,307.0 L498.2,308.0 L498.1,309.0 L498.0,310.1 L497.9,311.1 L497.7,312.1 L497.6,313.1 L497.4,314.1 L497.1,315.1 L496.9,316.1 L496.7,317.1 L496.6,318.1 L496.5,319.1 L496.4,320.1 L496.4,321.2 L496.3,322.2 L496.3,323.2 L496.3,324.2 L496.3,325.2 L496.3,326.2 L496.3,326.2 L496.3,325.2 L496.3,324.2 L496.3,323.2 L496.3,322.2 L496.3,321.2 L496.2,320.1 L496.2,319.1 L496.1,318.1 L496.0,317.1 L495.8,316.1 L495.5,315.1 L495.3,314.1 L495.1,313.1 L494.9,312.1 L494.8,311.1 L494.7,310.1 L494.6,309.0 L494.5,308.0 L494.4,307.0 L494.3,306.0 L494.2,305.0 L494.1,304.0 L494.1,303.0 L494.0,302.0 L494.0,301.0 L494.0,300.0 L494.0,298.9 L494.0,297.9 L494.0,296.9 L494.1,295.9 L494.1,294.9 L494.1,293.9 L494.2,292.9 L494.2,291.9 L494.2,290.9 L494.2,289.9 L494.2,288.9 L494.1,287.8 L494.1,286.8 L494.1,285.8 L494.1,284.8 L494.0,283.8 L494.0,282.8 L494.0,281.8 L494.0,280.8 L494.0,279.8 L494.0,278.8 L493.9,277.8 L493.9,276.7 L493.9,275.7 L493.9,274.7 L493.9,273.7 L493.9,272.7 L493.9,271.7 L493.9,270.7 L493.9,269.7 L493.9,268.7 L493.9,267.7 L493.9,266.6 L493.9,265.6 L493.9,264.6 L494.0,263.6 L494.0,262.6 L494.1,261.6 L494.2,260.6 L494.2,259.6 L494.3,258.6 L494.4,257.6 L494.4,256.6 L494.5,255.5 L494.5,254.5 L494.6,253.5 L494.6,252.5 L494.7,251.5 L494.7,250.5 L494.8,249.5 L494.8,248.5 L494.9,247.5 L494.9,246.5 L495.0,245.5 L495.2,244.4 L495.4,243.4 L495.6,242.4 L495.6,241.4 L495.7,240.4 L495.8,239.4 L495.8,238.4 L495.9,237.4 L495.9,236.4 L496.0,235.4 L496.1,234.3 L496.1,233.3 L496.2,232.3 L496.2,231.3 L496.2,230.3 L496.3,229.3 L496.3,228.3 L496.3,227.3 L496.3,226.3 L496.3,225.3 L496.3,224.3 L496.3,223.2 L496.3,222.2 L496.3,221.2 L496.3,220.2 L496.3,219.2 L496.3,218.2 Z" fill="#82EAE2" stroke="#000" stroke-width="0.7"/>
<line x1="496.33" y1="228.00" x2="496.33" y2="262.00" stroke="#000" stroke-opacity="0.4" stroke-width="0.8"/>
<rect x="495.13" y="262.00" width="2.40" height="30.70" fill="#4CC6C4" stroke="#000" stroke-width="0.55"/>
<line x1="495.13" y1="279.20" x2="497.53" y2="279.20" stroke="#000" stroke-width="0.9"/>
<path d="M515.5,220.1 L515.5,221.1 L515.5,222.1 L515.5,223.1 L515.5,224.1 L515.5,225.2 L515.5,226.2 L515.5,227.2 L515.5,228.2 L515.5,229.2 L515.5,230.2 L515.6,231.2 L515.6,232.2 L515.6,233.2 L515.7,234.2 L515.7,235.3 L515.7,236.3 L515.7,237.3 L515.8,238.3 L515.8,239.3 L515.8,240.3 L515.9,241.3 L515.9,242.3 L515.9,243.3 L516.0,244.4 L516.0,245.4 L516.0,246.4 L516.1,247.4 L516.1,248.4 L516.2,249.4 L516.4,250.4 L516.8,251.4 L516.9,252.4 L517.0,253.4 L517.1,254.5 L517.1,255.5 L517.1,256.5 L517.2,257.5 L517.2,258.5 L517.2,259.5 L517.3,260.5 L517.4,261.5 L517.4,262.5 L517.5,263.6 L517.6,264.6 L517.7,265.6 L517.8,266.6 L517.9,267.6 L518.1,268.6 L518.4,269.6 L518.6,270.6 L518.6,271.6 L518.6,272.6 L518.6,273.7 L518.6,274.7 L518.6,275.7 L518.5,276.7 L518.5,277.7 L518.4,278.7 L518.4,279.7 L518.4,280.7 L518.3,281.7 L518.3,282.8 L518.2,283.8 L518.2,284.8 L518.1,285.8 L518.0,286.8 L518.0,287.8 L517.9,288.8 L517.9,289.8 L517.8,290.8 L517.8,291.9 L517.8,292.9 L517.8,293.9 L517.7,294.9 L517.7,295.9 L517.7,296.9 L517.7,297.9 L517.7,298.9 L517.6,299.9 L517.6,300.9 L517.6,302.0 L517.6,303.0 L517.5,304.0 L517.5,305.0 L517.4,306.0 L517.4,307.0 L517.3,308.0 L517.3,309.0 L517.2,310.0 L517.0,311.1 L516.9,312.1 L516.7,313.1 L516.6,314.1 L516.3,315.1 L516.0,316.1 L515.8,317.1 L515.7,318.1 L515.7,319.1 L515.6,320.1 L515.5,321.2 L515.5,322.2 L515.5,323.2 L515.5,324.2 L515.5,325.2 L515.5,325.2 L515.5,324.2 L515.5,323.2 L515.5,322.2 L515.4,321.2 L515.4,320.1 L515.3,319.1 L515.2,318.1 L515.2,317.1 L515.0,316.1 L514.7,315.1 L514.4,314.1 L514.2,313.1 L514.1,312.1 L513.9,311.1 L513.8,310.0 L513.7,309.0 L513.6,308.0 L513.6,307.0 L513.5,306.0 L513.5,305.0 L513.5,304.0 L513.4,303.0 L513.4,302.0 L513.4,300.9 L513.3,299.9 L513.3,298.9 L513.3,297.9 L513.3,296.9 L513.2,295.9 L513.2,294.9 L513.2,293.9 L513.2,292.9 L513.2,291.9 L513.1,290.8 L513.1,289.8 L513.1,288.8 L513.0,287.8 L513.0,286.8 L512.9,285.8 L512.8,284.8 L512.8,283.8 L512.7,282.8 L512.7,281.7 L512.6,280.7 L512.6,279.7 L512.5,278.7 L512.5,277.7 L512.5,276.7 L512.4,275.7 L512.4,274.7 L512.4,273.7 L512.3,272.6 L512.3,271.6 L512.4,270.6 L512.6,269.6 L512.8,268.6 L513.0,267.6 L513.2,266.6 L513.3,265.6 L513.4,264.6 L513.5,263.6 L513.6,262.5 L513.6,261.5 L513.7,260.5 L513.7,259.5 L513.8,258.5 L513.8,257.5 L513.8,256.5 L513.9,255.5 L513.9,254.5 L514.0,253.4 L514.1,252.4 L514.2,251.4 L514.6,250.4 L514.8,249.4 L514.8,248.4 L514.9,247.4 L515.0,246.4 L515.0,245.4 L515.0,244.4 L515.1,243.3 L515.1,242.3 L515.1,241.3 L515.1,240.3 L515.2,239.3 L515.2,238.3 L515.2,237.3 L515.3,236.3 L515.3,235.3 L515.3,234.2 L515.4,233.2 L515.4,232.2 L515.4,231.2 L515.4,230.2 L515.5,229.2 L515.5,228.2 L515.5,227.2 L515.5,226.2 L515.5,225.2 L515.5,224.1 L515.5,223.1 L515.5,222.1 L515.5,221.1 L515.5,220.1 Z" fill="#DDAAFA" stroke="#000" stroke-width="0.7"/>
<line x1="515.49" y1="240.00" x2="515.49" y2="262.00" stroke="#000" stroke-opacity="0.4" stroke-width="0.8"/>
<rect x="514.29" y="262.00" width="2.40" height="28.70" fill="#BC78E4" stroke="#000" stroke-width="0.55"/>
<line x1="514.29" y1="279.20" x2="516.69" y2="279.20" stroke="#000" stroke-width="0.9"/>
<path d="M543.2,220.1 L543.2,221.1 L543.2,222.1 L543.2,223.1 L543.2,224.1 L543.2,225.2 L543.2,226.2 L543.2,227.2 L543.2,228.2 L543.2,229.2 L543.3,230.2 L543.3,231.2 L543.3,232.2 L543.3,233.3 L543.4,234.3 L543.4,235.3 L543.4,236.3 L543.4,237.3 L543.5,238.3 L543.5,239.3 L543.5,240.3 L543.5,241.3 L543.6,242.4 L543.6,243.4 L543.6,244.4 L543.6,245.4 L543.6,246.4 L543.7,247.4 L543.7,248.4 L543.7,249.4 L543.7,250.4 L543.8,251.5 L543.8,252.5 L543.8,253.5 L543.9,254.5 L543.9,255.5 L544.0,256.5 L544.2,257.5 L544.4,258.5 L544.5,259.6 L544.6,260.6 L544.7,261.6 L544.8,262.6 L544.9,263.6 L544.9,264.6 L545.0,265.6 L545.0,266.6 L545.0,267.6 L545.0,268.7 L545.0,269.7 L545.0,270.7 L545.0,271.7 L545.0,272.7 L545.0,273.7 L545.0,274.7 L545.0,275.7 L545.0,276.8 L545.0,277.8 L545.0,278.8 L545.0,279.8 L545.0,280.8 L545.0,281.8 L545.0,282.8 L545.1,283.8 L545.1,284.8 L545.2,285.9 L545.2,286.9 L545.3,287.9 L545.4,288.9 L545.4,289.9 L545.5,290.9 L545.7,291.9 L546.0,292.9 L546.2,294.0 L546.5,295.0 L546.7,296.0 L546.9,297.0 L547.0,298.0 L547.1,299.0 L547.2,300.0 L547.3,301.0 L547.3,302.0 L547.3,303.1 L547.1,304.1 L546.8,305.1 L546.6,306.1 L546.3,307.1 L546.0,308.1 L545.7,309.1 L545.5,310.1 L545.2,311.1 L544.9,312.2 L544.7,313.2 L544.4,314.2 L544.0,315.2 L543.7,316.2 L543.5,317.2 L543.4,318.2 L543.3,319.2 L543.2,320.3 L543.2,321.3 L543.2,322.3 L543.2,323.3 L543.2,324.3 L543.2,324.3 L543.2,323.3 L543.2,322.3 L543.2,321.3 L543.2,320.3 L543.1,319.2 L543.0,318.2 L542.9,317.2 L542.6,316.2 L542.3,315.2 L542.0,314.2 L541.7,313.2 L541.4,312.2 L541.1,311.1 L540.9,310.1 L540.6,309.1 L540.3,308.1 L540.1,307.1 L539.8,306.1 L539.5,305.1 L539.2,304.1 L539.1,303.1 L539.0,302.0 L539.0,301.0 L539.1,300.0 L539.2,299.0 L539.3,298.0 L539.5,297.0 L539.6,296.0 L539.8,295.0 L540.1,294.0 L540.4,292.9 L540.6,291.9 L540.8,290.9 L540.9,289.9 L541.0,288.9 L541.0,287.9 L541.1,286.9 L541.2,285.9 L541.2,284.8 L541.3,283.8 L541.3,282.8 L541.3,281.8 L541.3,280.8 L541.3,279.8 L541.3,278.8 L541.3,277.8 L541.3,276.8 L541.3,275.7 L541.3,274.7 L541.3,273.7 L541.3,272.7 L541.3,271.7 L541.3,270.7 L541.3,269.7 L541.3,268.7 L541.3,267.6 L541.3,266.6 L541.3,265.6 L541.4,264.6 L541.4,263.6 L541.5,262.6 L541.6,261.6 L541.7,260.6 L541.8,259.6 L541.9,258.5 L542.1,257.5 L542.3,256.5 L542.4,255.5 L542.5,254.5 L542.5,253.5 L542.5,252.5 L542.6,251.5 L542.6,250.4 L542.6,249.4 L542.7,248.4 L542.7,247.4 L542.7,246.4 L542.7,245.4 L542.7,244.4 L542.7,243.4 L542.8,242.4 L542.8,241.3 L542.8,240.3 L542.8,239.3 L542.9,238.3 L542.9,237.3 L542.9,236.3 L542.9,235.3 L543.0,234.3 L543.0,233.3 L543.0,232.2 L543.0,231.2 L543.1,230.2 L543.1,229.2 L543.1,228.2 L543.1,227.2 L543.2,226.2 L543.2,225.2 L543.2,224.1 L543.2,223.1 L543.2,222.1 L543.2,221.1 L543.2,220.1 Z" fill="#F5AAA6" stroke="#000" stroke-width="0.7"/>
<line x1="543.17" y1="230.00" x2="543.17" y2="279.20" stroke="#000" stroke-opacity="0.4" stroke-width="0.8"/>
<rect x="541.97" y="279.20" width="2.40" height="24.90" fill="#D2706A" stroke="#000" stroke-width="0.55"/>
<line x1="541.97" y1="290.70" x2="544.37" y2="290.70" stroke="#000" stroke-width="0.9"/>
<path d="M562.3,223.0 L562.3,224.0 L562.3,225.0 L562.3,226.0 L562.4,227.1 L562.4,228.1 L562.4,229.1 L562.5,230.1 L562.5,231.1 L562.6,232.1 L562.6,233.1 L562.6,234.2 L562.7,235.2 L562.7,236.2 L562.7,237.2 L562.8,238.2 L562.8,239.2 L562.8,240.2 L562.8,241.3 L562.8,242.3 L562.9,243.3 L562.9,244.3 L562.9,245.3 L562.9,246.3 L563.0,247.3 L563.0,248.4 L563.1,249.4 L563.1,250.4 L563.2,251.4 L563.3,252.4 L563.4,253.4 L563.5,254.5 L563.6,255.5 L563.7,256.5 L563.8,257.5 L563.9,258.5 L564.0,259.5 L564.1,260.5 L564.2,261.6 L564.3,262.6 L564.3,263.6 L564.4,264.6 L564.4,265.6 L564.5,266.6 L564.5,267.6 L564.6,268.7 L564.6,269.7 L564.7,270.7 L564.7,271.7 L564.7,272.7 L564.7,273.7 L564.6,274.7 L564.6,275.8 L564.6,276.8 L564.5,277.8 L564.5,278.8 L564.5,279.8 L564.5,280.8 L564.5,281.8 L564.5,282.9 L564.5,283.9 L564.5,284.9 L564.5,285.9 L564.6,286.9 L564.6,287.9 L564.6,288.9 L564.7,290.0 L564.7,291.0 L564.8,292.0 L564.9,293.0 L565.0,294.0 L565.1,295.0 L565.3,296.0 L565.4,297.1 L565.6,298.1 L565.6,299.1 L565.7,300.1 L565.7,301.1 L565.6,302.1 L565.4,303.2 L565.3,304.2 L565.1,305.2 L565.0,306.2 L564.8,307.2 L564.6,308.2 L564.3,309.2 L564.1,310.3 L563.8,311.3 L563.5,312.3 L563.2,313.3 L562.9,314.3 L562.6,315.3 L562.5,316.3 L562.4,317.4 L562.3,318.4 L562.3,319.4 L562.3,320.4 L562.3,320.4 L562.3,319.4 L562.3,318.4 L562.3,317.4 L562.2,316.3 L562.0,315.3 L561.8,314.3 L561.4,313.3 L561.1,312.3 L560.8,311.3 L560.6,310.3 L560.3,309.2 L560.1,308.2 L559.9,307.2 L559.7,306.2 L559.5,305.2 L559.4,304.2 L559.2,303.2 L559.1,302.1 L559.0,301.1 L559.0,300.1 L559.0,299.1 L559.1,298.1 L559.2,297.1 L559.4,296.0 L559.5,295.0 L559.7,294.0 L559.8,293.0 L559.9,292.0 L560.0,291.0 L560.0,290.0 L560.0,288.9 L560.1,287.9 L560.1,286.9 L560.1,285.9 L560.1,284.9 L560.2,283.9 L560.2,282.9 L560.2,281.8 L560.2,280.8 L560.2,279.8 L560.1,278.8 L560.1,277.8 L560.1,276.8 L560.1,275.8 L560.0,274.7 L560.0,273.7 L560.0,272.7 L560.0,271.7 L560.0,270.7 L560.0,269.7 L560.1,268.7 L560.1,267.6 L560.2,266.6 L560.2,265.6 L560.3,264.6 L560.3,263.6 L560.4,262.6 L560.5,261.6 L560.5,260.5 L560.6,259.5 L560.7,258.5 L560.8,257.5 L561.0,256.5 L561.1,255.5 L561.2,254.5 L561.3,253.4 L561.4,252.4 L561.5,251.4 L561.5,250.4 L561.6,249.4 L561.6,248.4 L561.7,247.3 L561.7,246.3 L561.7,245.3 L561.8,244.3 L561.8,243.3 L561.8,242.3 L561.8,241.3 L561.8,240.2 L561.9,239.2 L561.9,238.2 L561.9,237.2 L562.0,236.2 L562.0,235.2 L562.0,234.2 L562.1,233.1 L562.1,232.1 L562.1,231.1 L562.2,230.1 L562.2,229.1 L562.3,228.1 L562.3,227.1 L562.3,226.0 L562.3,225.0 L562.3,224.0 L562.3,223.0 Z" fill="#B6DC70" stroke="#000" stroke-width="0.7"/>
<line x1="562.33" y1="235.40" x2="562.33" y2="267.70" stroke="#000" stroke-opacity="0.4" stroke-width="0.8"/>
<rect x="561.13" y="267.70" width="2.40" height="32.60" fill="#7AAE28" stroke="#000" stroke-width="0.55"/>
<line x1="561.13" y1="279.20" x2="563.53" y2="279.20" stroke="#000" stroke-width="0.9"/>
<path d="M581.5,217.6 L581.5,218.6 L581.5,219.6 L581.5,220.6 L581.5,221.7 L581.5,222.7 L581.5,223.7 L581.5,224.7 L581.5,225.7 L581.5,226.7 L581.5,227.7 L581.6,228.8 L581.6,229.8 L581.7,230.8 L581.7,231.8 L581.8,232.8 L581.8,233.8 L581.9,234.8 L582.0,235.8 L582.0,236.9 L582.1,237.9 L582.2,238.9 L582.3,239.9 L582.6,240.9 L582.8,241.9 L582.8,242.9 L582.8,244.0 L582.8,245.0 L582.8,246.0 L582.8,247.0 L582.8,248.0 L582.8,249.0 L582.8,250.0 L582.8,251.1 L582.8,252.1 L582.8,253.1 L582.8,254.1 L582.8,255.1 L583.0,256.1 L583.2,257.1 L583.4,258.2 L583.4,259.2 L583.5,260.2 L583.5,261.2 L583.6,262.2 L583.6,263.2 L583.7,264.2 L583.7,265.3 L583.8,266.3 L583.9,267.3 L584.0,268.3 L584.1,269.3 L584.3,270.3 L584.3,271.3 L584.3,272.4 L584.3,273.4 L584.3,274.4 L584.3,275.4 L584.3,276.4 L584.3,277.4 L584.3,278.4 L584.3,279.4 L584.3,280.5 L584.3,281.5 L584.3,282.5 L584.3,283.5 L584.3,284.5 L584.2,285.5 L584.2,286.5 L584.2,287.6 L584.2,288.6 L584.1,289.6 L584.1,290.6 L584.1,291.6 L584.1,292.6 L584.1,293.6 L584.1,294.7 L584.1,295.7 L584.1,296.7 L584.1,297.7 L584.1,298.7 L584.1,299.7 L584.1,300.7 L584.1,301.8 L584.0,302.8 L583.9,303.8 L583.8,304.8 L583.6,305.8 L583.5,306.8 L583.4,307.8 L583.2,308.9 L583.1,309.9 L582.9,310.9 L582.7,311.9 L582.5,312.9 L582.3,313.9 L582.0,314.9 L581.7,315.9 L581.7,317.0 L581.6,318.0 L581.5,319.0 L581.5,320.0 L581.5,321.0 L581.5,322.0 L581.5,323.0 L581.5,324.1 L581.5,325.1 L581.5,326.1 L581.5,327.1 L581.5,327.1 L581.5,326.1 L581.5,325.1 L581.5,324.1 L581.5,323.0 L581.5,322.0 L581.5,321.0 L581.5,320.0 L581.4,319.0 L581.4,318.0 L581.3,317.0 L581.2,315.9 L581.0,314.9 L580.7,313.9 L580.5,312.9 L580.3,311.9 L580.1,310.9 L579.9,309.9 L579.8,308.9 L579.6,307.8 L579.5,306.8 L579.3,305.8 L579.2,304.8 L579.1,303.8 L579.0,302.8 L578.9,301.8 L578.8,300.7 L578.8,299.7 L578.8,298.7 L578.8,297.7 L578.8,296.7 L578.8,295.7 L578.8,294.7 L578.8,293.6 L578.8,292.6 L578.8,291.6 L578.8,290.6 L578.8,289.6 L578.8,288.6 L578.8,287.6 L578.8,286.5 L578.7,285.5 L578.7,284.5 L578.7,283.5 L578.6,282.5 L578.6,281.5 L578.6,280.5 L578.6,279.4 L578.6,278.4 L578.6,277.4 L578.6,276.4 L578.6,275.4 L578.6,274.4 L578.6,273.4 L578.6,272.4 L578.6,271.3 L578.7,270.3 L578.8,269.3 L579.0,268.3 L579.1,267.3 L579.2,266.3 L579.2,265.3 L579.3,264.2 L579.3,263.2 L579.4,262.2 L579.4,261.2 L579.5,260.2 L579.5,259.2 L579.6,258.2 L579.8,257.1 L580.0,256.1 L580.1,255.1 L580.1,254.1 L580.1,253.1 L580.1,252.1 L580.1,251.1 L580.1,250.0 L580.1,249.0 L580.1,248.0 L580.1,247.0 L580.1,246.0 L580.1,245.0 L580.1,244.0 L580.1,242.9 L580.1,241.9 L580.3,240.9 L580.6,239.9 L580.8,238.9 L580.9,237.9 L580.9,236.9 L581.0,235.8 L581.1,234.8 L581.1,233.8 L581.2,232.8 L581.3,231.8 L581.3,230.8 L581.4,229.8 L581.4,228.8 L581.4,227.7 L581.5,226.7 L581.5,225.7 L581.5,224.7 L581.5,223.7 L581.5,222.7 L581.5,221.7 L581.5,220.6 L581.5,219.6 L581.5,218.6 L581.5,217.6 Z" fill="#82EAE2" stroke="#000" stroke-width="0.7"/>
<line x1="581.49" y1="225.00" x2="581.49" y2="262.00" stroke="#000" stroke-opacity="0.4" stroke-width="0.8"/>
<rect x="580.29" y="262.00" width="2.40" height="31.60" fill="#4CC6C4" stroke="#000" stroke-width="0.55"/>
<line x1="580.29" y1="279.20" x2="582.69" y2="279.20" stroke="#000" stroke-width="0.9"/>
<path d="M600.6,222.0 L600.6,223.0 L600.6,224.0 L600.6,225.0 L600.6,226.1 L600.6,227.1 L600.7,228.1 L600.7,229.1 L600.7,230.1 L600.8,231.1 L600.8,232.1 L600.8,233.1 L600.9,234.2 L600.9,235.2 L600.9,236.2 L601.0,237.2 L601.0,238.2 L601.0,239.2 L601.1,240.2 L601.1,241.2 L601.1,242.3 L601.1,243.3 L601.2,244.3 L601.2,245.3 L601.2,246.3 L601.3,247.3 L601.3,248.3 L601.4,249.4 L601.4,250.4 L601.6,251.4 L601.8,252.4 L602.0,253.4 L602.1,254.4 L602.3,255.4 L602.5,256.4 L602.6,257.5 L602.7,258.5 L602.8,259.5 L602.9,260.5 L603.0,261.5 L603.1,262.5 L603.2,263.5 L603.3,264.6 L603.3,265.6 L603.4,266.6 L603.6,267.6 L603.7,268.6 L603.9,269.6 L604.1,270.6 L604.2,271.6 L604.4,272.7 L604.6,273.7 L604.7,274.7 L604.8,275.7 L604.8,276.7 L604.6,277.7 L604.5,278.7 L604.2,279.7 L604.1,280.8 L603.9,281.8 L603.8,282.8 L603.6,283.8 L603.5,284.8 L603.4,285.8 L603.3,286.8 L603.1,287.9 L603.0,288.9 L603.0,289.9 L602.9,290.9 L602.8,291.9 L602.8,292.9 L602.7,293.9 L602.7,294.9 L602.7,296.0 L602.6,297.0 L602.6,298.0 L602.6,299.0 L602.5,300.0 L602.5,301.0 L602.4,302.0 L602.4,303.1 L602.3,304.1 L602.3,305.1 L602.3,306.1 L602.2,307.1 L602.1,308.1 L602.1,309.1 L602.0,310.1 L601.8,311.2 L601.5,312.2 L601.3,313.2 L601.1,314.2 L600.9,315.2 L600.8,316.2 L600.7,317.2 L600.7,318.2 L600.6,319.3 L600.6,320.3 L600.6,321.3 L600.6,322.3 L600.6,322.3 L600.6,321.3 L600.6,320.3 L600.6,319.3 L600.6,318.2 L600.5,317.2 L600.5,316.2 L600.4,315.2 L600.2,314.2 L600.0,313.2 L599.8,312.2 L599.5,311.2 L599.3,310.1 L599.2,309.1 L599.2,308.1 L599.1,307.1 L599.0,306.1 L599.0,305.1 L598.9,304.1 L598.9,303.1 L598.9,302.0 L598.8,301.0 L598.8,300.0 L598.7,299.0 L598.7,298.0 L598.7,297.0 L598.6,296.0 L598.6,294.9 L598.6,293.9 L598.5,292.9 L598.5,291.9 L598.4,290.9 L598.3,289.9 L598.3,288.9 L598.2,287.9 L598.0,286.8 L597.9,285.8 L597.8,284.8 L597.7,283.8 L597.5,282.8 L597.4,281.8 L597.2,280.8 L597.0,279.7 L596.8,278.7 L596.7,277.7 L596.5,276.7 L596.5,275.7 L596.6,274.7 L596.7,273.7 L596.9,272.7 L597.0,271.6 L597.2,270.6 L597.4,269.6 L597.6,268.6 L597.7,267.6 L597.8,266.6 L597.9,265.6 L598.0,264.6 L598.1,263.5 L598.2,262.5 L598.3,261.5 L598.3,260.5 L598.4,259.5 L598.6,258.5 L598.7,257.5 L598.8,256.4 L599.0,255.4 L599.2,254.4 L599.3,253.4 L599.5,252.4 L599.7,251.4 L599.8,250.4 L599.9,249.4 L600.0,248.3 L600.0,247.3 L600.1,246.3 L600.1,245.3 L600.1,244.3 L600.2,243.3 L600.2,242.3 L600.2,241.2 L600.2,240.2 L600.3,239.2 L600.3,238.2 L600.3,237.2 L600.4,236.2 L600.4,235.2 L600.4,234.2 L600.5,233.1 L600.5,232.1 L600.5,231.1 L600.6,230.1 L600.6,229.1 L600.6,228.1 L600.6,227.1 L600.6,226.1 L600.6,225.0 L600.6,224.0 L600.6,223.0 L600.6,222.0 Z" fill="#DDAAFA" stroke="#000" stroke-width="0.7"/>
<line x1="600.65" y1="238.30" x2="600.65" y2="262.00" stroke="#000" stroke-opacity="0.4" stroke-width="0.8"/>
<rect x="599.45" y="262.00" width="2.40" height="28.70" fill="#BC78E4" stroke="#000" stroke-width="0.55"/>
<line x1="599.45" y1="279.20" x2="601.85" y2="279.20" stroke="#000" stroke-width="0.9"/>
<path d="M350.5,201.8 V340.0 H623.0" fill="none" stroke="#333333" stroke-width="1"/>
<line x1="347.9" y1="333.50" x2="350.5" y2="333.50" stroke="#333333" stroke-width="1"/>
<text transform="translate(346.10,337.20) scale(1,1.2)" font-size="8.3" fill="#1a1a1a" stroke="#1a1a1a" stroke-width="0.08" text-anchor="end">1</text>
<line x1="347.9" y1="291.50" x2="350.5" y2="291.50" stroke="#333333" stroke-width="1"/>
<text transform="translate(346.10,295.50) scale(1,1.2)" font-size="8.3" fill="#1a1a1a" stroke="#1a1a1a" stroke-width="0.08" text-anchor="end">10</text>
<line x1="347.9" y1="249.50" x2="350.5" y2="249.50" stroke="#333333" stroke-width="1"/>
<text transform="translate(346.10,253.80) scale(1,1.2)" font-size="8.3" fill="#1a1a1a" stroke="#1a1a1a" stroke-width="0.08" text-anchor="end">100</text>
<line x1="347.9" y1="208.50" x2="350.5" y2="208.50" stroke="#333333" stroke-width="1"/>
<text transform="translate(346.10,212.10) scale(1,1.2)" font-size="8.3" fill="#1a1a1a" stroke="#1a1a1a" stroke-width="0.08" text-anchor="end">1000</text>
<line x1="401.50" y1="340.0" x2="401.50" y2="342.6" stroke="#333333" stroke-width="1"/>
<text transform="translate(401.59,351.20) scale(1,1.1)" font-size="8.5" fill="#1a1a1a" stroke="#1a1a1a" stroke-width="0.08" text-anchor="middle">day 0</text>
<line x1="486.50" y1="340.0" x2="486.50" y2="342.6" stroke="#333333" stroke-width="1"/>
<text transform="translate(486.75,351.20) scale(1,1.1)" font-size="8.5" fill="#1a1a1a" stroke="#1a1a1a" stroke-width="0.08" text-anchor="middle">day 29</text>
<line x1="571.50" y1="340.0" x2="571.50" y2="342.6" stroke="#333333" stroke-width="1"/>
<text transform="translate(571.91,351.20) scale(1,1.1)" font-size="8.5" fill="#1a1a1a" stroke="#1a1a1a" stroke-width="0.08" text-anchor="middle">1 year</text>
<text x="486.75" y="361.50" font-size="9.2" fill="#000" text-anchor="middle">Time points</text>
<text transform="translate(323.90,270.90) rotate(-90)" font-size="9.6" fill="#000" text-anchor="middle">GMT</text>
<text x="324.4" y="196.6" font-size="12" fill="#000">D</text>
<text x="636.2" y="58.8" font-size="8.4" fill="#000">Agegroups</text>
<rect x="637.0" y="64.5" width="12.6" height="12.4" fill="#F8766D" fill-opacity="0.5" stroke="#333" stroke-width="0.7"/>
<rect x="638.0" y="67.48" width="10.6" height="6.20" fill="#F8766D" fill-opacity="0.6" stroke="#333" stroke-width="0.5"/>
<line x1="637.6" y1="70.70" x2="649.0" y2="70.70" stroke="#111" stroke-width="0.8"/>
<line x1="643.3" y1="64.5" x2="643.3" y2="67.60" stroke="#111" stroke-width="0.7"/>
<line x1="643.3" y1="73.80" x2="643.3" y2="76.9" stroke="#111" stroke-width="0.7"/>
<text x="654.4" y="73.20" font-size="7.1" fill="#000">40-49 yrs</text>
<rect x="637.0" y="78.2" width="12.6" height="12.4" fill="#7CAE00" fill-opacity="0.5" stroke="#333" stroke-width="0.7"/>
<rect x="638.0" y="81.18" width="10.6" height="6.20" fill="#7CAE00" fill-opacity="0.6" stroke="#333" stroke-width="0.5"/>
<line x1="637.6" y1="84.40" x2="649.0" y2="84.40" stroke="#111" stroke-width="0.8"/>
<line x1="643.3" y1="78.2" x2="643.3" y2="81.30" stroke="#111" stroke-width="0.7"/>
<line x1="643.3" y1="87.50" x2="643.3" y2="90.60000000000001" stroke="#111" stroke-width="0.7"/>
<text x="654.4" y="86.90" font-size="7.1" fill="#000">40-69 yrs</text>
<rect x="637.0" y="91.9" width="12.6" height="12.4" fill="#00BFC4" fill-opacity="0.5" stroke="#333" stroke-width="0.7"/>
<rect x="638.0" y="94.88" width="10.6" height="6.20" fill="#00BFC4" fill-opacity="0.6" stroke="#333" stroke-width="0.5"/>
<line x1="637.6" y1="98.10" x2="649.0" y2="98.10" stroke="#111" stroke-width="0.8"/>
<line x1="643.3" y1="91.9" x2="643.3" y2="95.00" stroke="#111" stroke-width="0.7"/>
<line x1="643.3" y1="101.20" x2="643.3" y2="104.30000000000001" stroke="#111" stroke-width="0.7"/>
<text x="654.4" y="100.60" font-size="7.1" fill="#000">50-59 yrs</text>
<rect x="637.0" y="105.6" width="12.6" height="12.4" fill="#C77CFF" fill-opacity="0.5" stroke="#333" stroke-width="0.7"/>
<rect x="638.0" y="108.58" width="10.6" height="6.20" fill="#C77CFF" fill-opacity="0.6" stroke="#333" stroke-width="0.5"/>
<line x1="637.6" y1="111.80" x2="649.0" y2="111.80" stroke="#111" stroke-width="0.8"/>
<line x1="643.3" y1="105.6" x2="643.3" y2="108.70" stroke="#111" stroke-width="0.7"/>
<line x1="643.3" y1="114.90" x2="643.3" y2="118.0" stroke="#111" stroke-width="0.7"/>
<text x="654.4" y="114.30" font-size="7.1" fill="#000">60-69 yrs</text>
</svg></body></html>
